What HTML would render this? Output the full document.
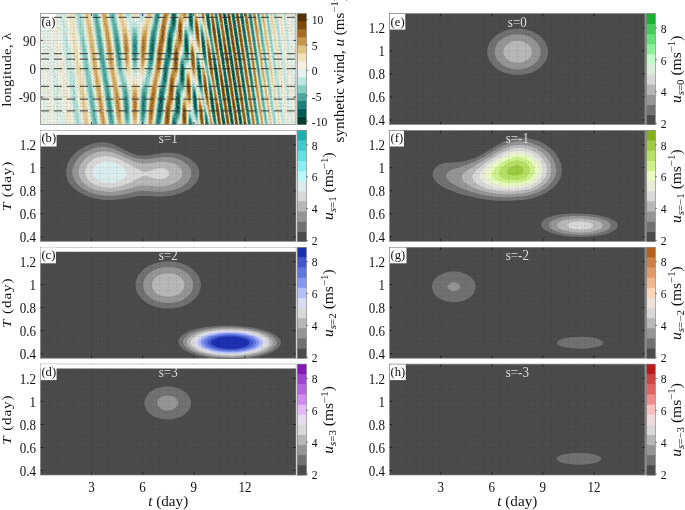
<!DOCTYPE html>
<html><head><meta charset="utf-8"><title>figure</title>
<style>html,body{margin:0;padding:0;background:#fff}svg{display:block}</style></head>
<body><svg width="685" height="510" viewBox="0 0 685 510" font-family="Liberation Serif, serif">
<defs>
<filter id="nz1" x="0" y="0" width="100%" height="100%" color-interpolation-filters="sRGB">
<feTurbulence type="fractalNoise" baseFrequency="0.9 0.95" numOctaves="1" seed="4" result="n"/>
<feColorMatrix in="n" type="matrix" values="0 0 0 0 0.68  0 0 0 0 0.89  0 0 0 0 0.85  4 0 0 0 -2.35" result="a"/>
<feColorMatrix in="n" type="matrix" values="0 0 0 0 0.95  0 0 0 0 0.84  0 0 0 0 0.64  0 4 0 0 -2.35" result="b"/>
<feMerge><feMergeNode in="a"/><feMergeNode in="b"/></feMerge>
</filter>
<filter id="nz2" x="0" y="0" width="100%" height="100%" color-interpolation-filters="sRGB">
<feTurbulence type="fractalNoise" baseFrequency="0.93 0.9" numOctaves="1" seed="11" result="n"/>
<feColorMatrix in="n" type="matrix" values="0 0 0 0 0.96  0 0 0 0 0.95  0 0 0 0 0.91  0 0 3 0 -1.45"/>
</filter>
<clipPath id="ca"><rect x="40.4" y="13.6" width="255.6" height="110.9"/></clipPath></defs>
<rect width="685" height="510" fill="#fff"/>
<rect x="40.4" y="13.6" width="255.6" height="110.9" fill="#f1f0e4"/>
<g clip-path="url(#ca)">
<path fill="#e7f1ec" fill-rule="evenodd" d="M40.4 125.4l9.5 0-3.5-27.6-2.5-22-1.2-14-0.1-3.8 0.3-2 0.5 0.7 1 3.4 3 14.5 4 22.5 4.6 28.3 9.9 0-9.2-63.6-6.8-49.8-9.5 0zM73.7 125.4l9 0-16.8-113.4-9.9 0zM90.7 124.8l0.1 0.6 8.8 0-14.3-95.8-2.6-17.6-9 0zM107.7 125.4l8.6 0-1.2-8.2-3.2-25.8-4.3-25.2-4.2-30.3-3.8-23.9-8.8 0 8.2 54.8 4.3 26.9zM124 125.4l7.8 0-0.6-8.2-0.9-23.3-0.7-7.6-1.1-4.4-2.9-7.5-1.3-5.7-1-7.8-1.7-19.3-0.9-7.5-1.1-6.3-3.3-15.8-8.6 0 4.2 24.6 4 31.5 3.7 17.6 0.9 5.7 1 8.2 1.6 18.9zM138.3 125.4l7.7 0 0.8-6.3 1.3-18.3 0.9-8.2 1.1-6.3 4.3-20.7 2.7-24.6 3.7-22.7 1.2-6.3-8.4 0-1.2 6.3-2.5 9.5-1.1 7.5-2.2 25.2-1.2 9.5-1.2 4.8-1 2.3-2.4 4.2-0.9 3.8-0.4 6.9-0.7 24zM153.6 125.4l8.4 0 1.3-6.9 1.9-17.7 2.5-13.2 1.6-13.9 2.7-12.6 1.7-18.2 0.5-2.5 1.5-4.8 0.6-2.8 1.2-15.8 1-5-8.1 0-0.9 6.9-2.5 10.7-1.8 16.4-2 12.2-1.9 14.9-3 14.5zM170.4 125.4l8.1 0 1.4-3.2 0.6-1.8 0.5-4.4 0.5-12.6 0.4-4.5 0.8-2.7 2-2.6 0.5-2.4 0.4-17.5 0.4-4.4 0.7-1.8 0.5-0.3 2 0.2 0.5-1.2 0.2-4.4-0.1-19.6 0.2-3.1 0.7-1.3 0.5 0.2 1 1.1 2.2 3.8 0.3 0.8 0.1-0.2-1.2-31.5-6.1 0-0.1 6.9-0.3 3.2-0.7 1.2-1.7 1-0.8 2.2-0.4 4.4-0.4 12-0.3 5-0.6 2.5-1.9 3.8-0.6 2.5-1.3 18.3-0.6 3.2-1.6 4.1-0.6 2.8-1.6 17.6-2.4 11.4zM187.5 125.4l6.1 0 0.2-3.2 0.4-1.4 0.5 0.3 0.5 0.7 1.5 3.6 3 0-0.9-8.2-2-29-0.4-1.9-1.4-3.7-1.8-3.4-0.5-0.6-0.5-0.1-0.5 1.5-0.1 3.2 0.4 20.2-0.1 5-0.2 1.1-0.5 0.4-2-1.3-0.5 0-0.6 1-0.5 4.5zM204.8 125.4l4.8 0-1.4-9.4-3.2-15.2-1-5.6-1-8.9-1.6-18.9-0.9-6.9-1.8-6.9-3.5-9-0.1 3.9 1 18.3 1.2 18.3 0.7 3.1 2.9 8.9 1.4 6.3 1.1 7.5zM213.5 125.4l4 0-4.6-34-4.5-25.2-3.5-30.9-1.2-6.3-3.2-12.6-0.8-4.4-3 0 1.2 3.8 1 5.7 2.1 25.2 0.9 8.1 4.6 21.5 3.9 31.5zM221.9 125.4l4.4 0-4.9-31.5-4.2-30.2-4.3-25.2-3.3-26.5-4.8 0 1.6 13.9 4.4 23.3 4 30.8 4.4 25.9zM230.5 125.4l4.2 0-9.2-61.1-3.7-26.5-4.3-25.8-4 0 1.9 12 4 29 3.9 23.9zM239 125.4l4.3 0-17-113.4-4.4 0zM247.5 125.4l4.3 0-17.1-113.4-4.2 0zM256 125.4l4.4 0-17.1-113.4-4.3 0zM264.5 125.4l4.4 0-17.1-113.4-4.3 0zM273 125.4l4.5 0-17.1-113.4-4.4 0zM281.4 125.4l4.7 0-17.2-113.4-4.4 0zM289.8 125.4l5 0-17.3-113.4-4.5 0zM296 110.9l-0.1-35.3-9.8-63.6-4.7 0zM134.1 77.5l1.2 0.3 1.4-0.6 1-1.6 0.5-1.9 0.6-6.3 0.6-26.4 0.7-9.5 0.8-4.4 3.5-8.8 1.6-6.3-7.7 0-0.5 3.8-0.6 2.2-1 1.6-0.9 0.4-1-0.4-0.5-0.5-0.8-1.4-0.7-2.4-0.5-3.3-7.8 0 1.3 5.9 3.1 8.6 1 4.4 0.8 8.8 0.8 22.7 0.5 7.6 0.9 5 0.9 1.7zM296 54.2l-0.1-35.3-1.1-6.9-5 0z"/>
<path fill="#daeeeb" fill-rule="evenodd" d="M58.3 124.8l0.1 0.6 6.1 0-5.1-31.3-4.5-25.6-3-14.8-1-3.6-0.5-1-0.3 1.3 0.1 3.8 1.2 14.3 3 25.8zM74.5 125.4l7.6 0-17.6-113.4-6.1 0 6.8 49.1zM91.3 125.4l7.9 0-17.1-113.4-7.6 0zM108.1 125.4l7.8 0-4.1-32.2-4.4-25.8-4.1-29.6-4.1-25.8-7.9 0 7.9 53.6 4.2 26.4zM124.5 125.4l6.7 0-1.1-27.1-0.8-9.4-0.8-4.5-3.1-8.8-1.3-5.6-1-7.6-1.7-18.9-0.9-8.2-1-5.7-3.6-17.6-7.8 0 4 23.3 4 31.5 3.8 18.3 0.9 5 0.8 7.6 1.7 19.5zM138.8 125.4l6.7 0 1.1-7.6 1.3-18.9 0.8-6.9 1.2-6.9 4.3-20.5 0.8-6 1.9-18.2 4.8-28.4-7.8 0-1.2 6.8-2.6 10.2-1.2 8.2-2.1 24.6-1.1 8.8-0.6 3.1-0.9 3-3 6.5-1 5-0.6 9.5zM153.9 125.4l7.8 0 0.5-2.5 1.2-6.9 1.7-16.4 2.4-12.6 1.7-14.5 2.6-12 1.7-18.3 0.7-3.1 1.5-4.9 0.5-2.7 1.1-14.5 0.8-5-7.5 0-0.9 7.5-2 8.1-0.6 3.3-1.7 15.8-2.1 12.5-1.8 14.5-3.1 15.2zM170.6 125.4l7.5 0 2.2-5.7 0.5-4.4 0.9-17 0.9-3.1 1.8-2.6 0.6-2.5 0.5-17.6 0.3-3.8 0.4-1.7 0.5-0.8 0.5-0.1 1.5 0.1 0.5-0.6 0.3-1.9 0.2-4.5-0.2-18.2 0.2-2.5 0.5-1.8 0.5-0.2 0.5 0.4 2.5 3 0.5-0.6 0-5.9-0.8-21.4-5.7 0 0 7.6-0.4 3.7-0.6 1.2-1.5 0.5-0.5 0.5-0.6 1.6-0.5 4.4-0.4 13.3-0.3 4.4-0.7 2.5-1.5 2.7-0.8 3-1.3 18.2-0.6 3.2-1.7 4.4-0.6 2.9-1.5 17.3-0.5 3.1-2 8.3zM187.7 125.4l5.7 0 0-4.4 0.3-2.3 0.5 0.3 1 1.7 1.9 4.7 2.3 0-2.1-29-0.7-6.9-0.7-3.2-0.9-2.5-1.3-2.8-1-1-0.5 0.4-0.2 0.9-0.2 3.8 0.4 25.8-0.2 0.6-0.3 0.3-1.6-1.5-0.9-0.6-0.5 0.2-0.5 1-0.4 4.4zM204.9 125.4l4.6 0-1.6-10.1-3-13.8-1-5.7-2.6-27.1-1-7.6-1.6-6.7-1.5-4-1-1.7-0.5 0.9 0 5.2 0.8 17.1 0.8 10.7 1 5 3 10.1 1.1 5 1 6.9zM213.6 125.4l3.8 0-4.5-33.4-4.6-25.2-3.5-30.9-1.4-7.5-3.1-11.4-0.9-5-2.3 0 1.3 4.4 0.6 3.8 2 24.6 0.9 8.8 1.1 5.6 2.8 12 1 5.7 3.6 30.2zM222 125.4l4.2 0-4.8-30.9-4.2-30.2-4.4-25.2-3.3-27.1-4.6 0 1.7 13.9 4.4 23.3 3.9 30.2 4.4 26.5zM230.6 125.4l4 0-9.2-61.1-3.7-26.5-4.3-25.8-3.8 0 2.1 13.2 3.7 27.1 4 24.6zM239.1 125.4l4.1 0-17-113.4-4.2 0zM247.5 124.8l0.1 0.6 4.1 0-17.1-113.4-4 0zM256 124.8l0.1 0.6 4.1 0-17-113.4-4.1 0zM264.7 125.4l4 0-17-113.4-4.1 0zM273.3 125.4l3.8 0-16.9-113.4-4.1 0zM281.9 125.4l3.5 0-16.7-113.4-4 0zM290.8 125.4l2.8 0-16.5-113.4-3.8 0zM295.9 100.8l0.1 0.4 0-15.1-10.6-74.1-3.5 0zM134.5 75.6l0.8 0.2 0.5-0.1 0.9-1 0.9-2.2 0.5-3.2 0.6-8.8 0.6-25.8 0.5-6.9 0.9-3.2 2.5-5.2 1-2.5 1.3-4.9-6.7 0-0.4 5-0.4 2.6-0.8 1.6-0.5 0.4-0.9 0.4-1-0.2-1-0.5-1.2-1.7-0.8-3-0.6-4.6-6.7 0 1.3 5.4 2.9 7.2 1 3.8 0.7 7.5 0.8 23.3 0.6 8.2 1 5.6 0.9 2zM295.9 44.1l0.1 0.4 0-15.1-2.4-17.4-2.8 0z"/>
<path fill="#c4e8e2" fill-rule="evenodd" d="M75.3 125.4l6.2 0-6.7-41.7-6.9-41.5-4-20.4-1-3.5-0.5 0.1 0.5 9.6 2.5 22.7 4 31.2zM91.7 125.4l7.1 0-4.5-30.6-12.8-82.8-6.2 0zM108.5 125.4l7 0-4-31.5-4.3-25.8-4.4-30.9-4-25.2-7.1 0 7.6 51.7 4.3 27.1zM124.9 125.4l5.8 0-0.8-23.9-0.9-11.4-0.9-4.4-3-8.8-1.2-5-0.9-7-1.7-19.5-1-8.8-1-5.9-2.7-12.4-1.1-6.3-7 0 3.9 22.7 3.9 30.9 4.6 22.6 1 8.2 1.7 20.2zM139.3 125.4l5.7 0 0.3-1.3 1.1-7.5 1.4-19.5 0.7-7 1.1-5.7 4.6-21.7 2.6-23.6 4.6-27.1-7.2 0-1.2 7.6-2.8 10.7-1.1 8.2-2.2 25.2-1 8.8-1.2 5-3.3 7.6-0.9 5-0.7 12zM154.2 125.4l7.2 0 0.8-4 1.1-6.7 1.6-15.8 2.3-11.9 1.8-15.1 2.7-12.2 1.7-18.1 2.6-10.7 1.2-15.1 0.5-3.8-6.9 0-0.9 8.2-2.1 8.2-0.6 3.6-1.6 15.3-2.1 12.6-1.8 14.5-3.1 15.1zM170.8 125.4l6.9 0 2.5-6.9 0.5-4.3 0.5-12.7 0.5-5.1 0.5-1.9 2-2.7 0.6-2.9 0.5-17.7 0.4-4.2 0.5-1.5 0.5-0.5 1.5 0 0.5-0.2 0.5-1.8 0.3-5.6-0.2-17.7 0.3-3.8 0.6-0.8 0.5 0.2 2.5 2.7 0.5-0.3 0.2-1.1 0-7-0.7-17.6-5.3 0 0 8.8-0.3 3.8-0.4 1.1-2 0.4-0.5 0.7-0.5 1.8-0.5 4.8-0.6 16.4-0.4 2.3-1.9 3.4-0.7 2.5-0.4 3.8-1 15.6-0.6 2.6-1.7 4.4-0.6 2.6-1.5 17.6-2.4 10.7zM187.9 125.4l5.3 0-0.4-6.9-0.4-3.2-1.6-3.1-1.1-1.2-0.5-0.1-0.6 0.6-0.5 2.6zM197.6 125.4l1.4 0-2.1-31.5-0.7-4.4-0.9-3.8-1.6-3.7-0.5-0.6-0.5 0-0.6 1.8-0.1 6.3 0.4 14.5 0.5 9.4 0.6 2.6zM205 125.4l4.4 0-1.7-10.1-2.8-12.6-1-5.6-2.6-27.1-1-7.6-1.6-7.1-1-2.7-1-1.7-0.5 0.1-0.2 0.7 0 5.7 0.6 13.2 0.8 10.1 1.1 6.3 2.9 10.1 1.4 6.3 0.7 5.6zM213.6 124.8l0.1 0.6 3.6 0-4-29.6-1.5-9.5-3.5-18.2-3-27.1-1.3-8.8-1.9-7.8-2.6-8.6-0.5-3.8-1.4 0 0.9 2.5 0.5 2.5 1.9 25.2 1 10.1 1 5.7 2.9 12.6 1.1 5.7 3.6 30.2zM222.1 125.4l4 0-4.8-30.2-4.2-30.4-4.6-27-3.1-25.8-4.4 0 1.8 14.5 3.1 15.7 1.4 8.2 3.6 28.4 4.4 26.4zM230.6 124.8l0.1 0.6 3.8 0-9.1-60.5-4.1-29-4-23.9-3.6 0 2.1 12.6 3.6 27.1 4 24.6zM239.1 124.8l0.1 0.6 3.9 0-17-113.4-4 0zM247.7 125.4l3.8 0-13.4-90.1-3.6-23.3-3.8 0zM256.3 125.4l3.7 0-16.9-113.4-3.9 0zM264.9 125.4l3.5 0-16.8-113.2-0.1-0.2-3.8 0zM273.5 124.8l0.1 0.6 3.1 0-16.6-113.1-0.1-0.3-3.7 0zM282.5 124.8l0.1 0.6 2.1 0-16.3-113.4-3.5 0zM288.5 102.7l0.2-0.6-0.2-3.9-2-16.1-9.8-70.1-3.1 0 9.9 62.5zM134.9 73.7l0.9-0.1 1.1-1.7 0.7-3.2 0.5-4.4 0.6-20.8 0.1-13.2-0.2-4.4-0.6-1.3-3.7-0.9-1-0.5-1.2-1.1-0.6-1.3-0.4-1.9-0.4-6.9-5.8 0 1.4 4.8 1 2.3 2.3 4.2 0.6 1.9 0.4 5.1 0.7 23.9 0.7 10.7 0.5 3.8 0.6 2.5 0.7 1.6 0.5 0.6zM288.5 46l0.2-0.6-0.2-3.9-3.8-29.5-2.1 0 3.4 20.7zM139.6 20.8l0.1 0.3 0.5 0.3 0.5-0.2 1.5-1.8 1.5-3.1 1.3-4.3-5.7 0 0 6.3z"/>
<path fill="#afe1d9" fill-rule="evenodd" d="M76.2 125.4l4.5 0-6.9-40.2-2.4-12.1-1-3.1-0.2 1.9 0.1 3.7 1.1 10.6zM92.2 125.4l6.2 0-4.6-30.9-13.1-82.5-4.5 0 6.6 48.5zM108.8 124.8l0.1 0.6 6.2 0-3.8-30.8-4.2-24.6-4.3-30.6-4.4-27.4-6.2 0 7.1 49.1 4.7 29.7zM125.5 125.4l4.6 0-0.3-20.7-1-12.7-1-5-3.1-8.8-1.1-5.1-0.9-6.9-1.5-18.3-1.1-9.4-0.9-5.7-2.8-13.2-1.3-7.6-6.2 0 3.6 20.8 3.8 30.9 1.5 7.6 2.3 9.4 1.1 5.6 0.8 7.6 1.8 20.8 0.8 6.3zM139.9 125.4l4.6 0 0.7-3.1 1-7.4 1.4-19.7 0.8-7 5.6-25.8 0.7-5.7 1.9-18.2 4.4-26.5-6.5 0-1.3 8.2-2.9 12-1.1 8.2-2.1 25.8-0.9 7.5-1.2 5.1-3.2 7.5-1.1 5.7-0.8 14.5zM154.5 125.4l6.5 0 1.2-5.5 1-6.3 1.5-15.3 2.5-12.9 1.7-14.2 0.7-3.8 1.6-6.3 0.5-3.1 1.5-17.2 0.5-2.6 1.5-4.9 0.6-3 1.6-18.3-6.4 0-0.9 8.8-1.9 7.6-0.9 4.4-1.6 15.4-2.1 12.3-1.8 15.1-3.1 14.7zM171 125.4l6.4 0 0.6-2.5 1.6-3.8 0.5-1.9 0.5-5 0.5-12 0.3-4.4 0.8-2.6 1.5-1.8 0.5-1 0.5-2.6 0.7-21.6 0.3-1.4 0.5-0.8 2-0.2 0.5-0.6 0.4-2.1 0.2-5.6-0.1-21.4 0.5-0.9 0.5 0.3 2.5 2.9 0.5 0 0.4-1.7 0.1-7.6-0.7-15.1-5 0 0.2 11.3-0.2 3.2-0.3 0.8-2-0.3-0.5 0.3-0.5 0.9-0.4 1.4-0.4 5.1-0.3 12.6-0.3 4.4-0.6 2.1-1.5 2-0.4 0.9-0.6 2.6-1.3 18.9-0.5 2.5-1.7 3.9-0.7 3-1.6 18.3-2.4 10.1zM188 125.4l5 0-0.5-5.7-0.5-3.1-1.2-3.2-1.1-1.3-0.5 0-0.5 0.7-0.4 1.9zM198.1 124.8l0.4-1.9-0.3-6.9-1.5-21.5-0.6-4.4-0.8-3.1-1.1-3.1-1-1.3-0.5 0.4-0.2 0.8-0.4 5.1 0.4 11.9 0.6 9.5 0.4 3.1 0.9 3.2 2.3 5.5zM205.1 124.8l0.1 0.6 4 0-1.6-9.8-3.8-17.3-2.5-27.1-1.1-8.2-1.5-6.7-1-2.6-0.5-0.9-0.5-0.3-0.5 2.3 0 5.1 0.5 10.1 0.7 9.4 1.2 6.9 3.3 11.4 0.9 4.4 0.7 5zM213.9 125.4l3.3 0-4.5-32.8-4.7-25.8-2.6-23.9-1-7.6-1.8-8.2-1.5-4.9-0.9-2-0.3 2.5 0.3 7 0.8 12.5 1 8.9 1 6.3 2.8 11.9 1.1 5.7 3.6 30.9zM222.2 125.4l3.8 0-5.1-32.1-3.8-27.8-4.6-27-3.3-26.5-4 0 1.7 13.9 4.4 23.3 3.6 29 4.4 26.4zM230.8 125.4l3.6 0-4.3-29.4-4.7-29.8-4.3-30.4-3.9-23.8-3.3 0 1.9 12 3.7 27.7 4.3 26.5zM239.3 125.4l3.7 0-16.9-112.9-0.1-0.5-3.8 0zM247.9 125.4l3.5 0-13.3-89.3-3.7-24.1-3.6 0zM256.5 125.4l3.3 0-16.7-112.6-0.1-0.8-3.7 0zM265.2 125.4l2.9 0-16.5-112.3-0.2-1.1-3.5 0zM274 125.4l2.2 0-16.4-113.4-3.3 0zM281.5 112.2l0-3.1-2.5-20-10.9-77.1-2.9 0 11.3 72.2 3.5 20.6zM134.2 71.2l0.6 0.5 0.5 0 0.9-1 0.9-2.6 0.5-3.2 0.7-11.3 0-17-0.3-5.7-0.7-3.1-0.6-0.9-0.9-0.7-2.5-0.5-0.7 0.2-0.6 0.6-0.5 2.5-0.2 5.7 0.1 10.7 0.3 10.7 0.6 7.3 0.8 5.3zM281.5 55.5l0-3.1-0.5-4.4-4.8-36-2.2 0 5 30.4zM128.4 18.3l0.4 0.2 0.5-0.1 0.5-1.1 0.3-5.3-4.6 0 1.3 3.9 1 1.7zM140.9 17.7l0.3 0.1 0.5-0.1 1-1.2 1-2.1 0.8-2.4-4.6 0 0.3 4.1z"/>
<path fill="#91d4ca" fill-rule="evenodd" d="M77.3 124.8l0.1 0.6 2.2 0-2.3-11.3-0.5-1.9-0.5-0.5 0 2.2zM92.6 125.4l5.4 0-4.2-27.8-8-49.8-5.5-31.9-0.7-3.9-2.2 0 5.4 43.5zM109.3 125.4l5.4 0-3.4-28.2-4.3-25.3-4.2-29.9-4.8-30-5.4 0 7.2 49.8 4.2 26.4 3.3 24.6zM126.1 125.4l3.3 0 0.1-1.3 0.2-6.9-0.2-10.1-0.4-7.5-0.6-6.3-1.2-5.7-3.2-8.8-1-4.4-0.7-6.3-1.6-20.8-0.9-7.6-1.1-7-2.9-13.1-1.2-7.6-5.4 0 3.3 18.9 3 25.2 1.2 7.8 1 5.1 2.7 10.4 1 5 0.6 5.7 2 24.6 0.9 6.3zM140.5 125.4l3.4 0 1.3-5.4 1-8.5 1.2-18.2 0.6-6.3 1-5.1 3.2-12.9 1.5-7.1 1-7.4 1.7-17.3 4.3-25.2-5.9 0-1.3 8.8-3.1 12.6-1.2 9.5-1.9 24.5-0.8 8.2-1.1 4.4-3.2 7.1-0.7 3-0.5 3.8-0.6 7.6-0.2 9.4 0 8.8zM154.8 125.4l5.9 0 1.5-7.1 1-6.7 1.6-15.8 2.4-12 1.8-15.1 2.4-10.7 1.7-18.3 2.6-10.4 1.4-17.3-5.9 0-1 9.8-2 7.8-0.7 3.8-1.7 15.8-2.1 12.6-1.7 14.5-2.4 10.7-0.9 5zM171.2 125.4l5.9 0 0.6-3.2 2-4.7 0.7-5.3 0.5-13.3 0.4-4.4 0.8-2.5 1.1-1.2 0.7-1.3 0.6-3.2 0.7-21.8 0.5-1.6 0.5-0.3 1.5 0.2 0.5-0.3 0.6-2 0.3-8.8-0.6-18.9-0.5-2.5-0.8-1.3-1-0.8-0.5-0.1-0.5 0.4-0.8 2.4-0.4 5-0.5 17.1-0.4 1.8-1.9 2.2-0.8 2.9-0.5 4.4-0.8 15.1-0.6 2.5-1.5 3.2-0.8 2.9-0.5 4-1.1 14.5-0.6 3.1-1.8 7zM188.2 125.4l4.6 0-0.5-5-0.6-3.2-1-2.9-1-1.1-0.5 0.1-0.4 0.8-0.3 1.9zM205.3 125.4l3.8 0-2-11.4-3.2-12.5-0.4-2.6-2.1-25.2-1.2-9.9-1.5-6.6-1-2.5-0.5-0.6-0.6 0.7-0.2 5.1 0.4 8.8 0.7 9.5 0.6 4.4 0.9 4.4 3.9 13.2 0.5 3.2zM214 125.4l3 0-4.4-32.6-4.6-24.7-2.7-24.6-1-7.6-1.7-7.9-1-3.3-1-1.9-0.4 1.8 0.2 6.3 0.7 10.7 0.9 8.8 1.2 7 3.7 16.3 3.7 32.2zM222.3 125.4l3.6 0-5-31.5-4.3-30.8-4.2-24-3.3-27.1-3.8 0 1.7 13.9 4.3 22.6 3.8 29.7 4.3 25.8zM230.9 125.4l3.4 0-4.2-28.7-4.7-29.9-4.3-30.3-4.1-24.5-3 0 1.9 11.3 3.7 27.8 4.2 26.4 3.8 26.7zM239.4 125.4l3.4 0-16.7-112.1-0.2-1.3-3.6 0zM248 125.4l3.3 0-13.2-88.6-3.8-24.8-3.4 0zM256.5 124.8l0.2 0.6 2.9 0-16.5-111.8-0.3-1.6-3.4 0zM265.4 125.4l2.4 0-16.5-113.4-3.3 0zM274.7 125.4l0.9 0-1.6-12.1-5.5-39.7-8.9-61.6-2.9 0 11.8 76.5zM197.5 122.2l0.3 0 0.3-1.2 0-3.8-0.6-12-0.8-9.4-0.8-5-0.7-3.3-1-2.6-0.5-0.8-0.5-0.2-0.5 1-0.2 0.8-0.2 5.7 0.4 10.1 0.6 8.1 0.6 3.8 0.9 3.2 1.9 4.4zM276 75l0 0.6 0-2.8-1.5-12.4-6.7-48.4-2.4 0 7.1 44.4 2.5 14.4zM134.6 69.3l0.7 0.3 0.5-0.4 0.4-0.9 1-4.4 0.7-8.4 0.2-12-0.3-7.6-0.6-4.6-1-2.3-0.9-0.8-1-0.2-1 0.4-0.5 0.6-0.6 1.9-0.4 4.4-0.1 7.6 0.3 10.7 0.5 8.2 0.8 4.6 0.5 1.7zM192 34.7l0.7 0.4 0.5-0.6 0.3-3-0.1-8.2-0.6-11.3-4.6 0 0.3 12 0.4 5 0.9 2.5zM276 18.9l0-2.9-0.4-4-0.9 0zM127.9 15.2l0.4 0.1 0.5-0.3 0.6-3-3.3 0 0.7 1.6zM141.1 14.5l0.6 0.6 0.5-0.2 1-1.4 0.7-1.5-3.4 0z"/>
<path fill="#78c6bb" fill-rule="evenodd" d="M93.2 125.4l4.3 0-4.2-27.5-7-41.6-2.5-13.8-1.5-5.9-0.2 1.9 0.2 3.7 1.5 13.8zM109.7 125.4l4.5 0-3.4-28.9-4.2-24-4.3-31-4.8-29.5-4.3 0 6.6 46.9 4.6 29.3 3.4 25.5zM127.2 125.4l1.1 0 0.5-1.2 0.5-5.5-0.2-12.8-0.8-10.7-1.5-6.8-3.8-8.4-0.5-1.8-1.7-26.5-1-10.1-1.5-8.9-2.8-12.5-1.3-8.2-4.5 0 3.3 17.6 2.8 24.8 1.5 9.8 1.5 6.4 2.8 8.2 0.5 1.9 2.2 31.9 1.5 9.2 0.5 1.7zM141.6 125.4l1.3 0 0.3-0.5 1-2.6 1-4.8 1-9.7 1.4-24 0.5-2.5 3.6-12.2 1.9-8.6 0.9-6.3 1.8-18.9 4-23.3-5.2 0-1.4 10.1-2.5 9.3-0.7 3.9-1.3 11-2.3 32.5-1 3.1-2.2 3.7-1 2.2-1 3.8-0.5 4.2-0.6 8.8-0.1 10.7 0.3 6.3 0.3 2.5zM155.1 125.4l5.2 0 1.9-8.7 0.9-6.4 1.5-15.1 2.3-11.4 1.9-15.7 2.5-10.7 1.7-18.9 0.5-2.6 1.7-5.5 0.4-2.6 1.2-15.8-5.4 0-1 10.7-2.2 8.4-0.5 3-1.8 16.3-2.2 13.3-1.6 13.8-3.1 14.5zM171.4 125.4l5.4 0 0.6-3.8 1.8-3.9 0.5-1.7 0.6-5.1 0.7-17.6 0.7-2.2 1.5-1.5 0.5-0.8 0.7-3.7 0.5-22.7 0.3-1.1 0.5-0.2 2 0.5 0.5-0.4 0.5-1.8 0.2-9-0.5-13.8-0.8-5.1-0.6-1.2-0.8-1-0.5 0-0.5 0.5-0.5 1.5-0.4 2.8-0.5 21.4-0.6 1.2-1 0.4-0.8 0.9-0.8 2.5-0.6 5.1-0.7 15.1-0.6 2.5-1.9 3.8-0.6 2.7-1.5 18.1-0.4 2.5-2 7.5zM188.4 125.4l4.2 0-0.5-4.4-0.6-3.2-0.8-2.4-0.5-0.7-0.5-0.4-0.5 0.4-0.5 1.9zM205.4 125.4l3.6 0-2.4-12.7-1.5-5.5-0.5-1.3-0.5-0.4 0.1 3.5zM214.1 124.8l0.1 0.6 2.7 0-4.3-31.8-4.7-24.3-2.6-24.5-1.1-8.2-1.6-7.7-1.5-4-0.5 0.3 0 0.7 0 5.6 0.5 8.8 1 9.5 1.3 7.6 3 12.6 0.9 5 3.3 29.9zM222.4 125.4l3.4 0-4.9-30.9-4.3-30.6-4.2-23.5-3.4-28.4-3.6 0 1.7 13.5 4.2 21.8 3.8 30.2 4.3 25.9zM231 125.4l3.2 0-4.1-28-4.7-30-4.3-30.1-4.2-25.3-2.7 0 1.6 10.1 3.8 28.6 4.2 26.2 3.8 26.5zM239.5 125.4l3.2 0-16.6-111.4-0.3-2-3.4 0zM248 124.8l0.1 0.6 3 0-13.5-91.1-3.4-22.3-3.2 0zM256.8 125.4l2.6 0-16.7-113.4-3.2 0zM265.8 125.4l1.7 0-16.4-113.4-3 0zM197.1 120.4l0.6-0.4 0.1-4-1.1-17.7-1.2-8.2-0.8-3.1-1-1.7-0.5 0-0.4 1-0.3 3.8 0.2 7.9 0.5 9.1 0.6 4.4 0.8 3.2 1.1 3.1zM271.5 101.5l0 0.1 0-1.3zM271 99.6l0 0.1 0.2-0.1 0.1-0.7-0.3-3.4-1.5-11.8-10.1-71.7-2.6 0 9.2 58.6zM202 95.2l0.1 0.4 0.5-0.2 0-2.2-1-14.9-0.9-9.6-1.5-8.7-1-3.2-0.5-0.9-0.5-0.3-0.5 2.1-0.1 5.3 0.5 8.9 0.7 6.9 1.4 7.7 1.4 5.1zM134.4 66.8l0.4 0.4 0.5 0.1 0.5-0.5 0.9-3.2 0.7-6.2 0.3-8.9-0.1-8.1-0.5-5.7-0.9-3.1-0.4-0.8-1-0.6-1 0.4-0.5 0.7-0.5 1.5-0.5 3.9-0.2 5.5 0.1 9.5 0.5 7.5 0.6 4.5 0.5 1.8zM271.5 44.8l0 0.3 0-1.7zM271 42.9l0 0.2 0.3-0.2 0-0.7-0.3-3.4-3.5-26.5 0-0.3-1.7 0zM191.9 33.4l0.3 0.2 0.6-0.2 0.3-1.2 0.2-1.9-0.1-8.2-0.6-10.1-4.2 0 0.3 10.1 0.6 5.7 1 3.1zM127.2 12l0.6 0.4 0.5-0.4zM141.6 12l0.6 0.5 0.7-0.5z"/>
<path fill="#59b1a6" fill-rule="evenodd" d="M93.7 124.8l0.1 0.6 3 0-4.5-28.9-3-15.1-0.5-2.1-0.5-0.9 0.5 7.6 1 9.2zM110.2 125.4l3.5 0-2.9-26-4.2-23.8-4.3-30.8-5.5-32.8-3 0 6.5 46.9 4.3 26.8 3.7 28.5zM155.5 125.4l4.5 0 2.2-10.4 2.3-21.1 2.2-10.8 1.9-15.7 2.1-8.5 0.5-2.9 1.6-18.8 0.5-2.5 1.4-3.9 0.7-3.7 1.1-15.1-4.9 0-1.1 12-1.9 6.9-0.9 4.7-1.5 15.5-2.2 12.6-1.7 14.5-3.1 14.5zM171.6 125.4l4.9 0 0.7-4.8 2-4.3 0.5-2.1 0.5-5.2 0.6-17.6 0.4-1.4 0.5-0.6 1.5-1.1 0.5-1 0.6-4.7 0.2-8.9-0.3-11.3-0.3-2.5-0.7-1.2-0.5-0.2-0.5 0-0.5 0.3-0.5 0.9-0.5 1.9-0.5 4.7-0.7 16.3-0.5 1.8-1.8 2.8-0.8 2.9-0.6 5.1-0.9 13.8-0.4 2.5-1.8 5.8zM188.6 125.4l3.8 0-0.6-4.4-0.6-3.1-1-2.1-0.5-0.2-0.5 0.6-0.4 2.3zM205.6 125.4l3.2 0-2.2-11.8-1.5-4.8-0.5-0.2 0 4.9zM214.4 125.4l2.3 0-3.1-24-2-12.8-3.7-16.7-2.3-23.2-1.5-11.8-1.5-7-1-2.8-0.5-0.4-0.3 2.3 0.1 5.1 1.2 14.7 1.5 8.8 3.7 14.9 3.3 31.4 1.5 9.6zM222.5 125.4l3.2 0-4.8-29.6-4.3-31.1-4.2-23.1-3.6-29.6-3.2 0 1.5 12.6 4.3 22.1 3.7 30.2 4.3 25.8zM231 124.8l0.1 0.6 3 0-4.5-30.5-4.7-30-3.8-26.9-4.4-26-2.3 0 1.5 9.5 3.7 28.4 4.2 25.7 3.8 27zM239.6 124.8l0 0.6 3 0-16.9-113.4-3.2 0zM248.3 125.4l2.6 0-13.3-90.4-3.5-23-3 0zM257 125.4l2.2 0-16.6-113.4-3 0zM266.4 125.4l0.5 0-0.4-3.4-2-15.3-13.4-93.9-0.2-0.8-2.6 0 12.8 82.1zM141.9 122.9l0.3 0.4 0.5-0.1 1-1.6 1-3.8 0.8-5.6 0.7-9.5 0.3-9.4-0.2-5.7-0.6-1.5-0.5 0-0.5 0.4-1.5 2.2-1 3.2-0.7 5.2-0.6 8.1 0 8.9 0.3 6.2zM126.9 122.2l0.4 0.5 0.5 0 0.2-0.5 0.7-3.7 0.2-7.6-0.4-8.8-0.7-6.8-0.9-3.9-1.1-2.9-1-1.6-0.5-0.2-0.6 0.9-0.2 3.8 0.6 14.5 1.2 10.8 1 4.2zM196.6 118.5l0.6 0.2 0.1-0.2 0.3-3.2-0.3-7.5-0.6-8.2-1.3-8.8-0.7-2.7-0.5-1.1-0.5-0.5-0.5 0.5-0.2 0.6-0.3 3.8 0.1 6.9 0.5 6.9 0.5 4.4 0.8 3.8 1.1 3.4zM201.6 92.6l0 0.2 0.5-0.2 0.1-4.4-1.4-17.6-0.6-4.5-1-5.1-1-3.1-0.5-0.8-0.5 0.2-0.2 0.7-0.2 3.8 0.3 7.5 0.6 7 1.5 9.1 1.4 5.1zM148.6 74.4l0.1 0.3 0.5-0.4 1-2.3 1.5-4.9 1.5-6.3 1-6.8 1.8-19.3 4-22.7-4.5 0-1.6 11.3-2.2 8-1 4.6-1 8.1-1 14-0.5 12 0.1 2.5zM267 72.5l0 0.3 0-3.5-1-8-6.8-49.3-2.2 0 6.6 40.8zM119.9 70.6l0.4 0.6 0.5-0.3 0.1-0.9 0.1-7.6-0.7-12.6-1.5-11.8-3.8-16.5-1.3-9.5-3.5 0 2.3 10.7 1 6.3 2.3 22.1 1 7.5 1.5 7.5zM134.4 64.3l0.4 0.5 0.5 0 0.5-0.6 0.5-1.8 0.8-5.7 0.2-7.5-0.1-7.2-0.5-5.4-0.9-3.2-0.5-0.6-0.5-0.2-0.5 0.2-0.5 0.6-0.7 1.9-0.4 3.2-0.2 5.6 0.1 7 0.4 6.3 0.6 4.4zM186.2 59.9l1 0.5 0.5 0 0.6-1.2 0.4-3.1 0-7.6-0.3-8.8-0.6-5-0.9-3.2-0.7-1-0.5 0-0.5 0.6-0.3 1.1-0.4 3.1-0.2 14.5 0.4 7.6 0.5 1.2zM191.8 32.2l0.4 0.2 0.5-0.5 0.4-3.5-0.1-7.6-0.6-8.8-3.8 0 0.2 8.2 0.6 5.7 0.9 3.7 0.9 1.8zM267 15.8l0 0.2 0-3.3-0.1-0.7-0.5 0z"/>
<path fill="#429f96" fill-rule="evenodd" d="M95.2 125.4l0.2 0-0.1-1.6zM111 125.4l1.9 0-1.1-14-1-8.5-1.5-9.3-3.7-19.2-2.8-22-1.5-10-5.2-26.6-0.3-2.4-0.2-0.1-0.2-1.3-0.2 0 5.1 42.8 4.3 25.9 4.2 33.4zM155.8 125.4l3.8 0 2.6-12 2.1-20.8 2.4-11.5 1.7-14.9 2.1-8.2 0.7-3.8 1.4-18.3 0.6-2.5 1.5-4.1 0.6-2.8 0.4-4.4 0.5-10.1-4.3 0-1 12-0.6 3.1-1.6 4.9-0.8 3.9-1.6 16.4-2.1 12-1.8 15.7-2.2 9.2-1 5.5zM171.9 125.4l4.3 0 0.6-5.7 0.5-1.2 1.7-3.2 0.7-3.1 0.4-7.6 0.2-15.7 0.4-1.2 1.5 0 1-0.7 0.6-1.9 0.4-3.8 0.1-8.8-0.4-8.2-0.7-3.6-0.5-0.7-0.5-0.2-0.5 0.3-0.5 1-0.7 4.5-0.6 20.1-0.2 0.7-1.5 0.7-0.5 0.5-1 2.7-0.6 4.9-1 15.7-0.6 2.5-1.3 3.5-0.5 2zM188.7 125.4l3.5 0-1-6.2-1-2.2-0.5-0.1-0.5 1-0.2 1.2zM205.6 124.8l0.1 0.6 3 0-2.1-10.8-1-3.2-0.5-0.6-0.1 4.5zM214.5 125.4l2 0-2.9-23-1.5-10.1-2-9.9-1.5-5-0.1 1.4 0.1 4.1 1.5 16 1.5 10.8zM222.6 124.8l0.1 0.6 2.9 0-4.7-29-4.3-30.9-4.6-25.1-3.3-28.4-3 0 0.9 8.2 1 6.3 3.8 18.3 3.7 31.2 4.8 28.6zM231.3 125.4l2.6 0-3.8-26.4-4.8-30.3-4.2-29.9-4.5-26.4-0.1-0.4-2 0 1.4 8.2 3.7 28.9 4.2 25.9 4.3 30.2zM239.8 125.4l2.7 0-13.1-86.9-3.8-26.3 0-0.2-2.9 0zM248.5 125.4l2.3 0-13.2-89.5-3.7-23.9-2.6 0zM257.3 125.4l1.6 0-16.3-112.6-0.1-0.8-2.7 0zM94.8 122.9l0 0.3 0-2.5zM142.4 120.4l0.3 0.2 0.5-0.4 1-2.6 0.8-4.2 0.5-5 0.4-7.6 0-6.9-0.3-3.1-0.4-1.2-0.5-0.3-1 0.8-1 2.5-0.6 3.2-0.5 4.4-0.3 6.9 0 6.3 0.4 5.3zM94.3 119.1l0 0.3 0-1.6zM126.7 119.1l0.6 0.4 0.5-0.6 0.5-2.8 0.1-5.2-0.1-6.2-1-8.7-1-3.5-1-1.6-0.5 0.1-0.5 1.9 0 9.5 1 10.9 0.5 2.8zM196.1 116.6l0.6 0.6 0.4-0.6 0.2-1.9-0.1-6.3-0.5-7.6-0.6-5-0.9-5-1-2.6-0.5-0.3-0.5 1.1-0.3 3.6 0.5 11.4 1 7.5 0.8 2.8zM263.5 104.6l0.1 0.4 0-1.1zM263 102.7l0.1 0.3 0.1-0.9-0.1-2.8-1.5-11.6-10.8-75.7-2.3 0 9.1 58.3zM201 90.1l0.6 0.6 0.2-3.1-0.2-5.1-0.9-10.6-0.5-4.6-1-5.3-1-2.9-0.5-0.6-0.5 1.4-0.1 3.8 0.7 11.9 1.4 8.7 1 3.7zM149.4 69.3l0.3 0.3 0.5-0.6 1-2.5 2-7.8 1-7.5 1.6-19 1.9-9.2 1.9-11-3.8 0-1.4 12-0.5 2.5-2.2 6.8-0.7 3.3-1 7.5-0.8 11.6-0.2 9.9zM206.6 66.8l0.1-3.8-0.6-7.3-1.5-14.4-1.5-8.5-1-3.4-0.5-0.9-0.5 0.7 0 4.2 1 14 1 6.7 1 4.7 1.5 5.5zM119.2 65.6l0.6 0.5 0.5-1.7 0.1-2.6-0.3-7.6-0.7-8.8-1.6-9.4-1.5-5.4-1.5-3.9-0.3 1.7 0.3 6.3 1.5 16.8 1.5 9.6zM134.6 61.8l0.2 0.3 0.5 0 0.5-0.8 0.4-2 0.5-4.4 0.2-5.7-0.1-6.3-0.4-3.8-0.6-2.8-0.5-0.8-0.5-0.2-0.5 0.3-0.5 1-0.4 1.9-0.5 7.5 0.4 9.5 0.5 3.8zM186.3 58.6l0.9 0.6 0.5-0.2 0.5-1.2 0.3-3.6 0-6.3-0.3-7.5-0.5-4.6-1-3.4-0.5-0.6-0.5 0-0.6 1-0.5 3.1-0.1 12 0.6 7.6 0.5 1.9zM263 46l0.1 0.2 0-3.4-4-30-0.2-0.8-1.6 0zM191.9 30.9l0.3 0.1 0.5-1.3 0.2-3.2-0.2-7.6-0.5-6.9-3.5 0 0.3 7.6 0.6 5.6 1.1 4 0.5 1zM112.7 17.7l0.1 0.2 0.3-1.5-0.2-4.4-1.9 0z"/>
<path fill="#288980" fill-rule="evenodd" d="M156.3 125.4l2.8 0 2.7-12 0.9-6.6 1.3-15.4 2.3-10.1 2-17 1.9-6.5 0.7-3.6 1.4-19.5 0.6-2.5 1.8-4.6 0.5-2.8 0.7-12.8-3.8 0-1.1 14.5-0.4 1.9-1.4 3.5-1 4.2-1.7 17.5-2.3 13-1.5 14.7-0.6 3.1-1.9 6.6-0.8 4.8zM172.1 125.4l3.8 0 0.2-5 0.4-2.6 2.2-3.1 0.6-1.9 0.6-6.3 0-10.7-0.3-5-0.4-1.6-0.5-0.6-0.5 0-0.5 0.4-0.5 1-0.5 2.1-0.6 5-0.7 15.7-0.4 1.9-1.8 3.8-0.5 2.2zM189 125.4l3 0-0.8-4.8-1-2.3-0.5 0-0.5 1.9zM205.9 125.4l2.6 0-1.4-7.7-1-3.7-0.5-0.9-0.3 1 0 1.9zM214.6 124.8l0.2 0.6 1.5 0-2.7-22-1.5-10.2-1.5-7.6-1-3.7-0.5-1-0.1 1.7 0.1 4.1 1.5 15.1 1.5 9.9zM222.8 125.4l2.6 0-4.5-27.7-4.8-34.4-1.5-7.9-2.8-12.5-1.7-17.7-1.6-13.2-2.6 0 0.7 7.1 1 6.4 4.3 19.3 1.7 18 1.5 12.3 4.7 28.3zM231.4 125.4l2.4 0-3.7-25.6-4.7-29.8-3.8-27-2-12.5-3.3-18.5-1.5 0 1.5 10.1 3.3 26.1 4.3 26.2 4.2 30zM239.9 125.4l2.4 0-13-86.3-3.7-26.1-0.2-1-2.6 0zM248.5 124.8l0.2 0.6 1.9 0-13.5-92-3.3-21.4-2.4 0zM257.6 124.8l0.1 0.6 0.9 0-6.5-46.6-9.5-65.1-0.3-1.7-2.4 0 10.2 66.1zM111 119.7l0.3 0.4 0.1-4.8-1.1-11.4-1.5-8.5-1-3.8-0.5-1 0 5.5 1 9.9 1.5 9.6 0.5 2.3zM142.6 117.2l0.1 0.3 0.5-0.1 1-2.7 1-8 0.3-5.9-0.1-5-0.4-2.5-0.3-0.7-0.5-0.2-0.5 0.4-0.5 1-0.5 1.7-0.8 7.2-0.2 9.6 0.4 3.7zM126.7 115.3l0.1 0.2 0.5-0.2 0.5-2.5 0-7.5-0.5-5.1-0.5-2.5-0.5-1.7-0.5-0.7-0.5 0.3-0.3 1.5-0.1 6.3 0.9 8.8 0.5 2.2zM196.1 115.3l0.6 0.2 0.3-2.7-0.5-12-1.3-8.8-1-2.6-0.5 0-0.5 2-0.1 3.1 0.5 10.1 1.1 6.7 0.5 1.8zM200.8 88.2l0.3 0.5 0.4-1.1 0-1.9-0.9-13.2-1.4-9.4-1-2.8-0.5-0.1-0.4 2.2 0 3.2 0.7 10.7 1.2 6.9 1 3.6zM181.5 85.7l0.7 0.5 0.5-0.1 0.5-0.6 0.6-2.3 0.3-4.4-0.1-6.9-0.3-6.3-0.5-2.8-0.5-1.2-0.5-0.4-0.5 0.3-0.7 2.2-0.6 6.9 0.1 11.3 0.4 2.5zM259 76.3l0.1 0.2 0.2-0.9-0.2-2.9-1-7.8-7.5-52.9-1.9 0 6.4 40.9zM150 64.9l0.2 0.3 0.5-0.3 1-2.3 1.5-6.3 1-8.7 1.2-19.2 1.8-6.1 1.9-10.3-2.8 0-1.3 15.1-2.3 5.1-1.5 5.6-0.9 7.6-0.6 8.2-0.1 8.2 0.1 2.1zM206 63l0.1 0.3 0-5-1.5-15.8-1.5-8.6-1-3.2-0.5-0.5-0.3 2.6 0.1 4.4 1.1 12 1.6 8.6 1 3.6 0.5 1.4zM118.8 60.5l0.5 0 0.3-2.5-0.3-8.2-0.5-4.5-1-5.5-1-3.3-0.5-0.5-0.4 3.1 0.4 7 1 8.5 1 4.7zM134.7 58.6l0.6 0.2 0.5-1.4 0.5-3.2 0.2-5.7-0.2-4.4-0.4-3.1-0.6-2.2-0.5-0.2-0.5 0.6-0.5 2.1-0.4 6 0.4 7.4 0.5 2.9zM186.4 57.4l0.8 0.5 0.5-0.4 0.2-0.8 0.4-2.5 0.1-5-0.2-5.9-0.5-5.5-0.5-2.6-0.5-1.5-0.5-0.6-0.5 0.1-0.7 2.1-0.3 3.8-0.1 5 0.5 8.9 0.6 2.8zM101.8 56.7l0.2-0.6-0.2-2.9-0.5-3.3-0.3-0.1-0.2-2 0 2.1zM191.2 29l0.5 0.5 0.5-0.2 0.5-3.4-0.2-6.3-0.5-7.6-3 0 0.1 6.3 0.5 5 0.6 3zM259.5 22.1l0.1 0.4 0-2.6-1-7.9-0.9 0z"/>
<path fill="#177870" fill-rule="evenodd" d="M157 125.4l1.4 0 3.3-13.5 1-7.9 1-14.5 0.3-1.9 1.7-5.6 0.5-2.4 1.8-16.6 2.2-6.9 0.5-2.7 0.6-6.1 0.6-15.8 0.5-1.2 1.3-1.7 1-2.9 0.6-4.9 0.3-8.8-3.2 0-0.9 17-0.4 1.3-0.9 1.2-1 2.1-1 4.6-1.4 16.6-2.4 13.3-1.4 15.7-0.6 2.5-1.7 4.6-1.1 5.5zM172.4 125.4l3.2 0-0.2-6.3-0.2-0.9-0.5-0.4-0.5 0.3-0.5 0.8-0.5 1.4zM189.2 125.4l2.5 0-0.5-3.3-0.5-1.7-0.5-0.7-0.5 0.3-0.2 1zM206 125.4l2.4 0-1.3-6.6-1-3.3-0.5 0.1 0 1.6zM215 125.4l1.1 0-2.5-20.9-2-13.1-1-4.7-1-2.8-0.2 1.8 0.2 3.8 1 11.1 1.5 10.2zM222.9 125.4l2.4 0-4.4-26.5-4.3-31.6-2-10.9-1.5-5.7-0.1 1.6 0.1 3.4 2 18.3 4.7 28.1zM231.5 125.4l2.2 0-3.6-24.7-5.2-32.6-4.8-33.8-3.2-17.3-0.8-4.9-1.1-0.1 1.3 8.2 3.3 27.1 4.2 25.8 4.3 30.4zM240.1 125.4l2.1 0-8.6-58-4.2-27-3.8-26.5-0.3-1.9-2.4 0zM248.9 125.4l1.4 0-13.7-94.3-2.9-19.1-2.2 0 5.6 37.4zM176.6 114.1l0.6 0.4 0.5-0.1 1-1.3 0.5-1.8 0.4-4.2 0.1-6.3-0.2-6.3-0.5-3.1-0.3-0.9-0.5-0.3-0.5 0.3-0.5 1.2-0.5 2.4-0.3 3.6-0.3 11.3 0.1 3.2zM142.7 113.4l0.5 0.5 0.5-0.8 0.5-2.1 0.5-4.3 0.2-7.1-0.2-1.8-0.5-1.7-0.5 0-0.5 1.1-0.7 4.9-0.3 6.9zM195.8 113.4l0.4 0.5 0.5-1.1-0.1-8.2-0.9-8.8-0.5-2.5-0.5-1.6-0.5-0.9-0.5 0.5-0.3 2.6 0.3 8.8 1 7.3 0.5 1.9zM255.5 109l0.1 0.4 0-2.7-3-22.6-10.4-72.1-2.1 0 10.5 67.7zM126.6 108.4l0.2 0.1 0-3.3-0.5-2.9-0.3 1.1 0 1.8 0.3 3zM200.5 86.3l0.1 0.3 0.5-0.4 0.1-1.8-0.6-10.2-0.9-7.5-1-4-0.5-0.9-0.5 0.8-0.2 3 0.6 9.4 1.1 7zM181.9 84.4l0.3 0.3 0.5-0.1 0.5-0.8 0.5-2.6 0.2-4.3-0.1-5.7-0.3-4.4-0.5-2.5-0.3-1-0.5-0.5-0.5 0.3-0.5 1.5-0.6 7.9 0.3 8.2 0.3 2.1zM150.5 60.5l0.2 0.6 0.5-0.2 0.5-1 1-3.5 0.7-4.1 0.5-5.6 0.3-7 0-3.8-0.5-2.1-0.5 0.2-1 2.1-0.8 3.6-0.5 3.8-0.7 10.7 0 4.4zM205.6 60.5l0 0.2 0.2-1.5-0.1-4.4-1.1-11-1-6.5-1-4.1-0.5-1.1-0.5 0.8 0 3.7 1 11.3 1.5 8.8 1 3.3zM186.6 56.1l0.6 0.4 0.5-1 0.4-3.2 0.1-3.8-0.7-9.4-0.6-3.2-0.7-1.4-0.5 0.2-0.5 1.8-0.3 8.3 0.5 7.5 0.6 2.5zM256 54.8l0.1 0.4 0-1.1zM134.7 53.6l0.1 0.4 0.5-0.1 0.5-4.7-0.3-4.4-0.2-1.1-0.5-0.4-0.5 2.1-0.2 2.5 0.2 3.5zM255.6 53l0.1-0.7-0.1-2.7-5-36.2-0.3-1.4-1.4 0zM210.5 35.9l0.1 0.6 0-3.6-0.5-6-1.7-14.9-2.4 0 1.6 12.5 1.5 7.2 1 3.7zM191.3 27.8l0.4 0.3 0.5-0.8 0.2-2.7-0.1-6.3-0.6-6.3-2.5 0 0.5 9.7 0.6 3.5zM156.9 17l0.3 0.3 1.2-5.3-1.4 0-0.2 3.8z"/>
<path fill="#08645b" fill-rule="evenodd" d="M172.7 125.4l2.5 0-0.3-3.8-0.2-0.9-0.5-0.4-0.5 0.6-0.5 1.5zM189.4 125.4l2.1 0-0.8-3.5-0.5-0.6-0.5 0.9zM206.2 125.4l2 0-1.1-5.4-0.5-1.8-0.5-0.8-0.2 3zM223.1 125.4l2.1 0-4.8-28.3-3.8-28.8-1.5-8.4-1-4.1-0.5-1.2 0 4.1 1.5 14.2 1.5 9.9 3.3 18zM231.6 124.8l0.1 0.6 1.8 0-4.4-30.4-4.3-26.3-4.2-30.4-1.5-8.6-2-9.3-0.2 1.1 0.2 3.6 2.5 21.2 4.2 25.6 4.3 30.7zM240.3 125.4l1.7 0-8.4-57-4.7-29.9-3.3-23.7-0.4-2.8-2.1 0 5.3 34 4.2 29.6zM249.1 124.8l0.1 0.6 0.8 0-13.4-93.3-3.1-20.1-1.8 0 5.9 39.6zM215.1 123.5l0-3.5-2-18.1-1.5-9.5-1.5-5.7-0.3 1.5 0.2 3.8 1.1 11.2 1.5 9.3zM158.9 116.6l0.3 0.5 1.5-3.3 1.2-6 0.8-12 0-3.8-0.5-1.7-0.5 0.4-1 2.5-1 5.5-0.8 11.6-0.2 4.4zM177.1 112.2l0.6 0.4 0.5-0.2 0.5-1 0.5-2.6 0.2-2.9 0.1-5.1-0.2-5-0.6-3.2-0.5-0.7-0.5 0.3-0.5 1.3-0.7 6.1 0 8.8 0.2 2.2zM195.6 111.5l0.6 0.5 0.3-1.7-0.3-7.6-1-8-0.5-1.6-0.5-0.6-0.5 1.4-0.1 1.3 0.2 6.3 0.8 6.9zM143.2 107.1l0 0.3 0.5-0.3 0.2-3.1-0.2-1.9-0.5 1.6zM200.5 84.4l0.1 0.2 0.2-0.8 0.1-3.1-0.7-9.3-1-5.7-0.5-1.6-0.5-0.5-0.4 3.2 0.4 7 1 6.9 1 3.4zM251.6 83.2l0.1-0.6-0.1-2.9-1-7.6-8.5-59.5-0.1-0.6-1.7 0zM181.9 82.6l0.3 0.4 0.5-0.1 0.5-1.1 0.4-5.5-0.4-8.9-0.5-2.2-0.5-0.7-0.5 0.4-0.5 2.1-0.3 5.5 0.2 6.9zM164.2 81.3l0.5 0.6 0.5-0.9 1-4.6 0.7-10.8 0.1-3.2-0.3-0.7-1 2.3-1 5-0.6 6.6zM167.4 59.2l0.3 0.4 0.5-0.7 1.5-2.9 1-5.1 0.4-6.8 0.1-6.3-0.3-3.1-0.2-0.6-0.5-0.3-0.5 0.5-0.5 1.2-1 5.2-0.6 8.5zM205.1 58l0.3-1.3 0-1.9-0.8-9.5-1.5-9.1-0.5-1.6-0.5-0.5-0.2 4.4 0.7 8.6 1 6.1 1 3.9zM151.1 56.1l0.1 0.6 0.5-0.2 0.5-1.2 1-5.7 0.4-7.4-0.4-4.1-0.5 0-0.5 1.1-1 5.5-0.4 7zM187.2 54.8l0.5-1.3 0.1-1.8 0-6.9-0.6-6.1-0.5-1.9-0.5-0.8-0.5 0.5-0.5 2.6 0 7.7 0.7 6.2 0.8 1.7zM210 32.2l0.1 0.1 0-2.2-0.5-6.4-1.4-11.7-2 0 0.9 8.2 1 5.8 1 4.4 0.5 1.6zM252.1 28.4l0 0.2 0-1zM172.7 26.5l0.5 0.5 0.5-0.4 0.5-1.1 0.5-2.1 0.5-5.7 0-5.7-2.5 0-0.4 9.5 0.1 3.1zM191 25.9l0.2 0.2 0.5 0.2 0.5-2.9-0.1-4.5-0.4-5.5-0.2-1.4-2.1 0 0.4 8.2 0.4 2.8zM251.5 25.9l0.1 0.3 0-2.8-0.2 0.6zM251.1 23.3l0.3 0-1.3-11.2-0.9-0.1z"/>
<path fill="#01554b" fill-rule="evenodd" d="M173.2 125.4l1.6 0-0.6-2.5-0.5 0.4zM189.8 125.4l1.3 0-0.4-1.7-0.5-0.4zM206.4 125.4l1.5 0-0.8-4-0.5-1.4-0.3 1.6zM223.2 125.4l1.8 0-1.9-11.4-2-10.2-0.2 0.8 0.2 3.2zM231.9 125.4l1.4 0-0.2-1.5-4-27.9-4.2-25.4-3.8-28-1.5-9.1-1.5-7-0.4 0.6 0.4 5.6 1.5 12.4 4.7 28 3.8 28.4zM240.5 125.4l1.3 0-0.2-1.4-8-54.5-4.7-29.8-3.8-27.2-0.1-0.5-1.8 0 1.9 12.9 3.2 19.2 4.3 30.4zM214.1 117.2l0 0.3 0.2-0.9-0.1-3.8-1.1-9.6-1.5-9.5-1-3.9-0.3 0.3 0 1.9 0.8 9.9 1.5 9.3zM247.6 112.8l0 0.2 0-2.9-2-14.8-7.5-52-4.5-29.4-0.3-1.9-1.4 0 5.7 38.4zM159.7 111.5l0.5 0.4 0.5-0.9 1-4.9 0.5-7.8-0.1-2.5-0.4-1.5-0.5 0.3-0.5 1.3-0.6 3.7-0.5 6.9zM177.5 110.3l0.2 0.3 0.5-0.2 0.5-1.2 0.5-4.6-0.2-6.9-0.3-2.6-0.5-1.2-0.5 0.3-0.5 1.6-0.4 5 0 6.3 0.4 2.5zM195.5 109.6l0.2 0.3 0.2-0.3 0.3-1.2-0.3-6.3-0.7-5.7-0.5-1.6-0.5-0.1-0.3 3 0.3 5.4 0.5 3.6zM220.6 102.7l0 0.5 0-1.8zM220.1 98.9l0 0.4 0-1.1zM219.6 96.4l0 0.5 0-3.2-2.5-20.9-1.5-9.2-1-4.4-0.5-1 0 3.6 1.5 13.5 1.5 9.2zM200 81.9l0.2 0.4 0.3-1 0.1-1.3-0.4-6.3-0.5-4-1-3.9-0.6 1 0.2 5.7 0.9 6.6zM182 80.7l0.2 0.3 0.5-0.1 0.2-0.9 0.4-4.4-0.2-5.6-0.4-2.7-0.5-0.9-0.5 0.7-0.2 1-0.3 4.4 0.2 5 0.3 2.2zM165.2 76.3l0.5-1.7 0.1-1.5 0.1-2.5-0.2-1.7-0.5 1.8-0.1 1.8zM247.6 55.5l0 0.2 0-1.6zM168.3 54.8l0.4 0.6 0.5-0.4 0.5-1.2 0.8-4.6 0.3-8.2-0.1-2.5-0.5-1.9-0.5 0-0.5 1-0.9 5.3-0.3 7.5zM204.5 54.8l0.1 0.5 0.3-0.5 0.1-1.2-0.4-6.4-1-7.2-1-3.6-0.3 0.8-0.1 1.3 0.4 6.8 1 6.5zM186.7 53l0.5-0.2 0.2-1.1 0.2-5-0.4-5.8-0.5-2.3-0.5-0.8-0.5 1-0.1 0.9-0.2 5.7 0.4 4.4 0.4 2.1zM151.9 49.8l0.3 0.3 0.5-4.1-0.1-1.2-0.4-0.4-0.4 4.1zM246.6 49.8l0 0.2 0.2-0.2-0.2-3.3-4.5-32.5-0.3-2-1.3 0zM209.1 28.4l0 0.3 0.5 0.1-0.5-8-1-7.8-0.2-1-1.5 0 1.2 10zM173.2 24l0.5 0.2 0.5-1.1 0.5-2.9 0.1-8.2-1.6 0-0.5 6.9 0.1 3.2zM191 24l0.2 0.3 0.5-0.4 0.1-1.2-0.1-6.7-0.6-4-1.3 0-0.1 3.2 0.3 4.4 0.7 3.7z"/>
<path fill="#004438" fill-rule="evenodd" d="M206.8 125.4l0.9 0-0.6-2.1-0.4 0.8zM223.4 125.4l1.4 0-1.7-9.9-1-4.1 0 2.5zM232.1 124.8l0.1 0.6 0.8 0-3.9-28.2-3.5-19.9 0 3.4 2 16zM240.8 125.4l0.6 0-0.3-2.8-3.3-21.1-4.7-34-4.3-25.9-3.7-27.8-0.3-1.8-1.4 0 1.7 11.7 3.7 21.7 3.8 27.8 4.7 28.9zM213.5 112.8l0.1 0.5 0-3.4-0.5-4.9-1-7.1-1-4.7-0.4 0.7 0.4 6.1 1.5 9.7zM177.6 107.8l0.1 0.2 0.5 0 0.6-3.4-0.1-5.7-0.5-2.5-0.5 0.2-0.5 3.6 0 5zM195.6 107.1l0.1-5-0.5-3.6-0.5-1.5-0.4 1.9 0.3 4.5 0.6 3.3zM160.6 105.9l0.1 0.4 0.5-2 0-4.8-0.5 1.1-0.1 0.9zM218.1 87.6l0.3 0 0-0.6-0.2-3.2-1.1-9.6-1.5-9.1-0.5-2.2-0.5-0.9 0 2.5 1 9.4 1 6.4zM199.6 78.8l0.1 0.2 0.3-0.2 0.1-0.6-0.2-3.8-0.7-5.2-0.5-0.7 0 4.8zM182.1 78.2l0.1 0.1 0.5-0.3 0.2-3-0.2-4.6-0.5-1.4-0.5 1.6-0.1 2.5 0.1 2.9zM225.1 75.6l0 0.2 0-0.5zM241 69.3l0.1 0.5 0-2.9-0.2 0.5zM240.6 66.8l0.3 0-0.3-3.7-4-28.3-3.5-22.5-0.1-0.3-0.8 0 4.9 33.7zM223.6 66.2l0 0.5 0-3-2-16.3-1.5-9.8-1.5-6.9 0 4.4 1 8.6 2 12.7zM168.9 51.7l0.3 0.3 0.5-1 0.5-3.7 0.1-5.7-0.1-1-0.5-1.1-0.5 1-0.6 4.3 0 5zM204.1 51.7l0 0.2 0.3-0.2 0.1-1.3-0.4-5.3-1-5.5-0.5 0 0 2.4 0.5 5.1zM186.6 50.4l0.1 0.3 0.5-1 0-4.3-0.5-4.5-0.5-0.7-0.4 2 0 3.2 0.4 4zM243.1 25.9l0 0.2 0-2.3zM208.6 24.6l0 0.4 0.5-0.4 0-0.6-1-9.3-0.4-2.7-0.9 0 0.8 8.4zM242.6 23.3l0.2-0.6-0.2-2.8-1-7.3-0.2-0.6-0.6 0zM191 21.5l0.2 0.3 0.2-3.5-0.2-3.5-0.5-2.2-0.5 0.6-0.1 3.2 0.5 4.4zM173.5 20.2l0.2 0.4 0.5-1.5 0.1-2.1-0.1-3.2-0.5-0.4-0.4 3.6z"/>
<path fill="#003d31" fill-rule="evenodd" d="M223.6 124.8l0.1 0.6 0.9 0-1.5-7.2 0 2.2zM231.6 118.5l0 0.4 0-0.8zM231.1 116.6l0 0.2 0-3.3-1-7.7-1.5-10.1-1.5-8.1 0 2.9 1 8zM212.6 107.1l0 0.3 0.2-0.9-0.2-3-1-5.9 0 3.9zM178.1 102.7l0.1 0.4 0-1.7zM235.1 85.7l0 0.6 0-2.4zM234.5 83.2l0.1 0.5 0.2-0.5-0.2-3.3-3-19.7-0.2 0.3 0.2 3.6zM217.6 81.9l0 0.3 0-0.9zM217.1 80.7l0 0.3 0.3-0.3-0.3-4.4-1.5-9.1-0.2 0.9 0.2 3.6zM222.1 56.7l0-3.1-0.5-4.3-2-12.4-0.2 0.3-0.1 0.6 0.3 3.9 1 7.2zM237.1 42.9l0 0.1 0-2.3zM236.1 35.9l0 0.3 0-1.8zM226.6 30.3l0.2-0.7-0.2-3.1-2-14.4-0.9-0.1 1.4 10.1zM208.1 19.6l0 0.6 0-2.6-0.1 0.1zM207.6 17l0 0.5 0.2-0.5-0.2-2.3z"/>
<path fill="#f4edd8" fill-rule="evenodd" d="M67.2 125.4l5.5 0-4.8-29.7-4-22.8-3-14.9-1-3.7-0.5-0.8-0.2 2 0.2 4.1 1.5 15.5zM83.2 125.4l7.2 0-17.7-113.4-5.5 0 6.6 48.3zM100 125.4l7.4 0-4.1-29.2-12.9-84.2-7.2 0zM116.7 125.4l6.8 0-2.3-25.2-0.9-7.8-4.7-23.7-3.8-30.6-4.4-26.1-7.4 0 3.6 22.7 4.2 30.5 4.3 24.9 3.2 26.2zM132.2 124.8l0.1 0.6 5.5 0 0.8-13.2 0.7-32.2 0.1-0.6 2.3-2 1.5-2.1 1-2.5 0.8-2.8 1.3-9.5 2.7-30.2 1-5.1 2.2-7.7 1.1-5.5-6.9 0-1.4 6.3-3.8 10.7-0.9 5.1-0.6 7.6-0.7 36.5-0.2 0.6-0.8 0.6-2.2 0.5-1.5-0.2-1.5-0.9-0.8-1.3-0.7-2.5-0.5-6.3-1-29.3-0.7-6.6-0.9-4.4-3.3-9.5-1.4-6.9-6.8 0 3.3 15.1 1 5.7 2.4 26.4 1.3 8.9 1.6 6.1 3 6.5 0.7 3.1 0.5 6.3 0.9 25.9zM146.4 125.4l6.9 0 2.9-22.2 1.9-16.2 3.1-15 1.9-14.6 2.1-13 1.7-15.4 0.7-3.8 1.6-6.3 1-6.9-7.9 0-0.6 2.8-4.5 27.4-2.6 24-4.3 20.8-1.3 7.5-0.7 7-1.2 17zM162.3 125.4l7.9 0 1.2-12 1.9-8.2 0.6-3.7 1.5-17.1 0.7-3.1 1.6-4.2 0.6-2.7 1.4-19.2 0.5-2.2 1.9-3.8 0.5-2.5 0.7-17.1 0.4-4 0.8-2.3 1.7-1 0.5-0.8 0.5-3.2 0.2-6.3-8.4 0-0.8 2.4-0.7 4.5-1.1 14.5-0.6 3.2-1.6 5.2-0.5 2.8-1.5 17.2-2.8 12.6-1.7 14.6-2.4 12.5-1.7 16.3zM179 125.4l8.4 0 0-11.3 0.3-5.1 0.5-1.3 0.5-0.3 2 1 0.5-0.1 0.5-2.1 0-6-0.4-19.5 0.1-2.5 0.3-1.5 0.5 0.1 0.5 0.6 3.5 5.9 0.2-0.7-0.2-11.1-1.4-23-0.5-3.1-0.8-2.5-1.3-2.8-1-1-0.5 0.1-0.5 1.2-0.3 3.1 0.2 20.8-0.2 3.8-0.2 0.9-0.5 0-1.5-0.7-0.5 0-0.5 0.5-0.5 1.7-0.4 4.5-0.2 13.9-0.3 4.4-0.6 1.9-1.5 1.4-0.5 0.8-0.5 1.7-0.5 4.5-0.8 16.1-0.7 3.2zM193.9 125.4l2.5 0-0.7-1.6-1-1.3-0.5 0.6zM199.9 125.4l4.7 0-1.4-14.5-1.4-8.8-2.1-8-1.5-3.6-0.5-0.1 0 4.9 0.8 15 0.7 9.4zM209.8 125.4l3.5 0-2.9-16.4-3.9-32.1-1.4-6.8-2.7-10.9-0.8-5-2.3-27.1-0.9-7.5-1-4.4-1-3.2-2.5 0 0.5 16.4 0.9 13.2 1.1 4.4 3.4 10.1 0.9 4.4 0.7 5.1 1.6 19.5 1 8.8 1 6.3 3.4 15.8zM217.6 124.8l0.1 0.6 4.1 0-2.7-19-4.3-25.7-4-30.9-4.4-22.7-1.8-15.1-4.7 0 1 5 2.9 11.4 1.1 5.7 3.5 30.8 4.6 25.9zM226.5 125.4l3.8 0-7-47.9-4.3-26.4-3.4-25.1-2-12.4-0.3-1.6-3.5 0 3.1 25.8 4.3 25.2 4.2 30.3zM234.8 125.4l4 0-11.1-75-5.9-38.4-4.1 0 3.7 22.7 4.1 29zM243.4 125.4l4 0-17.1-113.4-3.8 0zM252 125.4l3.8 0-17-113.4-4 0zM260.5 125.4l3.8 0-16.7-111.5-0.2-1.9-4 0zM269.2 125.4l3.5 0-16.9-113.4-3.8 0zM277.9 125.4l3 0-16.6-113.4-3.8 0zM286.9 125.4l1.9 0-6.3-45.6-9.8-67.8-3.5 0 10.3 67.1zM291.4 93.9l0.1 0.5 0.2-1.1-0.2-3.5-1.5-12.4-9.1-65.4-3 0 9.1 57.3 3 17.5zM291.4 37.2l0.1 0.5 0.2-1.1-0.2-3.5-2.7-21.1-1.9 0 3.1 18.1zM134.5 17.7l0.8 0.3 0.5-0.2 0.6-0.8 0.8-2.1 0.6-2.9-5.5 0 1 3.9z"/>
<path fill="#f2e5c1" fill-rule="evenodd" d="M68.8 125.4l2.5 0-2.4-11.9-0.5-1.7-0.5-0.4 0 3.3zM83.8 125.4l6.1 0-11.6-73.1-6.4-37.6-0.6-2.7-2.5 0 5.5 45.2zM100.2 124.8l0.1 0.6 6.7 0-3.7-26.7-13.4-86.7-6.1 0zM117.1 125.4l6 0-2-23.3-1.1-8.8-4.5-22.7-4-32.1-4.5-26.5-6.7 0 3.6 22.7 3.9 28.2 4.7 27.2 3 25.2zM132.8 124.8l0.1 0.6 4.3 0 0.5-4.4 0.4-5 0.4-15.8 0-11.3-0.3-3-0.4-2.1-0.6-1-0.5-0.4-0.9-0.4-2.5-0.3-1 0.2-0.7 0.7-0.3 1.7-0.2 3.9 0.5 24 0.5 7.5zM146.8 125.4l6.2 0 2.8-20.8 2.2-18.9 3.2-15.1 1.7-13.9 2.2-13.2 1.6-15.1 0.7-3.8 1.8-7.1 0.8-5.5-7.4 0-0.9 4.3-4.5 27.7-2.4 22.8-4.3 21.4-1.3 7.4-0.8 7.8zM162.6 125.4l7.4 0 1.2-12.6 2.6-12 1.4-17 0.7-3.1 1.8-5 0.5-2.7 1.3-18.8 0.7-2.5 1.6-3.2 0.6-2.5 0.4-3.8 0.3-13.2 0.4-4.4 0.7-2.2 2-1.4 0.5-1.2 0.4-3.4 0.1-4.4-7.6 0-0.9 2-0.5 1.9-0.6 4.3-1.1 14.5-0.4 2.5-1.7 5-0.6 3.2-1.5 17.6-2.7 12-1.8 15.1-2.3 12-1.7 16.4zM179.6 125.4l7.6 0 0-13.9 0.4-4.4 0.6-1 2.5 1 0.5-0.7 0.3-2.4 0-6.9-0.6-23.4 0.3-0.2 3.5 6.2 1 1.1 0.4-1.4-0.4-14.5-1.2-15.7-0.5-3.2-0.7-2.5-1.1-2.3-1-0.9-0.5 0.4-0.4 1.5-0.2 4.5 0.5 24.5-0.1 0.7-0.3 0-1.5-1.9-1-0.7-0.5 0.2-0.4 0.5-0.4 1.2-0.5 5.1-0.2 14.5-0.2 3.7-0.6 1.9-1.2 0.9-0.8 1-0.7 2.5-0.5 5.1-0.6 14.5-0.4 2.8zM194.3 125.4l1.6 0-0.7-1.3-0.5 0zM200 124.8l0.2 0.6 4.3 0-1.3-13.2-1.3-8.8-1.2-5.1-1-3.2-1-2.1-0.5 0-0.2 4.7 0.5 10.1 0.7 10zM209.9 125.4l3.3 0-2.9-15.8-2.9-25.2-1.1-7.5-1.2-6-2.7-10.4-0.9-4.4-2.2-27.1-1-8.8-1-4.4-1.1-3.4-0.3-0.4-1.6 0-0.2 4.4 0.2 8.2 0.6 10.1 0.6 5.7 0.9 4.4 3.4 10 1.1 4.4 2.2 25.2 1 8.9 1.2 7.5 3.1 14.5zM217.8 125.4l3.9 0-2.6-18.3-4.6-27.7-3.7-29-1.2-6.4-3.2-15.6-1-6.9-0.9-9.5-4.3 0 0.8 4.4 2.9 11.4 1 5 3.5 31.5 4.9 27.7zM226.6 125.4l3.6 0-7.1-47.9-4.2-25.8-3.3-24.8-2-12.5-0.4-2.4-3.3 0 3.1 25.2 4.3 25.8 4.2 30.3zM235 125.4l3.7 0-11.1-74.7-5.9-38.7-3.9 0 3.6 22.1 4.2 29.5zM243.6 125.4l3.6 0-15.1-101.3-1.9-12.1-3.6 0zM252 124.8l0.1 0.6 3.6 0-17-113.4-3.7 0zM260.8 125.4l3.3 0-16.9-113.4-3.6 0zM269.5 125.4l2.8 0-16.6-113.4-3.6 0zM278.4 125.4l1.9 0-6.3-44.9-9.9-68.5-3.3 0zM283.5 97.1l0 0.3 0-3.5-2-16.3-9.2-65.6-2.8 0 9.5 60.3 3 17.6zM128.7 76.3l0.6 0.2 0.4-0.2 0.3-1.3 0.3-7.6-0.5-22-0.5-7.2-0.8-5.4-1.1-4.4-3-8.8-1.3-7.6-6 0 3 13.2 1.1 5.7 0.7 6.9 1.7 20.2 1.2 8.2 1.5 5.9 1 2.3zM141 75l0.7 0.1 0.5-0.4 1-1.3 1-2.6 0.7-2.7 1.3-10 2.6-29.1 0.8-4.4 2.1-6.9 1.3-5.7-6.2 0-1.3 6.9-3.3 9-1.1 4.3-0.6 4.4-0.4 5.6-0.4 17.7 0.2 11.3 0.3 2.4zM283.5 40.4l0 0.3 0-3.5-3.2-25.2-1.9 0 3.1 18.4zM134.7 15.8l0.6 0.1 0.9-0.9 1-3-4.3 0 0.9 2.7z"/>
<path fill="#eedbac" fill-rule="evenodd" d="M84.4 125.4l4.9 0-4.5-28.6-5.5-32.2-3-16.2-1.5-6.1-0.4 0.6 0.1 1.9 1.3 14.7 4.5 35.7zM100.7 125.4l5.9 0-3.3-24.1-14-89.3-4.9 0zM117.6 125.4l5 0-1.7-21.4-1.1-9.6-4.6-23.2-3.9-31.6-4.7-27.6-5.9 0 3.4 20.8 4.2 30.9 4.2 23.9 3.3 27.2zM133.6 125.4l2.8 0 0.3-1.1 0.9-6.5 0.5-10 0.1-12-0.5-7.3-0.4-2.2-0.6-1.1-0.9-0.9-1-0.3-1.5 0.4-0.9 1.3-0.5 2.5-0.3 4.4 0 10.8 0.4 10.7 0.7 7.5zM147.3 125.4l5.3 0 3.1-22.6 2.1-18.4 3.1-13.8 1.9-15.1 2-12 1.8-16.4 0.7-3.8 1.7-6.3 0.7-5-6.7 0-1.3 5.9-4.4 27.5-2.3 22.7-4.3 20.9-1.3 8.1-0.9 8.8zM163 125.4l6.7 0 1.4-13.9 2.1-8.8 0.5-3.2 1.4-16.9 0.6-2.8 1.8-4.8 0.6-3.1 1.2-18.3 0.6-2.5 1.8-3.5 0.6-2.8 1-21.5 0.4-1.6 0.5-0.7 1.5-0.7 0.5-0.7 0.6-2.6 0.2-5-6.5 0-1.3 2-0.8 2.4-0.7 5.1-1 14.4-0.6 2.6-1.4 4.1-0.7 3.4-1.6 18.3-2.7 11.6-1.7 14.9-2.4 12.6-1.6 15.7zM180.5 125.4l6.5 0 0-15.1 0.2-4.4 0.5-1.2 0.5 0 2 1.2 0.5-0.3 0.5-1.7 0.1-10.6-0.9-16.4-0.4-2.5-0.6-1.9-0.7-1.3-1-0.8-0.5 0.3-0.5 1.1-0.5 3.8-0.4 20.8-0.6 1.5-1.5 0.5-0.5 0.6-0.8 2.5-0.5 5-0.5 14.5-0.3 2.5zM200.4 125.4l4 0-1.3-12.5-1.2-8.3-1.7-7.1-1-2.4-0.5-0.4-0.3 1.1-0.1 2.5 0.3 8.8 0.8 10.7zM210 125.4l3 0-3-17-2.6-22.7-1.2-8.8-2.1-9.1-2-6.1-0.3 1.3 0.3 7.2 1.9 21.2 1.3 8.2 3.2 15.1zM217.9 125.4l3.7 0-3-20.7-4.2-24.7-3.8-29.5-1.5-8.2-3.2-15.2-1.5-15.1-4 0 4.5 19.5 3.6 32.2 4.9 27.7zM226.6 124.8l0.1 0.6 3.4 0-7-47.3-4.2-25.8-3.3-24.6-2-12.5-0.6-3.2-3 0 3 24.6 4.4 25.8 4.2 30.8zM235.1 125.4l3.5 0-11-74-6-39.4-3.7 0 3.9 23.9 3.8 27zM243.6 124.8l0.1 0.6 3.4 0-17-113.4-3.4 0 3.4 23.9zM252.3 125.4l3.2 0-16.9-113.4-3.5 0zM261 125.4l2.8 0-16.7-113.4-3.4 0zM269.8 125.4l2.2 0-16.4-113.1-0.1-0.3-3.2 0zM277.5 114.1l0 0.2 0-3.7-2.5-19.7-11.2-78.9-2.8 0 11 70.7 3.5 21zM194.9 78.8l0.3 0.2 0.5-0.5 0.2-4.1-0.4-10.7-0.8-10.7-0.7-5.1-0.7-3.1-1.1-2.6-0.5-0.6-0.5-0.1-0.5 0.9-0.2 1.1-0.3 5 0.2 10.7 0.5 8.9 0.5 3.1 0.5 1.9 1.7 3.8zM127.6 72.5l0.7 0.5 0.5-0.1 0.5-1.2 0.5-6.8-0.3-18.2-0.5-7-0.7-5-1-4.6-3.3-9.3-0.9-4.4-0.5-4.4-5 0 2.9 12 1 5 2.3 26.8 1 7.9 1.5 6.2zM141.4 72.5l0.3 0.2 0.5-0.1 1-1.2 1-2.6 0.5-2.2 1.5-11.7 2.3-27.8 0.8-3.8 2.4-7.3 0.9-4-5.3 0-0.5 3.8-0.7 3.8-3.5 9.4-1.3 5.1-0.6 4.4-0.4 5.6-0.3 14.5 0.4 10.1 0.3 2.4zM277.5 57.4l0 0.2 0.1-2.8-0.6-5.2-5-37.6-2.2 0 5.2 32.1zM200.1 54.2l0.5 0.6 0.1-3.7-0.5-9-1.4-16.9-0.8-5-0.8-3.9-1-2.9-1-1.4-0.5 0.5-0.2 0.8-0.2 5 0.4 10.1 0.7 9.4 0.6 3.8 0.9 3.8zM134.2 13.3l0.6 0.4 0.5 0.1 0.5-0.4 0.6-1.4-2.8 0z"/>
<path fill="#e5cb8e" fill-rule="evenodd" d="M85.2 125.4l3.4 0-4.8-28.8-2-10.1-1-3.8-0.3 0.5 0 1.2 0.8 10.2zM101.2 125.4l5 0-2.9-21.3-5.3-32.9-4.7-31.2-4.7-28-3.4 0 6.1 45.2zM118.1 125.4l3.9 0-1.2-18.9-1.2-10.7-4.6-22.7-3.7-30.8-5.1-30.3-5 0 2.9 18.3 4.2 30.9 4.3 23.9 3.5 29.6zM134.6 124.8l0.7 0.2 0.5-0.5 0.4-1.2 0.7-2.9 0.7-7.6 0.2-10.1-0.1-7.5-0.5-5-0.5-2-0.5-1-0.4-0.6-1-0.3-1 0.4-0.5 0.6-0.8 2.2-0.4 3.8-0.2 6.3 0.2 10 0.6 8.2 0.9 5.1zM147.7 125.4l4.6 0 0.2-1.3 3.2-23.7 1.9-16.6 0.8-4.4 2.3-9.6 1.9-15 2.1-12.3 1.8-16.6 0.6-3.2 1.6-5.8 0.8-4.9-6.2 0-1.6 7.6-4.2 26.4-2.3 23.3-4 19.1-1.7 9.9-0.9 9.5zM163.3 125.4l6.2 0 1.5-14.5 2-8.8 0.6-3.8 1.4-17 0.7-3 1.5-3.6 0.7-3.5 1.3-19.1 0.6-2.3 1.9-3.6 0.5-2.6 0.3-5.8 0.3-12.6 0.3-3.7 0.6-1.6 2-0.8 0.5-1 0.5-2.9 0.1-3.2-5.6 0-0.5 1.2-1.5 2.1-0.7 2.4-0.6 4.4-1 14.5-0.5 2.5-1.7 4.9-0.5 2.4-1.6 18.5-0.6 3.2-1.7 6.3-0.6 3.1-1.6 14.5-2.4 12.1-1.5 15.6zM181.2 125.4l5.6 0-0.1-22.5 0.5-0.6 2 1.9 1 0.4 0.5-0.6 0.3-1.9 0.1-9.5-0.8-13.8-1-5.1-0.6-1.3-0.5-0.6-0.5-0.2-0.5 0.4-0.5 1.5-0.4 4-0.1 22.1 0 0.3-0.5 0.1-1-0.5-1 0.1-0.5 0.6-0.5 1.5-0.6 4.8-0.4 14.8zM200.6 125.4l3.6 0-1.1-11.3-1-7.3-1.5-6.8-0.9-2.8-0.5-0.7-0.5 0.7-0.1 1.1 0.1 7.3 0.8 11.6zM210.1 124.8l0.1 0.6 2.7 0-2.9-15.8-2.4-21-1.5-10.9-2-9-1.5-3.9-0.3 2 0.2 5.7 1.6 18.3 1.4 8.8 3.3 15.7zM218 125.4l3.5 0-2.9-19.9-4.2-24.8-3.8-29.3-1.5-8.3-3.2-14.1-1.7-17-3.6 0 1 5.1 2.8 10 1 5.1 3.1 30.8 4.8 27.1zM226.8 125.4l3.2 0-6.9-46.6-4.2-25.8-4.8-34.2-1.2-6.8-2.7 0 2.9 24.6 4.2 24.5 4.3 31.4zM235.1 124.8l0.1 0.6 3.3 0-17-113.4-3.5 0 3.8 22.7 3.8 27.4zM243.8 125.4l3.2 0-14.9-99.9-2.1-13.5-3.2 0 3.3 23.2zM252.4 125.4l2.9 0-16.7-112.9-0.1-0.5-3.3 0zM261.2 125.4l2.4 0-16.5-112.7-0.1-0.7-3.2 0zM270.3 125.4l1.2 0-0.5-3.4-7-50.1-8.7-59.9-2.9 0 11.2 71.9zM273 82.6l0 0.2 0-0.4zM272.5 80.7l0 0.6 0.2-0.6-0.2-3.5-1-8-7.9-57.2-2.4 0 7.3 46.4zM194.3 76.9l0.4 0.4 0.5 0 0.4-2.9-0.1-7.6-0.6-10.1-0.6-5.6-0.6-3.6-1-3.3-1-1.5-0.5 0.2-0.5 1.2-0.3 3.8 0.1 8.2 0.4 8.8 0.4 3.8 0.7 3.2 1.2 3zM127.7 70l0.6-0.1 0.5-1.2 0.4-3.1 0.2-4.5-0.2-13.2-1-10.7-1.4-6.2-2.7-6.4-1-3.1-0.6-3.8-0.5-5.7-3.9 0 3.5 12.6 0.6 4.4 1.4 21.4 0.9 8.8 1.3 6.8 1 2.8zM141.6 70l0.6 0.4 0.5-0.3 0.5-0.7 1-2.6 0.5-2.6 1.5-12.8 1.9-26.2 0.8-3.7 2.3-5.6 1.1-3.9-4.6 0-0.3 5-0.5 3.2-0.8 2.5-2.9 6.9-1.6 5.7-0.9 8.2-0.4 12.6 0.4 10.1 0.4 2.5zM199.4 51.1l0.3 0.4 0.5 0 0-4.2-0.5-10.4-1-10.4-0.7-5-0.8-4.2-1-2.9-0.5-0.8-0.5-0.2-0.5 1.6-0.2 5.2 0.4 8.8 0.6 7.6 0.5 3.8 0.9 3.7 1.3 4.1zM272.5 24l0 0.6 0.2-0.6-0.2-3.4-1-8.1 0-0.5-1.2 0z"/>
<path fill="#dcba75" fill-rule="evenodd" d="M86.4 125.4l1 0-1.1-5.2-0.1 1.4zM101.7 125.4l4 0-3.4-25-4.7-27.9-4.8-31.4-5.4-29.1-1 0 4.9 40.7 4.7 32.4 3.8 28.3zM118.7 125.4l2.6 0-0.5-13.9-1.5-14.7-1-5.6-2.8-11.8-0.9-5-3.8-32.7-5.1-29.7-4 0 2.8 17.6 4.3 32 4.3 22.8 3.7 31.9zM148.3 125.4l3.5 0 0.6-2.5 2.8-21 2.2-20 3.3-14 1.8-14.3 2.2-13.2 1.7-15.8 2.3-9.3 0.6-3.3-5.6 0-2 9.3-4 25.4-2.3 23.9-3.7 17.4-2 11.4-1 11.4zM163.7 125.4l5.6 0 1.5-15.8 1.9-7.6 0.6-3.7 1.5-18.3 0.6-2.5 1.8-4.2 0.5-2.7 1.3-19.5 0.6-2.6 1.8-3.1 0.7-3.2 0.3-5 0.3-17.6 0.5-1.2 2-0.2 0.5-0.4 0.6-2 0.3-3.8-4.8 0-0.3 1.9-0.3 0.6-1.5 1.2-1 2.5-0.6 4.5-1 15.1-0.5 2.6-1.9 5-0.5 2.8-1.4 18-0.5 2.5-1.6 5.3-0.7 3.5-1.7 15.1-2.1 10-0.5 3.4-1.3 14.4zM181.8 125.4l4.8 0 0-9.4-0.4-10.1-0.7-3.8-0.8-1.2-0.5-0.2-0.5 0.1-0.5 0.7-0.5 1.8-0.3 2.6zM200.8 125.4l3.3 0-1-10-1.3-9.5-1.6-6.4-0.5-1.1-0.5-0.2-0.4 3.3 0.2 8.1 0.7 8.2zM210.4 125.4l2.3 0-2.8-14.5-2.3-21.2-1.5-11-1.5-7.2-1.5-4.3-0.5 0.7 0 4 0.5 8.1 1 10.2 1.5 9.4 3.3 15.1zM218 124.8l0.1 0.6 3.2 0-2.7-19.2-4.2-24.3-2.8-22.5-1.5-10.2-2-9.6-2-6.7 0 3.7 0.5 7.1 1.9 18.1 1.1 7.5 3.8 20.2zM226.9 125.4l3 0-6.8-45.9-4.3-25.9-4.7-34-1.4-7.6-2.3 0 2.7 23.8 4.3 24.7 4.2 31.2zM235.3 125.4l3.1 0-10.8-72.5-4.2-26.4-2.1-14.5-3.2 0 3.7 22.1 3.8 27.3zM243.9 125.4l2.9 0-14.7-99.1-2.2-14.3-3 0 3.2 22.4zM252.5 124.8l0.1 0.6 2.6 0-16.6-112.1-0.2-1.3-3.1 0zM261.5 125.4l1.8 0-16.2-111.7-0.3-1.7-2.9 0zM134.5 122.2l0.3 0.4 0.5 0 0.5-0.7 0.8-3.4 0.6-6.8 0.3-7.7-0.2-7.6-0.5-4.4-0.9-2.5-0.6-0.7-0.5-0.1-1 0.7-0.9 2.6-0.4 3.8-0.2 5 0.1 7 0.4 6.9 0.8 5zM268.5 110.3l0 0.3 0-2.5-2.5-19.6-10.8-76.5-2.6 0 11 69.9 3.4 21zM189.6 103.4l0.6-0.1 0.4-1.2 0.3-2.5 0-6.3-0.3-8.2-0.4-5.2-0.6-3.6-0.9-2.7-0.5-0.7-0.5-0.1-0.5 0.5-0.3 1.1-0.5 4.4 0 7.5 0.2 8.9 0.3 3.1 0.5 1.9 0.9 1.9zM194.2 75.6l0.5 0.4 0.5-0.8 0.2-2.7-0.2-6.9-0.5-8.2-1.1-8.9-0.9-3.2-0.5-0.9-0.5-0.5-0.6 0.9-0.5 3.7 0.1 7.6 0.4 7.6 1 6.9 1 3.1zM141.8 67.4l0.4 0.6 0.5-0.1 1-1.8 1-4.5 0.6-4.2 0.9-10.3 0.7-11.8 0-6.9-0.2-1.2-0.5-0.7-0.5 0.3-1 1.5-1.5 3.3-1.2 4.3-0.8 5.3-0.5 7.7 0 9.1 0.4 6.3zM127.1 66.8l0.7 0.3 0.5-0.8 0.6-4.5 0.1-8.8-0.5-9.5-0.7-5.9-1-4.1-1.5-3.5-1-1.3-0.5-0.1-0.5 1.8-0.1 4.9 1 17.7 1.2 8.8 0.9 3.4zM268.5 53.6l0 0.2 0-2.3-1-8.4-4.2-31.1-1.8 0 4.5 28.4zM199.1 49.2l0.6 0.3 0.2-3.5-0.2-6.8-0.9-10.8-1.4-8.8-0.7-2.9-1-1.9-0.5 0.2-0.2 0.8-0.3 3.8 0.2 7.5 0.6 7.6 0.5 4.4 0.8 3.8 1.4 4.2zM204.6 25.9l0 0.1 0.3-0.8 0-1.9-0.8-11.3-3.3 0 1.3 6.1zM148.7 17l0.5 0.4 1-1.2 1.6-4.2-3.5 0 0.1 3.2zM120.2 15.8l0.6 0.5 0.3-0.5 0.2-3.8-2.6 0z"/>
<path fill="#cea054" fill-rule="evenodd" d="M102.3 125.4l2.8 0-1.3-10.2-2.5-17.5-4.2-23.3-3.8-24.1-1.5-6.9-0.2 1.4 0.2 3.5 1 8.6 3.2 22.5 3.8 30.1zM149 125.4l2.2 0 1-4 3-22.3 1.9-18.4 0.8-3.8 1.8-5.9 0.8-3.6 1.9-15.1 2-11.9 1.7-16.4 0.8-3.8 1.3-4.3 0.8-3.9-4.9 0-2.4 11.2-1.7 12.1-2.3 13.4-2.1 23.8-3.9 17.8-1.9 11.8-0.9 13.2-0.1 6.3zM164.1 125.4l4.9 0 1.6-16.4 0.6-3.1 1.5-5.5 0.5-3 1.4-18.6 0.6-2.4 1.8-3.9 0.7-3.8 1-18.9 0.5-2.1 1.9-2.9 0.6-2 0.5-7.5-0.1-13.2-0.4-4.4-0.5-0.9-0.5-0.3-0.5 0.1-0.5 0.4-0.5 1-0.6 2.2-0.5 4.4-0.8 15.1-0.4 1.9-1.7 3.6-0.8 3.3-0.5 5.1-0.9 13.8-0.5 2.6-1.3 3.8-1 4.4-1.8 15.7-1.7 7.8-0.9 5.4zM182.4 125.4l4 0 0.1-8.8-0.5-8.8-0.8-4.4-0.5-1.1-0.5-0.3-0.5 0.1-0.5 0.9-0.7 4.1-0.3 8.2zM201 125.4l2.9 0-0.8-8.6-1-7.8-1.5-7-0.9-2.2-0.5 0.6-0.2 1.1 0.2 7.5 0.7 9.5zM210.5 125.4l2 0-2.6-12.6-2.3-21.9-1.5-11.2-1.5-7.2-1-2.9-0.5-0.4-0.2 2.7 0.2 5.9 1.4 13.6 1.1 7.2 3.8 16.7zM218.3 125.4l2.9 0-2.6-18.4-4.2-23.8-2.8-22.7-1.5-10.4-2-9.5-1-3.2-0.5-0.2 0 3.3 0.5 7.2 1.5 14.2 1.5 9.3 3.3 17 3.2 25.9zM227 125.4l2.8 0-6.7-45.1-4.2-25.5-4.8-34.4-1.6-8.4-2 0 2.6 22.8 4.3 25.1 4.2 31zM235.4 125.4l2.9 0-10.7-71.8-4.3-26.5-2.1-15.1-2.9 0 3.5 21.4 3.8 27.2zM244.1 125.4l2.6 0-15.1-101.7-1.8-11.7-2.8 0 3.1 21.6zM252.8 125.4l2.2 0-16.7-113.4-2.9 0zM261.8 125.4l1.1 0-0.3-2.9-5.5-39.3-10.4-71.2-2.6 0 11.5 74.6zM119.6 124.1l0.2 0.3 0.5-0.5 0.3-4.2-0.3-8.2-0.6-7.5-1.4-9.9-3.4-12.8-0.9-4.4-2.2-23.8-1.5-11.5-3.8-20.1-1.4-9.5-2.8 0 2.7 16.4 3.8 30.1 1.5 8.3 3.3 14.5 2.2 23.9 1 8 1.5 7.7 0.5 1.6zM134.6 119.7l0.2 0.2 0.5-0.2 0.5-0.7 0.4-2 0.6-4.8 0.3-7.6-0.2-6.3-0.4-3.8-0.7-2.4-0.5-0.6-0.5-0.2-0.5 0.4-0.5 0.9-0.5 2-0.6 8.1 0.6 11.5 0.5 3.3zM189.6 102.1l0.7-0.6 0.4-3.2 0-6.3-0.3-6.9-0.5-5.1-0.5-3.1-0.7-2.1-0.5-0.7-0.5-0.1-0.7 1.6-0.4 3.8 0 6.9 0.2 7 0.3 3.1 0.6 2.7 1 2.2zM264 81.3l0 0.3 0.3-0.3-0.2-3.8-1-8-8-56.9-0.1-0.6-2.2 0 7.3 46.2zM194.2 74.4l0.5 0 0.2-0.7 0.3-2.5-0.5-12.7-0.5-5.1-0.8-4.2-0.7-2.8-0.5-0.9-0.5-0.3-0.5 0.9-0.4 4.3 0.4 12.6 1.1 7 0.9 2.7zM142.1 64.9l0.1 0.4 0.5 0.2 0.5-0.6 0.5-1.2 1-5 0.6-5.1 0.7-9.5 0.3-8.2-0.2-3.7-0.4-1.3-0.5-0.2-1 1.1-1.5 3.9-0.7 3.4-0.5 4.4-0.4 6.9 0 7 0.3 4.4zM126.9 63.7l0.4 0.3 0.5-0.5 0.6-3.6 0.2-6.3-0.3-7.7-0.5-4.8-1-4.8-1-2.5-0.5-0.6-0.5-0.2-0.6 1.1-0.3 3.1 0.4 11.2 1 9.5 1 4.5zM198.8 47.3l0.4 0.4 0.4-1 0.1-2.6-1-15.4-0.7-4.7-0.8-4.6-1-2.8-0.5-0.5-0.5 1-0.3 4.4 0.7 12.6 0.6 4.2 0.8 3.9 1.2 3.9zM264.5 27.1l0 0.3 0-2.6-1.4-12-0.2-0.8-1.1 0zM203.9 22.1l0.2 0.4 0.2-2.9-0.4-7.6-2.9 0 1.6 6.8zM183.5 16.4l1.2 0.6 0.5-0.1 0.5-0.6 0.5-1.8 0.2-2.5-4 0 0.4 3.2zM149.6 13.9l0.1 0.1 0.5-0.2 1-1.8-2.2 0 0.2 1.3z"/>
<path fill="#c18c3d" fill-rule="evenodd" d="M164.6 125.4l4.1 0 1.7-17.6 0.6-3.2 1.7-6 0.5-3.4 1.1-18.3 0.6-1.9 1.8-3.1 0.8-3.8 0.4-5.1 0.5-15.7 0.3-1.3 2-1.8 0.5-1 0.5-2.5 0.4-7.3-0.3-10.1-0.6-4.2-0.5-0.9-0.5-0.1-0.5 0.3-0.5 1-0.7 3.9-0.9 18.9-0.4 1.3-1.5 2-1 3.2-0.6 4.9-1 16.4-2.5 7.5-0.7 5.1-1.3 12.6-2.4 11.1zM182.9 125.4l3.2 0 0.1-0.6 0.1-7.6-0.4-8.2-0.7-4-0.5-1.2-0.5-0.5-0.5 0.2-0.5 1-0.6 4.5-0.1 9.5zM201.1 124.8l0.1 0.6 2.5 0-0.6-7.1-1-8.2-1.5-7-0.4-1.3-0.5-0.4-0.5 3.2 0.2 6.3 0.8 7.9zM210.8 125.4l1.5 0-1.7-6.4-0.1 2zM218.4 125.4l2.7 0-3-20.6-3.8-20.4-2.7-22.9-1.5-10.5-1.5-7.4-1-3.3-0.5-0.5 0 5.5 1.5 15.5 1.5 9.5 3.3 16.7 3.2 26.2zM227.1 124.8l0.1 0.6 2.4 0-2.7-17.6-3.8-26.7-4.7-28.1-2.8-21.8-1.5-9.9-1.8-9.3-1.5 0 0.8 9.5 1.5 12.4 4.7 27.2 3.8 28.9zM235.5 125.4l2.6 0-10.5-70.9-4.2-26.1-2.3-16.4-2.7 0 3.5 20.8 4.2 30.3 4.3 27zM244.2 125.4l2.3 0-14.9-100.9-2-12.5-2.4 0 3.4 24.1zM253 125.4l1.7 0-16.6-113.4-2.6 0zM103.3 124.1l0 0.2 0.3-0.2 0-1.9-1.3-12.6-1.5-9.4-1-4.4-0.5-0.8 0.5 7.9 1 8 1.5 9zM149.9 124.1l0.3 0.4 0.5-0.4 0.5-1.1 1-4 3-23.4 1.4-17.4 0.4-1.9 2.2-5.4 1-4 2.1-16.5 1.9-10.7 1.7-17.6 2.8-10.1-4.1 0-0.6 3.2-1.3 5.1-1 5-1.6 11.3-2.4 14.7-1.7 24.3-2.8 9.9-2 9.8-1.1 6.8-0.6 6.3-0.3 7.6 0.2 5.6zM119.1 119.1l0.2 0.2 0.4-1.5 0.2-2.5-0.6-10.7-1.5-9.4-1-3.5-0.5-1.1-0.5-0.3-0.3 2.3 0.2 5.1 1.1 11.6 1 6.1 0.5 2 0.5 1.4zM134.6 116.6l0.2 0.2 0.5-0.1 0.6-2 0.5-3.8 0.2-5.7-0.4-7.5-0.4-2-0.5-1-0.5-0.2-0.5 0.5-0.6 2.1-0.5 6.9 0.5 8.8 0.6 3.1zM260.5 114.1l0.1 0.3 0-3-2.5-19.1-11.5-80-0.1-0.3-2.3 0 11.4 73zM208.5 109l0.1 0.6 0.3-1.2-0.2-5-1.6-15.6-1.5-9.9-1-4.4-1-2.4-0.4 2 0.1 3.8 0.3 5.5 1 9 1.5 8.7zM188.8 100.2l0.4 0.4 0.5 0.2 0.5-0.8 0.3-2.9 0-5.1-0.3-6.9-0.5-5-0.6-2.6-0.9-2.1-0.5 0-0.7 2.1-0.2 3.8 0 5.7 0.6 8.8 0.6 2.5zM193.6 72.5l0.6 0.5 0.5-0.6 0.1-1.2 0.1-4.4-0.3-6.9-0.5-5.1-0.8-5-0.6-2.2-0.5-0.9-0.5-0.1-0.5 1.8-0.2 2.7 0.3 10 0.9 7 0.5 2zM111.3 66.2l0.5 0.4 0.1-3.6-1.1-13.7-2-12.2-1.5-6.3-0.5-1.6-0.5-0.7 0.5 8.9 1.5 13.7 1.5 9.4zM142.5 62.4l0.2 0.2 0.5-0.4 0.9-3 1.1-9.1 0.4-11.6-0.3-3.2-0.6-0.8-0.5 0.3-0.5 0.8-1 3-1 6.7-0.2 5.8 0 5.6 0.3 3.2 0.4 2.2zM126.7 59.9l0.1 0.2 0.5 0 0.5-2.1 0.2-5-0.2-5.7-0.5-5.1-0.5-2.5-1-2.3-0.5-0.1-0.5 1.5-0.1 1.6 0.1 7.9 1 8.7zM260.5 57.4l0.1 0.5 0-3.1-0.5-4.3-5.4-38.5-1.7 0 5.6 34.6zM198.5 45.4l0.2 0.3 0.5-0.1 0.2-2.7-0.7-12.5-0.6-4.5-0.9-5.3-1-2.7-0.5-0.2-0.5 1.9-0.1 3.1 0.6 10 1 7.1 1 3.8zM203.5 19.6l0.1 0.3 0.4-1.6-0.3-6.3-2.5 0 1.4 5.7zM183.9 15.2l0.8 0.5 0.5-0.1 0.5-0.8 0.4-2.8-3.2 0 0.4 1.9z"/>
<path fill="#ae7426" fill-rule="evenodd" d="M165.1 125.4l3.2 0 0.4-2.2 1.6-17.3 0.5-2.5 1.4-4.5 0.9-6.3 0.5-13.8-0.1-3.2-0.3-1.2-0.5 0.1-1 1.3-0.5 1.2-0.8 3.7-1.5 15.7-2.2 9-0.5 3.2zM183.4 125.4l2.4 0 0.3-3.2-0.1-6.2-0.3-6-0.5-3.2-0.5-1.5-0.5-0.6-0.5 0.2-0.5 1.5-0.5 5.1 0.1 8.2zM201.4 125.4l2.1 0-1.4-14.1-1-5.3-0.9-2.8-0.5 0.4-0.2 1 0.2 6.9 0.8 8.2zM211.1 125.4l0.8 0-0.3-1.3-0.5-0.9zM218.6 125.4l2.3 0-2.8-19.7-4.2-21.9-2.3-21.1-1.5-10.7-1.5-7.3-1-2.5-0.2 1.9 0.2 4.4 1 11.1 1.5 9.7 3.7 17.7 2.8 25.1zM227.3 125.4l2.2 0-2.6-16.4-3.8-27-4.7-27.8-3.8-28.9-2.5-12.8-0.2-0.5-0.8 0 0.5 7.9 1.5 13 4.7 27 3.8 29.2zM235.6 124.8l0.1 0.6 2.3 0-10.9-73.4-4.3-26.1-1.9-13.9-2.3 0 3.3 19.5 4.2 30.8 4.2 26.6zM244.4 125.4l1.9 0-14.7-100-2.1-13.4-2.2 0 3.3 23.3zM253.3 125.4l1.1 0-0.3-2.9-16-109.9-0.1-0.6-2.3 0zM150.2 121l0.5 0.2 0.5-0.8 0.5-1.7 1.5-9.9 1.5-13 0.5-6.3 0-4.4-0.5-1-1 2.6-1 4.2-1.5 7.3-1 6.7-0.5 10.4 0.1 3.2zM134.6 112.2l0.2 0.4 0.5-0.3 0.1-0.8 0.4-1.7 0.1-3.9-0.1-4.5-0.5-2.3-0.5-0.3-0.6 1.4-0.3 4.4 0.2 5zM118.2 111.5l0.1 0.5 0.5-0.6 0-3.5-0.5-4.9-1-4.1-0.4 1.3 0.1 3.2 0.3 3.6zM208.1 105.9l0.2-1.9-0.2-4.5-1.5-14.4-1.5-8.5-1-3.2-0.5 0 0 6.7 1 10.2 1.5 8.7 1 4.1zM188.9 98.9l0.3 0.4 0.5-0.1 0.5-1.6 0.1-7.5-0.7-8.8-0.7-3.1-0.7-1.4-0.5 0.1-0.5 2.1-0.2 8.6 0.6 7.6 0.6 2.2zM257 90.8l0.1 0.1 0-2.5-0.2 0.5zM256.5 88.2l0.4 0-0.8-7.7-9.5-67-0.3-1.5-1.9 0 5.7 36.7zM174.1 72.5l0.6 0.2 0.5-0.2 1-1 0.7-2.2 0.5-3.1 0.4-7-0.1-8.8-0.3-3.1-0.2-0.7-0.5-0.4-0.5 0.2-0.5 0.6-0.5 1.3-0.8 4.7-0.5 11.3 0 6.3zM193.7 71.2l0.5 0.2 0.4-2.1-0.1-8.2-0.8-8-0.5-2.6-0.5-1.6-0.5-0.8-0.5 0.2-0.4 2.8 0.1 8.8 0.8 6.7 0.5 2.2zM157.6 70.6l0.1 0.3 0.5-0.1 0.5-0.8 1-2.9 0.5-2.5 1.8-14.8 2.2-12.8 1.3-16.8 0.5-1.9 1.7-4.1 0.6-2.2-3.2 0-0.6 4.4-1.3 4.2-1 4.1-1.7 12.5-1.8 9.5-0.8 6.3-0.7 11.9 0.1 3.8zM142.6 58.6l0.1 0.4 0.5-0.1 0.5-1.4 1-7.5 0.2-8.4-0.2-2-0.5-0.9-0.5 0.4-0.5 1.2-1 5.7-0.2 7.6 0.2 3.8zM126.7 54.8l0.1 0.2 0.5-2.7-0.1-3.8-0.4-3.7-0.5-1.7-0.5-0.1-0.3 3 0.1 3.8 0.7 4.4zM109.8 53l0-3.1-0.5-3 0 3.5zM198.1 43.5l0.6 0.6 0.4-1.9-0.4-10-1-8-1-4.1-0.5-0.9-0.5 0.4-0.3 2.5 0.3 8.4 1 8zM179 42.9l0.7 0.5 0.5-0.1 0.5-0.6 0.6-1.7 0.4-3.8 0.1-6.3-0.2-6.3-0.4-3.2-0.5-1.4-0.5-0.4-0.5 0.3-0.5 1.2-0.5 2.9-0.3 3.8-0.1 10.7 0.2 3.1zM257 33.4l0.1 0.3 0-1.5zM256.5 30.9l0.1 0.5 0-3.5-2-15.2-0.2-0.7-1.1 0zM203 17l0.1 0.4 0.5-1-0.1-4.4-2.1 0 0.7 2.9zM184.1 13.9l0.6 0.4 0.5-0.2 0.6-2.1-2.4 0z"/>
<path fill="#9e6419" fill-rule="evenodd" d="M165.7 125.4l2.1 0 0.4-1.6 0.7-5.3 1.1-15.1 0.5-1.9 1.2-2.7 1-4.6 0.4-6 0.1-6.3-0.4-3.7-0.1-0.6-0.5-0.4-0.5 0.5-0.5 1.2-0.6 3-1.5 17.7-1.9 5.6-0.7 3.8-0.7 8.2zM184 125.4l1.3 0 0.4-1.6 0.2-4.1-0.2-5.6-0.3-3.8-0.7-3.2-0.5-0.8-0.5 0.3-0.5 2.1-0.3 5.4 0.3 7.3zM201.6 124.8l0.1 0.6 1.6 0-1.2-12.7-1-5.5-0.5-1.6-0.4-0.7-0.4 2.9 0.2 5.6 0.6 6.3zM218.6 124.8l0.1 0.6 2.1 0-2.7-18.8-1.5-7.9-1.5-5.8 0 3.5 1 10.2zM227.5 125.4l1.8 0-2.5-15.8-4.2-29.9-4.2-23.6-3.8-29.8-2-10.5-0.5-1.8-0.5-0.8 0 4.2 1.5 14.4 1.5 9.5 3.3 17.3 3.7 29.6zM235.9 125.4l1.9 0-6.5-42.8-3.7-26.4-4.7-28.4-2.1-15.8-2.1 0 3.2 18.3 4.2 31 4.3 26.9zM244.5 124.8l0.1 0.6 1.5 0-14.5-99.1-2.3-14.3-1.8 0 3.1 22.4zM253 121l0.1 0.3 0-3.1-2-14.9-13-89.6-0.3-1.7-1.9 0 8.7 56.9zM150.7 117.2l0.5-0.3 0.5-1.6 1-6.7 1.1-11.5 0.2-3.2-0.3-1.7-0.5 1-1 3.8-1.5 8.2-0.5 7.6 0.2 2.5zM207.6 102.7l0.3-1.9-0.2-3.7-1.1-10.7-1.5-8.7-0.5-1.7-0.5-0.9-0.3 1.8 0.1 2.5 0.7 9.5 1.5 9 1 3.8zM189.1 97.7l0.6-0.3 0.3-1.6 0-6.9-0.3-4.8-0.5-3.3-0.5-1.8-0.5-0.7-0.5 0.5-0.4 2.5 0 6.9 0.6 6.3 0.7 2.6zM212.6 78.8l0.2-1.3-0.2-3.4-1.5-14.2-1.5-9.6-1-4.3-0.5-1.3-0.3 1.3 0.1 3.8 1.2 12.3 1.5 8.7zM174.9 70l0.3 0.4 0.5-0.1 0.5-0.5 0.5-1.3 0.7-5.5 0.1-5.6-0.2-5.7-0.4-2.5-0.2-0.7-0.5-0.3-0.5 0.5-0.5 1.4-0.5 2.9-0.3 3.7-0.1 8.9 0.2 3.1zM193.4 69.3l0.3 0.4 0.5-0.3 0.1-1.3-0.1-8.2-1-7.9-0.5-1.7-0.5-0.7-0.5 0.9-0.2 1.8 0.1 7.6 0.6 5 0.5 2.5zM158.1 66.8l0.1 0.5 0.5 0 1-2.7 0.6-3.5 1.6-13.8 1.8-9.6 0.8-9.9 0-3.8-0.3-2-0.5 0.2-0.5 1-1 4.2-1.7 13-1.8 9-0.5 4.2-0.4 6.3 0 4.4zM253 63.7l0.1 0.3 0-1.9zM252.5 61.1l0.1 0.4 0-2.9-0.5-4.4-6-42.2-1.5 0 4.5 28.7zM143.1 53l0.1 0.4 0.6-2.3 0.2-3.8-0.3-2.3-0.5 0.9-0.3 2.6-0.1 2.6zM180.1 41.6l0.6-0.5 0.5-1.8 0.4-6.5-0.4-8.7-0.5-2.2-0.5-0.6-0.5 0.3-0.7 2.4-0.5 8.2 0.3 6.9 0.5 1.9 0.4 0.5zM198 41.6l0.2 0.5 0.5-0.3 0-0.8-0.2-8.2-0.8-7.2-1-4.1-0.5-0.7-0.5 1.3-0.1 1.9 0.4 7.5 0.7 5.5 0.5 2.4zM202.5 14.5l0.1 0.4 0.5 0.2 0.2-3.1-1.6 0zM166 13.9l0.2 0.4 0.5-0.1 1.1-2.2-2.1 0zM184.5 12.6l0.2 0.2 0.3-0.2 0.3-0.6-1.3 0z"/>
<path fill="#88510e" fill-rule="evenodd" d="M202.1 125.4l0.7 0-0.2-6.5-1-7.9-1-3.8-0.4 0.3-0.1 0.3 0.1 5 0.9 8.5zM218.9 125.4l1.7 0-2.5-17.7-2-9.5-0.2 0.1-0.1 0.6 0.3 5.9 1.5 12.5zM227.5 124.8l0.1 0.6 1.6 0-2.4-14.5-4.2-30.2-2-11.2-1.5-6.8 0 2.9 0.5 5.1 2 16.4 4.3 26.3zM236 125.4l1.7 0-6.4-41.6-4.2-29.9-4.3-24.9-2.2-17-1.7 0 3.4 19.5 3.8 28.8 4.3 26.7zM244.9 125.4l0.9 0-0.2-2.1-14.5-99.3-1.9-12-1.6 0 3.5 24.6zM166.5 124.1l0.2 0.5 0.5-0.1 0.5-1.1 0.5-2 0.5-4.2 0.3-9.4-0.3-2.6-0.5-0.1-1 2.4-0.8 5.3-0.3 7.6zM184.4 124.1l0.3 0.4 0.5-1 0.4-5.7-0.4-6.7-0.5-2.3-0.5-0.8-0.5 0.6-0.3 1.7-0.2 5 0.4 6.3zM207.1 99.6l0 0.2 0.3-0.9 0-1.8-0.8-9.2-1-6.6-1-3.7-0.4 0.6-0.1 1.2 0.5 7.8 1 6.9 1 4.4zM170.6 97.7l0.6-0.2 0.5-1 0.5-1.9 0.5-3.8 0.1-7.6-0.6-3.3-0.5 0.1-0.5 1.2-0.7 4.5-0.4 8.8 0.1 1.9zM189 95.8l0.2 0.2 0.5-1.5 0-6.3-0.5-5.5-0.5-2-0.5-0.7-0.6 1.9-0.1 6.3 0.7 5.7 0.5 1.6zM249.1 93.3l0 0.2 0-0.6zM248.5 90.8l0.1 0.4 0-2.6zM248.1 88.2l0.2 0 0-0.6-0.2-2.9-1.5-11.1-8.9-61.6-1.7 0 8.1 52.3zM212.1 74.4l0 0.2 0-3.1-1-10.1-1.5-9.9-1-3.9-0.5 0.1 0 2.7 1 10.4 1.5 8.8 1 4.1zM175.4 68.1l0.3 0.2 0.5-0.4 0.5-1.6 0.5-5.1-0.1-7.6-0.4-2.5-0.5-0.8-0.5 0.4-0.5 1.6-0.5 5.1 0 7.5 0.2 1.9zM193.3 67.4l0.4 0.5 0.4-1.7-0.1-5.7-0.8-6.9-0.5-1.7-0.5-0.4-0.5 2.7 0.1 5 0.6 5.1zM158.6 63l0.1 0.5 0.5-0.4 0.5-1.7 0.6-4.7 1-13.8 0.4-0.3 0.5-1.4 1.1-4.6 0.5-7-0.1-2.3-0.5-0.4-0.5 1.5-0.5 3-1.1 12.7-0.4 0.6-1 3.2-1 5.3-0.4 6zM217.1 51.7l0 0.2 0-3.7-2-17.4-1.5-9.2-1-4.4-0.5-1 0 4.7 1.5 13.2 1.5 8.8zM180.1 39.7l0.6-0.6 0.4-1.9 0.2-5-0.2-5.7-0.4-2.4-0.5-0.9-0.5 0.3-0.5 2-0.3 6 0.3 6.2 0.5 1.7zM197.9 39.7l0.3 0.4 0.3-2.3-0.3-6.5-1-6.7-0.5-1.5-0.5-0.1-0.3 2.9 0.3 5.4 1 6.6zM249.1 37.8l0-2.8-3-21.7-0.3-1.3-0.9 0zM202.5 12.6l0.1 0.3 0.2-0.9-0.7 0z"/>
<path fill="#754408" fill-rule="evenodd" d="M219.1 125.4l1.3 0-1.8-13.5-1-5.7-1-4.2-0.2 1.4 0.2 4.2 1 8.4zM227.9 125.4l1 0-2-12-4.3-31.5-1.5-8.4-1-4.1 0 3.4 1.5 13 1.5 10 3.2 18.3zM236.2 125.4l1.2 0-0.3-2.7-5.7-37-4.3-30.6-3.5-19.6-0.1 1.1 0.1 2.7 2 16.3 5.2 32.6zM202 122.9l0.1 0.6 0.4-1.9-0.4-5.2-1-6-0.5-0.9-0.1 2 0.1 4.2 0.5 3.8zM184.6 122.2l0.6-1.5 0-4.7-0.5-5-0.5-0.8-0.5 1.3-0.2 5.1 0.4 3.8 0.3 1.3zM167.1 121l0.1 0.2 0.5-0.8 0.7-5.1-0.1-5-0.1-1-0.5-0.2-0.5 1.6-0.5 4.6 0 4.1zM243.6 114.1l0 0.3 0-2.1zM243.1 111.5l0-3.1-2-14.9-5.7-38-4.3-30.3-2.2-13.2-1 0 3.2 23.4 3.8 23.2 4.7 32zM206.6 96.4l0.3-1.2-0.3-5.2-1-7.1-0.5-2.1-0.5-0.7 0 4.3 0.5 5 0.5 3.2zM171.1 93.9l0.1 0.3 0.5-0.7 0.6-4-0.1-5.1-0.5-1.4-0.5 1.3-0.5 4.6 0 3.1zM188.6 93.3l0.6 0.3 0.2-2.2 0-2.5-0.3-3.8-0.4-2.3-0.5-0.4-0.3 2-0.1 3.2 0.4 3.8zM211.1 70l0.4 0 0.1-0.7-1-10.2-1-6.1-0.5-2.1-0.5-0.8 0 4 0.5 5 1 6.6zM245.1 66.8l0 0.4 0-1.2zM175.5 65.6l0.2 0.3 0.5-0.4 0.6-3.7 0-6.3-0.6-2.7-0.5 0.3-0.5 2.3-0.2 2 0 5.6zM193.1 64.9l0.1 0.4 0.5-0.2 0-4-0.5-5.4-0.5-1.8-0.5 0.4-0.1 3.7 0.5 5zM244.5 64.3l0.1 0.5 0-3-0.5-3.8-6.5-45.1-0.2-0.9-1.2 0zM216.1 45.4l0 0.1 0.2-1.4-0.2-3.1-1-8.7-1.5-9.4-1-3.4 0 4.5 1 8.7 1.5 8.8zM180 37.2l0.2 0.2 0.5-1 0.3-3.6-0.2-5-0.6-2.3-0.5 0.5-0.1 0.5-0.4 4.4 0.2 4.4 0.3 1.4zM197.6 37.2l0.1 0.3 0.4-1.6-0.1-3.1-0.3-3.5-0.5-2.8-0.5-1.3-0.4 1.9 0.2 3.8 0.7 5.1zM221.6 24l0 0.2 0-1.4zM221.1 22.1l0 0.2 0.2-0.2-0.1-2.5-0.8-7.6-1.3 0z"/>
<path fill="#5e3606" fill-rule="evenodd" d="M219.5 125.4l0.6 0-0.5-4.7-1.5-10.2-1-4.3 0 3.4 0.5 4.6zM236.6 125.4l0.5 0-0.5-4.3-4-25.5 0 2.7 0.5 4.2zM201.6 119.1l0-3.4-0.5-2.2 0 2.9zM184.6 118.5l0.1-3.5-0.5-1.2 0 4.2zM225.1 104.6l0-2.2-1.5-12.4-1.5-9.7-1-4.8-0.1 1.4 0.1 3 1 8 1.5 9.3 1 5.3 0.3 0.2zM206.1 92l0 0.3 0-3.7-0.5-3.4-0.5-1.2 0 2.1 0.5 4.1zM188.6 89.5l0.1 0.2 0-3.2zM239.6 87.6l0 0.2 0-2.1zM239.1 84.4l0 0.4 0-2.6zM238.6 81.3l0 0.3 0-2.8zM230.1 80.7l0 0.5 0-2zM229.6 78.2l0 0.4 0.2-0.4-0.2-3.2-2-15.2-2-12.3-0.5-2.5-0.4-0.2-0.1-1.5 0.5 6.6 1 7.7zM237.6 74.4l0 0.2 0-2.1zM237.1 70.6l0 0.2 0-1.1zM210.6 65.6l0 0.2 0.2-1.5-0.2-2.9-1-6.4-0.5-1 0.5 6.7zM175.7 61.8l0.5-0.4 0-4.3-0.5 0zM192.7 59.2l0 0.3 0-1.5zM234.6 53.6l0 0.6 0-1.4zM234.1 51.1l0 0.5 0-3-2-15.1-2-13-1.5-8.2 0 3.2 1.5 11.7zM215.1 39.1l0 0.3 0.3-0.3 0-0.6-0.3-4.2-1-7-0.5-2.5-0.5-1.3 0 2.6 0.5 4.7zM180.1 32.8l0.1 0.6 0-3.9-0.2 1.4zM197.1 32.2l0.1 0.5 0-2.9zM237.6 17.7l0 0.1 0-2.3zM237.1 15.2l0.2-0.7-0.2-2.5-0.5 0zM220 14.5l0.1 0.6 0-3.1-0.6 0z"/>
<path fill="#553005" fill-rule="evenodd" d="M218.6 117.8l0 0.5 0-2zM218.1 114.1l0 0.6 0-0.9zM223.1 91.4l0 0.5 0-3-0.2 0.6zM222.6 88.9l0.3 0-0.3-3.3-0.1 0.7zM227.6 64.3l0 0.5 0-2.4zM227.1 61.8l0 0.2 0.2-0.9-0.2-2.3-0.2 0.4zM226.6 58.6l0.2 0-0.2-2.9zM226.1 54.2l0 0.6 0-1.6z"/>
</g>
<rect x="40.4" y="13.6" width="255.6" height="110.9" fill="none" filter="url(#nz1)" style="mix-blend-mode:multiply"/>
<rect x="40.4" y="13.6" width="255.6" height="110.9" fill="none" filter="url(#nz2)" opacity="0.42"/>
<path d="M40.4 97.1H296M40.4 68.7H296M40.4 40.4H296" stroke="#000" stroke-opacity="0.13" stroke-width="0.6" fill="none"/>
<path d="M48.9 13.6V124.5M57.4 13.6V124.5M66 13.6V124.5M74.5 13.6V124.5M83 13.6V124.5M91.5 13.6V124.5M100 13.6V124.5M108.6 13.6V124.5M117.1 13.6V124.5M125.6 13.6V124.5M134.1 13.6V124.5M142.6 13.6V124.5M151.2 13.6V124.5M159.7 13.6V124.5M168.2 13.6V124.5M176.7 13.6V124.5M185.2 13.6V124.5M193.8 13.6V124.5M202.3 13.6V124.5M210.8 13.6V124.5M219.3 13.6V124.5M227.8 13.6V124.5M236.4 13.6V124.5M244.9 13.6V124.5M253.4 13.6V124.5M261.9 13.6V124.5M270.4 13.6V124.5M279 13.6V124.5M287.5 13.6V124.5" stroke="#555" stroke-opacity="0.48" stroke-width="0.7" stroke-dasharray="0.7 2.6" fill="none"/>
<path d="M40.4 122.2H296M40.4 119.1H296M40.4 116H296M40.4 112.8H296M40.4 109.7H296M40.4 106.5H296M40.4 103.3H296M40.4 100.2H296M40.4 97.1H296M40.4 93.9H296M40.4 90.8H296M40.4 87.6H296M40.4 84.5H296M40.4 81.3H296M40.4 78.2H296M40.4 75H296M40.4 71.9H296M40.4 68.7H296M40.4 65.5H296M40.4 62.4H296M40.4 59.2H296M40.4 56.1H296M40.4 53H296M40.4 49.8H296M40.4 46.7H296M40.4 43.5H296M40.4 40.4H296M40.4 37.2H296M40.4 34.1H296M40.4 30.9H296M40.4 27.8H296M40.4 24.6H296M40.4 21.5H296M40.4 18.3H296M40.4 15.2H296" stroke="#555" stroke-opacity="0.48" stroke-width="0.7" stroke-dasharray="0.7 2.6" fill="none"/>
<rect x="40.7" y="13.9" width="14.9" height="15.8" fill="#fff"/>
<path d="M28 17.3H296M28 53.6H296M28 59.2H296M28 68.7H296M28 86.3H296M28 99.2H296M28 110.9H296" stroke="#2a2a2a" stroke-opacity="0.72" stroke-width="1.2" stroke-dasharray="8.2 4.74" fill="none" clip-path="url(#ca)"/>
<path d="M91.5 124.5v-2.5M91.5 13.6v2.5M142.6 124.5v-2.5M142.6 13.6v2.5M193.8 124.5v-2.5M193.8 13.6v2.5M244.9 124.5v-2.5M244.9 13.6v2.5M40.4 97.1h2.5M296 97.1h-2.5M40.4 68.7h2.5M296 68.7h-2.5M40.4 40.4h2.5M296 40.4h-2.5" stroke="#111" stroke-width="0.8" fill="none"/>
<rect x="40.4" y="13.6" width="255.6" height="110.9" fill="none" stroke="#858585" stroke-width="0.7"/>
<text transform="translate(36.1 102.3) scale(0.91 1)" font-size="14.3" text-anchor="end" fill="#111" >-90</text>
<text transform="translate(36.1 73.9) scale(0.91 1)" font-size="14.3" text-anchor="end" fill="#111" >0</text>
<text transform="translate(36.1 45.6) scale(0.91 1)" font-size="14.3" text-anchor="end" fill="#111" >90</text>
<text transform="translate(10.9 69.8) rotate(-90) scale(1.1 1)" font-size="13.4" text-anchor="middle" fill="#111" textLength="67.3" lengthAdjust="spacing">longitude, λ</text>
<rect x="297.3" y="116.6" width="9.1" height="8.2" fill="#003c30"/>
<rect x="297.3" y="108.7" width="9.1" height="8.2" fill="#015c53"/>
<rect x="297.3" y="100.7" width="9.1" height="8.2" fill="#1d8078"/>
<rect x="297.3" y="92.8" width="9.1" height="8.2" fill="#4ca89e"/>
<rect x="297.3" y="84.9" width="9.1" height="8.2" fill="#85cfc4"/>
<rect x="297.3" y="77" width="9.1" height="8.2" fill="#bce6df"/>
<rect x="297.3" y="69" width="9.1" height="8.2" fill="#e3f1ef"/>
<rect x="297.3" y="61.1" width="9.1" height="8.2" fill="#f5f0e2"/>
<rect x="297.3" y="53.2" width="9.1" height="8.2" fill="#f2e2b8"/>
<rect x="297.3" y="45.3" width="9.1" height="8.2" fill="#e1c582"/>
<rect x="297.3" y="37.4" width="9.1" height="8.2" fill="#c99546"/>
<rect x="297.3" y="29.4" width="9.1" height="8.2" fill="#a76b1d"/>
<rect x="297.3" y="21.5" width="9.1" height="8.2" fill="#7f4909"/>
<rect x="297.3" y="13.6" width="9.1" height="8.2" fill="#543005"/>
<rect x="297.3" y="13.6" width="9.1" height="110.9" fill="none" stroke="#777" stroke-width="0.6"/>
<text transform="translate(311.8 24.3)" font-size="11.6" text-anchor="start" fill="#111" >10</text>
<text transform="translate(311.8 49.7)" font-size="11.6" text-anchor="start" fill="#111" >5</text>
<text transform="translate(311.8 75.1)" font-size="11.6" text-anchor="start" fill="#111" >0</text>
<text transform="translate(311.8 100.5)" font-size="11.6" text-anchor="start" fill="#111" >-5</text>
<text transform="translate(311.8 125.9)" font-size="11.6" text-anchor="start" fill="#111" >-10</text>
<path d="M306.4 19.6h1.6M306.4 45h1.6M306.4 70.4h1.6M306.4 95.8h1.6M306.4 121.2h1.6" stroke="#262626" stroke-width="0.6" fill="none"/>
<text transform="translate(343.6 69.3) rotate(-90) scale(1.11 1)" font-size="13.6" text-anchor="middle" fill="#111" >synthetic wind, <tspan font-style="italic">u</tspan> (ms<tspan font-size="9.6" dy="-5.2">−1</tspan><tspan dy="5.2">)</tspan></text>
<rect x="40.4" y="130.4" width="255.6" height="110.9" fill="#fff"/>
<rect x="40.4" y="134.6" width="255.6" height="106.7" fill="#4b4b4b"/>
<path fill="#717171" fill-rule="evenodd" d="M103.2 199.7l7.5 0.2 6.4-0.3 6.4-0.9 12.7-2.1 4.3-0.5 6.4 0 12.8 0.6 4.2-0.1 8.6-1.2 6.3-1.6 5.7-2.2 4.2-2.3 3.2-2.3 3.4-3.4 2.3-3.4 1.3-3.5 0.4-2.3 0-2.3-0.7-3.4-1.1-2.3-1.5-2.3-2.1-2.3-2.9-2.3-3.6-2.2-2.2-1-4.2-1.7-3.2-0.8-5.3-0.9-6.4-0.2-4.3 0.4-12.8 2.2-4.2 0.3-4.3-0.1-4.3-0.8-6.3-2.1-4.3-2-10.6-5.5-4.3-1.6-2.1-0.6-4.3-0.6-4.3 0.1-4.2 0.5-4.3 1.1-6.4 2.5-4.8 2.7-4.6 3.4-2.3 2.3-2 2.3-1.6 2.3-1.3 2.3-1 2.3-0.7 2.3-0.8 4.6 0 2.3 0.3 2.3 0.6 2.3 0.8 2.3 1.3 2.3 1.2 1.8 1.3 1.6 2.3 2.3 4.5 3.4 4.7 2.7 6.4 2.6 6.4 1.7z"/>
<path fill="#959595" fill-rule="evenodd" d="M99.9 195.1l6.5 0.7 6.4 0 4.3-0.4 4.2-0.6 12.8-2.7 6.4-1 6.4-0.1 10.7 0.8 4.2 0 4.3-0.4 6.4-1.2 4.2-1.4 4.3-1.9 3.5-2.1 2.6-2.3 2.4-3.1 1.2-2.7 0.6-3.4-0.2-2.3-0.8-2.3-1.4-2.3-1.5-1.8-2-1.6-2.3-1.6-2.1-1.1-2.2-0.9-4.2-1.3-4.3-0.8-6.4-0.2-4.2 0.3-8.5 1.4-4.3 0.4-4.3 0-2.1-0.2-4.3-0.8-4.2-1.3-4.3-1.7-10.6-5-4.3-1.7-2.1-0.6-2.1-0.5-4.3-0.5-4.3 0.2-4.2 0.7-4.3 1.3-5 2.4-3.6 2.3-2 1.6-2.2 2-2.5 3.3-1.4 2.3-1.1 2.2-1 3.5-0.3 2.3 0 2.3 0.6 3.4 1.5 3.5 2.4 3.4 3.6 3.4 4.6 3.1 4.3 2.1 4.2 1.4z"/>
<path fill="#b7b7b7" fill-rule="evenodd" d="M104.6 191.6l4 0.3 4.2-0.1 6.4-0.8 6.4-1.4 10.6-3.1 4.3-0.8 2.1-0.2 4.3 0 8.5 0.9 4.3 0.2 4.2-0.3 4.3-0.9 2.4-0.6 4-1.7 2.1-1.2 2.2-1.7 2-2.3 1.1-2.3 0.4-2.3-0.3-2.3-1.2-2.3-2.2-2.3-1.6-1.2-2.2-1.1-4.6-1.5-4.2-0.8-4.3-0.1-4.2 0.4-10.7 1.5-4.3-0.1-2.1-0.2-4.3-1.1-4.2-1.5-12.8-5.7-6.4-2.4-4.2-0.9-4.3-0.4-2.6 0.2-3.8 0.6-4.3 1.4-4.2 2.1-3.8 2.8-2.3 2.3-2.4 3.4-1.5 3.4-0.7 3.5 0.1 3.4 1.1 3.5 1.3 2.3 1.8 2.2 1.2 1.2 3 2.3 4.3 2.4 4.3 1.6 4.2 1.1z"/>
<path fill="#d8d8d8" fill-rule="evenodd" d="M102.3 187l4.1 0.6 4.3 0.1 6.2-0.7 4.4-1 6.8-2.4 4.8-2.3 7.6-4.1 2.1-0.9 2.2-0.5 2.1 0.2 5.3 1.9 4.8 1.1 2.7 0.2 2.5-0.2 1.7-0.4 1.7-0.7 1.7-1.2 0.9-0.8 0.9-1.5 0.2-1.1-0.2-1.2-0.9-1.3-2.1-1.4-2.2-0.8-2.1-0.3-2.1 0-2.8 0.4-4.2 1.1-5.8 2.1-2.1 0.2-2.2-0.4-4.2-2.1-13.7-7.8-5.5-2.6-4.2-1.7-4.3-1.1-4.3-0.5-3.1 0.2-3.3 0.5-4.2 1.5-2.2 1.1-2.1 1.5-2.5 2.3-1.7 2.2-1.2 2.3-0.9 3.5 0 2.3 0.5 2.3 1.1 2.3 0.7 1.1 2.2 2.3 1.8 1.5 3.6 2 2.8 1.1z"/>
<path fill="#dbecec" fill-rule="evenodd" d="M105 182.5l3.6 0.3 4.2-0.2 4.3-0.8 4.2-1.7 1.8-1.1 1.5-1.1 1.1-1.2 0.7-1.1 0.5-1.2 0.1-1.1-0.2-1.2-0.5-1.1-1.7-2.3-1.1-1.2-2.2-1.6-4.2-2.3-4.3-1.6-4.2-0.7-2.2 0-2.1 0.2-2.1 0.5-2.6 1-1.7 0.9-1.7 1.3-1.1 1.2-1.5 2.3-0.4 1.1-0.4 2.3 0.3 2.3 0.5 1.3 1.7 2.2 2.6 2 2.9 1.4z"/>
<path d="M48.9 130.4V241.3M57.4 130.4V241.3M66 130.4V241.3M74.5 130.4V241.3M83 130.4V241.3M91.5 130.4V241.3M100 130.4V241.3M108.6 130.4V241.3M117.1 130.4V241.3M125.6 130.4V241.3M134.1 130.4V241.3M142.6 130.4V241.3M151.2 130.4V241.3M159.7 130.4V241.3M168.2 130.4V241.3M176.7 130.4V241.3M185.2 130.4V241.3M193.8 130.4V241.3M202.3 130.4V241.3M210.8 130.4V241.3M219.3 130.4V241.3M227.8 130.4V241.3M236.4 130.4V241.3M244.9 130.4V241.3M253.4 130.4V241.3M261.9 130.4V241.3M270.4 130.4V241.3M279 130.4V241.3M287.5 130.4V241.3" stroke="#000" stroke-opacity="0.28" stroke-width="0.7" stroke-dasharray="0.7 2.6" fill="none"/>
<path d="M40.4 236.8H296M40.4 231H296M40.4 225.3H296M40.4 219.5H296M40.4 213.8H296M40.4 208H296M40.4 202.3H296M40.4 196.5H296M40.4 190.8H296M40.4 185H296M40.4 179.2H296M40.4 173.5H296M40.4 167.7H296M40.4 162H296M40.4 156.2H296M40.4 150.5H296M40.4 144.7H296M40.4 138.9H296M40.4 133.2H296" stroke="#000" stroke-opacity="0.28" stroke-width="0.7" stroke-dasharray="0.7 2.6" fill="none"/>
<path d="M91.5 241.3v-2.5M91.5 130.4v2.5M142.6 241.3v-2.5M142.6 130.4v2.5M193.8 241.3v-2.5M193.8 130.4v2.5M244.9 241.3v-2.5M244.9 130.4v2.5M40.4 236.8h2.5M296 236.8h-2.5M40.4 213.8h2.5M296 213.8h-2.5M40.4 190.8h2.5M296 190.8h-2.5M40.4 167.7h2.5M296 167.7h-2.5M40.4 144.7h2.5M296 144.7h-2.5" stroke="#111" stroke-width="0.8" fill="none"/>
<rect x="40.4" y="130.4" width="255.6" height="110.9" fill="none" stroke="#858585" stroke-width="0.7"/>
<text transform="translate(36.1 242) scale(0.91 1)" font-size="14.3" text-anchor="end" fill="#111" >0.4</text>
<text transform="translate(36.1 219) scale(0.91 1)" font-size="14.3" text-anchor="end" fill="#111" >0.6</text>
<text transform="translate(36.1 196) scale(0.91 1)" font-size="14.3" text-anchor="end" fill="#111" >0.8</text>
<text transform="translate(36.1 172.9) scale(0.91 1)" font-size="14.3" text-anchor="end" fill="#111" >1</text>
<text transform="translate(36.1 149.9) scale(0.91 1)" font-size="14.3" text-anchor="end" fill="#111" >1.2</text>
<text transform="translate(168.2 143.4) scale(0.91 1)" font-size="14.3" text-anchor="middle" fill="#dcdcdc" >s=1</text>
<rect x="40.7" y="130.8" width="255" height="3.9" fill="#fff"/>
<text transform="translate(10.7 186.4) rotate(-90) scale(1.133 1)" font-size="13.4" text-anchor="middle" fill="#111" textLength="43.6" lengthAdjust="spacing"><tspan font-style="italic">T</tspan> (day)</text>
<rect x="297.3" y="231.3" width="9.1" height="10.4" fill="#4b4b4b"/>
<rect x="297.3" y="221.2" width="9.1" height="10.4" fill="#717171"/>
<rect x="297.3" y="211.1" width="9.1" height="10.4" fill="#959595"/>
<rect x="297.3" y="201" width="9.1" height="10.4" fill="#b7b7b7"/>
<rect x="297.3" y="190.9" width="9.1" height="10.4" fill="#d8d8d8"/>
<rect x="297.3" y="180.9" width="9.1" height="10.4" fill="#dbecec"/>
<rect x="297.3" y="170.8" width="9.1" height="10.4" fill="#b8f8f8"/>
<rect x="297.3" y="160.7" width="9.1" height="10.4" fill="#8aefef"/>
<rect x="297.3" y="150.6" width="9.1" height="10.4" fill="#66dfdf"/>
<rect x="297.3" y="140.5" width="9.1" height="10.4" fill="#42caca"/>
<rect x="297.3" y="130.4" width="9.1" height="10.4" fill="#1fb0b0"/>
<rect x="297.3" y="130.4" width="9.1" height="110.9" fill="none" stroke="#777" stroke-width="0.6"/>
<text transform="translate(311.8 149.5)" font-size="11.6" text-anchor="start" fill="#111" >8</text>
<text transform="translate(311.8 181.4)" font-size="11.6" text-anchor="start" fill="#111" >6</text>
<text transform="translate(311.8 213.2)" font-size="11.6" text-anchor="start" fill="#111" >4</text>
<text transform="translate(311.8 245.1)" font-size="11.6" text-anchor="start" fill="#111" >2</text>
<path d="M306.4 144.8h1.6M306.4 176.7h1.6M306.4 208.5h1.6M306.4 240.4h1.6" stroke="#262626" stroke-width="0.6" fill="none"/>
<text transform="translate(332.9 186.2) rotate(-90) scale(1.14 1)" font-size="13.6" text-anchor="middle" fill="#111" ><tspan font-style="italic">u</tspan><tspan font-size="9.6" dy="3.2"><tspan font-style="italic">s</tspan>=1</tspan><tspan dy="-3.2"> (ms</tspan><tspan font-size="9.6" dy="-5.2">−1</tspan><tspan dy="5.2">)</tspan></text>
<rect x="40.4" y="247.3" width="255.6" height="110.9" fill="#fff"/>
<rect x="40.4" y="251.5" width="255.6" height="106.7" fill="#4b4b4b"/>
<path fill="#717171" fill-rule="evenodd" d="M209.3 357.8l5.8 0.8 4.9 0.4 20.7 0 8.4-0.9 6.4-1 4.3-0.9 4.2-1.1 5.5-1.9 3.1-1.4 3.5-2 1.5-1.2 2.1-2.3 1.1-2.2 0.1-2.3-0.9-2.3-0.8-1.2-2.5-2.3-4.1-2.5-6.4-2.6-6.4-1.8-8.5-1.7-8.5-1-8.6-0.6-8.5-0.1-10.6 0.3-10.7 1.2-6.4 1.2-6.4 1.8-4.2 1.7-4.3 2.6-1.8 1.5-1.1 1.2-0.7 1.1-0.9 2.3-0.1 1.2 0.4 2.3 1.3 2.2 1.1 1.2 2.8 2.3 4.2 2.3 5.8 2.3 6.1 1.7zM164.3 308.5l6 0.1 4.3-0.4 4.2-0.8 4.3-1.3 4.3-1.9 4.2-2.7 3.7-3.3 2.7-3.5 1.7-3.4 1-3.5 0.2-2.3-0.1-2.3-0.7-3.4-1.4-3.4-2.4-3.5-3.4-3.4-3.4-2.5-2.1-1.2-4.3-1.9-2.1-0.7-4.3-1.1-6.4-0.8-4.2 0-4.3 0.5-6.4 1.4-4.2 1.6-2.6 1.2-3.7 2.3-2.3 1.9-2.5 2.7-1.7 2.3-1.2 2.3-1.2 3.5-0.4 2.2 0 3.5 0.6 3.3 1 2.4 1.2 2.3 1.7 2.3 2.1 2.3 2.6 2.2 2.1 1.4 4 2.1 2.8 1.2 3.9 1.2 4.2 0.8z"/>
<path fill="#959595" fill-rule="evenodd" d="M225.2 357.8l9 0.1 10.7-0.7 6.4-0.9 4.2-0.8 4.3-1.1 4-1.2 5.5-2.3 2-1.1 3-2.3 1-1.2 0.7-1.1 0.5-1.1 0.2-1.2-0.1-1.1-0.3-1.2-0.7-1.1-2-2.3-3.2-2.2-5.3-2.4-5.3-1.7-6.4-1.5-6.4-1-8.5-0.9-8.5-0.3-8.6 0.1-8.5 0.6-6.4 0.9-7.2 1.5-5.5 1.8-4.3 1.9-3 2-2.2 2.3-0.7 1.2-0.6 2.3 0.1 1.1 0.9 2.3 0.8 1.1 2.5 2.3 1.7 1.2 4.7 2.3 6.5 2.2 8.5 1.9 8.5 1.1zM163.4 302.7l2.7 0.3 4.2 0 4.3-0.5 4.2-1.1 4.3-1.9 2.1-1.2 3-2.4 2-2.3 1.5-2.3 1.2-3.5 0.3-3.4-0.3-2.3-1.2-3.4-1.5-2.3-2-2.3-2.8-2.3-4.4-2.4-2.9-1.1-3.5-0.9-4.3-0.5-4.2 0-2.2 0.2-2.1 0.3-3.5 0.9-2.9 1.1-2.1 1-2.1 1.3-2.2 1.6-2.8 3.1-2 3.4-0.7 2.3-0.3 2.3 0.1 2.3 0.5 2.3 1.6 3.4 1.5 2.1 1.3 1.4 2.8 2.3 1.9 1.1 4.7 2.1 2.1 0.6z"/>
<path fill="#b7b7b7" fill-rule="evenodd" d="M213.5 355.5l10.1 1 6.4 0.2 6.4-0.2 6.4-0.4 4.2-0.6 8.5-1.6 4.3-1.1 4.2-1.6 2.9-1.4 1.9-1.2 1.6-1.3 1.8-2.1 0.4-1.1 0.2-1.2 0-1.1-0.4-1.2-0.7-1.1-2.3-2.3-3.8-2.3-5.8-2.3-6.4-1.7-6.4-1.2-8.5-0.9-6.4-0.3-8.5 0.1-6.4 0.4-8.5 1-6.4 1.4-4.3 1.3-5 2.2-3.3 2.3-1.1 1.1-0.8 1.2-0.5 1.1-0.3 1.2 0.1 1.1 0.3 1.2 0.6 1.1 0.8 1.1 2.8 2.4 4.2 2.2 4.4 1.7 6.3 1.7zM162 295.9l4.1 0.7 2.1 0.2 4.3-0.5 2.1-0.5 2.1-0.8 2.1-1.1 2-1.5 2-2.3 0.7-1.1 0.5-1.2 0.4-2.3-0.1-2.3-0.3-1.1-0.9-1.8-1.2-1.6-1.1-1.2-1.5-1.1-2.6-1.5-2.1-0.8-2.1-0.5-4.3-0.4-4.3 0.4-2.1 0.5-2.7 1.1-1.5 0.9-2 1.4-2 2.3-1.2 2.3-0.4 2.3 0.1 2.3 0.3 1.1 1.2 2.3 2 2.3 2 1.5 1.5 0.8z"/>
<path fill="#d8d8d8" fill-rule="evenodd" d="M214.4 354.4l9.2 0.9 10.6 0.1 8.6-0.6 4.2-0.5 5.5-1.1 4.3-1.1 3-1 3-1.3 2-1.2 1.7-1.1 1.2-1.2 0.9-1.1 0.5-1.1 0.2-1.2-0.1-1.1-0.4-1.2-0.7-1.1-1.1-1.2-1.4-1.1-3.7-2-4.2-1.7-4.3-1.2-6.4-1.3-6.4-0.8-8.5-0.5-6.4 0-6.4 0.4-6.4 0.7-6.4 1.2-4.2 1.1-4.6 1.8-2.2 1.1-1.7 1.2-1.3 1.1-0.9 1.2-0.6 1.1-0.3 1.2 0 1.1 0.3 1.2 0.7 1.1 0.9 1.1 3 2.3 4.6 2.3 3.5 1.2 5 1.3z"/>
<path fill="#d9dcef" fill-rule="evenodd" d="M228.6 354.4l7.8-0.2 6.4-0.5 6.3-1.1 6.5-1.7 3.1-1.1 2.3-1.2 1.8-1.1 1.4-1.2 0.9-1.1 0.6-1.1 0.3-1.2-0.1-1.1-0.5-1.2-0.8-1.1-1.2-1.2-1.6-1.1-2.1-1.2-4.2-1.6-4.2-1.2-6.4-1.3-6.4-0.7-6.4-0.4-6.4 0.1-6.4 0.4-6.4 0.8-6.4 1.4-4.2 1.4-4.3 2.1-1.7 1.3-1.1 1.2-0.7 1.1-0.3 1.2 0 1.1 0.3 1.2 0.6 1.1 1.1 1.1 1.4 1.2 1.8 1.1 2.9 1.4 6.4 2 6.1 1.2 6.6 0.8z"/>
<path fill="#b6c0f8" fill-rule="evenodd" d="M225.9 353.2l8.3 0.1 6.4-0.5 6.4-1 6.4-1.6 3.8-1.6 2-1.1 1.6-1.2 1-1.1 0.7-1.1 0.2-1.2-0.1-1.1-0.5-1.2-0.9-1.1-1.3-1.2-1.8-1.1-2.4-1.2-3.2-1.1-4.4-1.2-5.3-0.9-4.3-0.5-6.4-0.4-6.4 0.1-4.3 0.2-6.3 0.8-4.3 0.8-4.3 1.2-4.2 1.8-2.4 1.5-1.2 1.2-0.8 1.1-0.4 1.2 0 1.1 0.3 1.2 0.7 1.1 1.1 1.1 1.6 1.2 2.1 1.1 5.4 2 4.2 1.1 6.4 1z"/>
<path fill="#8797f0" fill-rule="evenodd" d="M224.5 352.1l7.6 0.2 6.4-0.4 6.4-0.9 5-1.2 3.5-1.2 2.2-1.1 1.7-1.2 1.2-1.1 0.7-1.1 0.3-1.2-0.1-1.1-0.5-1.2-1-1.1-1.5-1.2-2.1-1.1-3-1.2-4.3-1.2-4.2-0.9-4.3-0.5-6.4-0.4-6.4 0.1-4.3 0.2-4.2 0.6-5.1 1-3.8 1.1-2.8 1.2-1.9 1.1-1.4 1.2-0.9 1.1-0.5 1.2-0.1 1.1 0.4 1.2 0.8 1.1 1.2 1.1 1.8 1.2 3.8 1.6 4.2 1.3 6.4 1.2z"/>
<path fill="#6177e0" fill-rule="evenodd" d="M223.7 350.9l6.3 0.3 6.4-0.2 6.4-0.8 4.2-1 4.3-1.5 2.5-1.4 1.3-1.1 0.9-1.1 0.3-1.2-0.1-1.1-0.7-1.2-1.1-1.1-1.7-1.2-3.6-1.5-4.2-1.2-3.7-0.7-4.8-0.6-4.3-0.2-8.5 0.2-4.3 0.5-4.2 0.7-4.3 1.3-2.1 0.8-1.4 0.7-1.6 1.2-1.1 1.1-0.5 1.2-0.1 1.1 0.4 1.2 0.9 1.1 1.2 1 2.2 1.3 3 1.1 3.4 1 4.2 0.8z"/>
<path fill="#4257cc" fill-rule="evenodd" d="M223.7 349.8l6.3 0.3 4.2-0.1 6.4-0.7 4.3-0.9 4.2-1.6 2.5-1.6 1-1.1 0.3-1.2-0.1-1.1-0.7-1.2-1.4-1.1-2-1.2-3.1-1.1-2.8-0.8-4.3-0.7-4.3-0.4-4.2-0.1-4.3 0.1-4.3 0.4-4.2 0.7-2.8 0.8-3 1.1-2 1.2-1.2 1.1-0.7 1.2-0.1 1.1 0.5 1.2 1 1.1 1.9 1.3 2.2 1 3.8 1.1z"/>
<path fill="#1d30b0" fill-rule="evenodd" d="M224.7 348.6l5.3 0.3 4.2-0.1 4.3-0.5 3.9-0.8 3.3-1.2 2-1.1 1.2-1.1 0.4-1.2-0.1-1.1-0.9-1.2-1.6-1.1-3.9-1.6-3.3-0.7-3.1-0.5-6.4-0.3-6.4 0.3-3 0.5-3.4 0.8-3.6 1.5-1.6 1.1-0.8 1.2-0.1 1.1 0.5 1.2 1.2 1.1 2 1.1 4.5 1.5z"/>
<path d="M48.9 247.3V358.2M57.4 247.3V358.2M66 247.3V358.2M74.5 247.3V358.2M83 247.3V358.2M91.5 247.3V358.2M100 247.3V358.2M108.6 247.3V358.2M117.1 247.3V358.2M125.6 247.3V358.2M134.1 247.3V358.2M142.6 247.3V358.2M151.2 247.3V358.2M159.7 247.3V358.2M168.2 247.3V358.2M176.7 247.3V358.2M185.2 247.3V358.2M193.8 247.3V358.2M202.3 247.3V358.2M210.8 247.3V358.2M219.3 247.3V358.2M227.8 247.3V358.2M236.4 247.3V358.2M244.9 247.3V358.2M253.4 247.3V358.2M261.9 247.3V358.2M270.4 247.3V358.2M279 247.3V358.2M287.5 247.3V358.2" stroke="#000" stroke-opacity="0.28" stroke-width="0.7" stroke-dasharray="0.7 2.6" fill="none"/>
<path d="M40.4 353.7H296M40.4 347.9H296M40.4 342.1H296M40.4 336.4H296M40.4 330.6H296M40.4 324.9H296M40.4 319.1H296M40.4 313.4H296M40.4 307.6H296M40.4 301.8H296M40.4 296.1H296M40.4 290.3H296M40.4 284.6H296M40.4 278.8H296M40.4 273.1H296M40.4 267.3H296M40.4 261.6H296M40.4 255.8H296M40.4 250H296" stroke="#000" stroke-opacity="0.28" stroke-width="0.7" stroke-dasharray="0.7 2.6" fill="none"/>
<path d="M91.5 358.2v-2.5M91.5 247.3v2.5M142.6 358.2v-2.5M142.6 247.3v2.5M193.8 358.2v-2.5M193.8 247.3v2.5M244.9 358.2v-2.5M244.9 247.3v2.5M40.4 353.7h2.5M296 353.7h-2.5M40.4 330.6h2.5M296 330.6h-2.5M40.4 307.6h2.5M296 307.6h-2.5M40.4 284.6h2.5M296 284.6h-2.5M40.4 261.6h2.5M296 261.6h-2.5" stroke="#111" stroke-width="0.8" fill="none"/>
<rect x="40.4" y="247.3" width="255.6" height="110.9" fill="none" stroke="#858585" stroke-width="0.7"/>
<text transform="translate(36.1 358.9) scale(0.91 1)" font-size="14.3" text-anchor="end" fill="#111" >0.4</text>
<text transform="translate(36.1 335.8) scale(0.91 1)" font-size="14.3" text-anchor="end" fill="#111" >0.6</text>
<text transform="translate(36.1 312.8) scale(0.91 1)" font-size="14.3" text-anchor="end" fill="#111" >0.8</text>
<text transform="translate(36.1 289.8) scale(0.91 1)" font-size="14.3" text-anchor="end" fill="#111" >1</text>
<text transform="translate(36.1 266.8) scale(0.91 1)" font-size="14.3" text-anchor="end" fill="#111" >1.2</text>
<text transform="translate(168.2 260.3) scale(0.91 1)" font-size="14.3" text-anchor="middle" fill="#dcdcdc" >s=2</text>
<rect x="40.7" y="247.6" width="255" height="3.9" fill="#fff"/>
<text transform="translate(10.7 303.2) rotate(-90) scale(1.133 1)" font-size="13.4" text-anchor="middle" fill="#111" textLength="43.6" lengthAdjust="spacing"><tspan font-style="italic">T</tspan> (day)</text>
<rect x="297.3" y="348.1" width="9.1" height="10.4" fill="#4b4b4b"/>
<rect x="297.3" y="338" width="9.1" height="10.4" fill="#717171"/>
<rect x="297.3" y="328" width="9.1" height="10.4" fill="#959595"/>
<rect x="297.3" y="317.9" width="9.1" height="10.4" fill="#b7b7b7"/>
<rect x="297.3" y="307.8" width="9.1" height="10.4" fill="#d8d8d8"/>
<rect x="297.3" y="297.7" width="9.1" height="10.4" fill="#d9dcef"/>
<rect x="297.3" y="287.6" width="9.1" height="10.4" fill="#b6c0f8"/>
<rect x="297.3" y="277.5" width="9.1" height="10.4" fill="#8797f0"/>
<rect x="297.3" y="267.5" width="9.1" height="10.4" fill="#6177e0"/>
<rect x="297.3" y="257.4" width="9.1" height="10.4" fill="#4257cc"/>
<rect x="297.3" y="247.3" width="9.1" height="10.4" fill="#1d30b0"/>
<rect x="297.3" y="247.3" width="9.1" height="110.9" fill="none" stroke="#777" stroke-width="0.6"/>
<text transform="translate(311.8 266.3)" font-size="11.6" text-anchor="start" fill="#111" >8</text>
<text transform="translate(311.8 298.2)" font-size="11.6" text-anchor="start" fill="#111" >6</text>
<text transform="translate(311.8 330.1)" font-size="11.6" text-anchor="start" fill="#111" >4</text>
<text transform="translate(311.8 361.9)" font-size="11.6" text-anchor="start" fill="#111" >2</text>
<path d="M306.4 261.6h1.6M306.4 293.5h1.6M306.4 325.4h1.6M306.4 357.2h1.6" stroke="#262626" stroke-width="0.6" fill="none"/>
<text transform="translate(332.9 303.1) rotate(-90) scale(1.14 1)" font-size="13.6" text-anchor="middle" fill="#111" ><tspan font-style="italic">u</tspan><tspan font-size="9.6" dy="3.2"><tspan font-style="italic">s</tspan>=2</tspan><tspan dy="-3.2"> (ms</tspan><tspan font-size="9.6" dy="-5.2">−1</tspan><tspan dy="5.2">)</tspan></text>
<rect x="40.4" y="364.1" width="255.6" height="110.9" fill="#fff"/>
<rect x="40.4" y="368.3" width="255.6" height="106.7" fill="#4b4b4b"/>
<path fill="#717171" fill-rule="evenodd" d="M159.3 418.5l2.5 0.5 4.3 0.5 4.2 0 2.2-0.3 3.6-0.7 2.7-1 3-1.3 3.5-2.3 2.3-2.3 1.6-2.3 1.1-2.3 0.5-2.3 0-3.5-0.5-2.3-1.1-2.2-1.6-2.3-2.4-2.4-2.1-1.5-2.1-1.2-2.2-0.9-2.7-0.9-3.6-0.8-2.2-0.2-4.2-0.1-2.2 0.2-4.2 0.8-4.3 1.4-2.1 1.1-3.2 2.2-1.3 1.1-1.9 2.3-1.8 3.4-0.7 3.5 0.1 2.3 0.6 2.3 1.8 3.4 1.9 2.3 1.3 1.2 3.4 2.3 2.5 1.1z"/>
<path fill="#959595" fill-rule="evenodd" d="M167.7 410.4l2.6-0.2 2.2-0.6 2.1-1 2.1-1.9 1.1-2 0.3-1.2 0-1.1-0.3-1.2-0.5-1.1-0.8-1.2-1.3-1.1-2.7-1.5-2.2-0.6-2.1-0.2-2.1 0.1-2.2 0.4-2.1 0.8-1.7 1-1.2 1.1-0.9 1.2-0.5 1.1-0.2 1.2 0.2 2.3 0.5 1.1 0.9 1.2 1.2 1.1 1.7 1.1 2.1 0.7 2.2 0.5z"/>
<path d="M48.9 364.1V475M57.4 364.1V475M66 364.1V475M74.5 364.1V475M83 364.1V475M91.5 364.1V475M100 364.1V475M108.6 364.1V475M117.1 364.1V475M125.6 364.1V475M134.1 364.1V475M142.6 364.1V475M151.2 364.1V475M159.7 364.1V475M168.2 364.1V475M176.7 364.1V475M185.2 364.1V475M193.8 364.1V475M202.3 364.1V475M210.8 364.1V475M219.3 364.1V475M227.8 364.1V475M236.4 364.1V475M244.9 364.1V475M253.4 364.1V475M261.9 364.1V475M270.4 364.1V475M279 364.1V475M287.5 364.1V475" stroke="#000" stroke-opacity="0.28" stroke-width="0.7" stroke-dasharray="0.7 2.6" fill="none"/>
<path d="M40.4 470.5H296M40.4 464.7H296M40.4 459H296M40.4 453.2H296M40.4 447.5H296M40.4 441.7H296M40.4 436H296M40.4 430.2H296M40.4 424.5H296M40.4 418.7H296M40.4 412.9H296M40.4 407.2H296M40.4 401.4H296M40.4 395.7H296M40.4 389.9H296M40.4 384.2H296M40.4 378.4H296M40.4 372.6H296M40.4 366.9H296" stroke="#000" stroke-opacity="0.28" stroke-width="0.7" stroke-dasharray="0.7 2.6" fill="none"/>
<path d="M91.5 475v-2.5M91.5 364.1v2.5M142.6 475v-2.5M142.6 364.1v2.5M193.8 475v-2.5M193.8 364.1v2.5M244.9 475v-2.5M244.9 364.1v2.5M40.4 470.5h2.5M296 470.5h-2.5M40.4 447.5h2.5M296 447.5h-2.5M40.4 424.5h2.5M296 424.5h-2.5M40.4 401.4h2.5M296 401.4h-2.5M40.4 378.4h2.5M296 378.4h-2.5" stroke="#111" stroke-width="0.8" fill="none"/>
<rect x="40.4" y="364.1" width="255.6" height="110.9" fill="none" stroke="#858585" stroke-width="0.7"/>
<text transform="translate(36.1 475.7) scale(0.91 1)" font-size="14.3" text-anchor="end" fill="#111" >0.4</text>
<text transform="translate(36.1 452.7) scale(0.91 1)" font-size="14.3" text-anchor="end" fill="#111" >0.6</text>
<text transform="translate(36.1 429.7) scale(0.91 1)" font-size="14.3" text-anchor="end" fill="#111" >0.8</text>
<text transform="translate(36.1 406.6) scale(0.91 1)" font-size="14.3" text-anchor="end" fill="#111" >1</text>
<text transform="translate(36.1 383.6) scale(0.91 1)" font-size="14.3" text-anchor="end" fill="#111" >1.2</text>
<text transform="translate(168.2 377.1) scale(0.91 1)" font-size="14.3" text-anchor="middle" fill="#dcdcdc" >s=3</text>
<rect x="40.7" y="364.4" width="255" height="3.9" fill="#fff"/>
<text transform="translate(10.7 420.1) rotate(-90) scale(1.133 1)" font-size="13.4" text-anchor="middle" fill="#111" textLength="43.6" lengthAdjust="spacing"><tspan font-style="italic">T</tspan> (day)</text>
<rect x="297.3" y="465" width="9.1" height="10.4" fill="#4b4b4b"/>
<rect x="297.3" y="454.9" width="9.1" height="10.4" fill="#717171"/>
<rect x="297.3" y="444.8" width="9.1" height="10.4" fill="#959595"/>
<rect x="297.3" y="434.7" width="9.1" height="10.4" fill="#b7b7b7"/>
<rect x="297.3" y="424.6" width="9.1" height="10.4" fill="#d8d8d8"/>
<rect x="297.3" y="414.6" width="9.1" height="10.4" fill="#e5dcee"/>
<rect x="297.3" y="404.5" width="9.1" height="10.4" fill="#e3b9f8"/>
<rect x="297.3" y="394.4" width="9.1" height="10.4" fill="#cf8df0"/>
<rect x="297.3" y="384.3" width="9.1" height="10.4" fill="#b866e0"/>
<rect x="297.3" y="374.2" width="9.1" height="10.4" fill="#a046cc"/>
<rect x="297.3" y="364.1" width="9.1" height="10.4" fill="#8419b5"/>
<rect x="297.3" y="364.1" width="9.1" height="110.9" fill="none" stroke="#777" stroke-width="0.6"/>
<text transform="translate(311.8 383.2)" font-size="11.6" text-anchor="start" fill="#111" >8</text>
<text transform="translate(311.8 415.1)" font-size="11.6" text-anchor="start" fill="#111" >6</text>
<text transform="translate(311.8 446.9)" font-size="11.6" text-anchor="start" fill="#111" >4</text>
<text transform="translate(311.8 478.8)" font-size="11.6" text-anchor="start" fill="#111" >2</text>
<path d="M306.4 378.5h1.6M306.4 410.4h1.6M306.4 442.2h1.6M306.4 474.1h1.6" stroke="#262626" stroke-width="0.6" fill="none"/>
<text transform="translate(332.9 419.9) rotate(-90) scale(1.14 1)" font-size="13.6" text-anchor="middle" fill="#111" ><tspan font-style="italic">u</tspan><tspan font-size="9.6" dy="3.2"><tspan font-style="italic">s</tspan>=3</tspan><tspan dy="-3.2"> (ms</tspan><tspan font-size="9.6" dy="-5.2">−1</tspan><tspan dy="5.2">)</tspan></text>
<rect x="389.6" y="13.6" width="255.4" height="110.9" fill="#fff"/>
<rect x="389.6" y="13.6" width="255.4" height="110.9" fill="#4b4b4b"/>
<path fill="#717171" fill-rule="evenodd" d="M512.7 74.8l4.6 0.3 6.4-0.5 4.2-0.9 4.3-1.4 4.3-2.2 2.1-1.4 2.1-1.7 3.4-3.7 2-3.4 1.3-3.5 0.6-3.4 0-2.3-0.3-2.3-1-3.4-1.8-3.5-2.8-3.4-3.5-3.1-4.3-2.6-2.7-1.2-3.7-1.2-2.1-0.6-4.2-0.6-6.4-0.1-4.3 0.5-2.1 0.4-4.3 1.3-2.1 0.8-2.1 1.1-3.1 1.8-2.9 2.3-2.2 2.3-1.7 2.3-1.3 2.3-0.9 2.3-0.6 2.3-0.3 2.3 0.1 3.4 0.5 2.3 0.7 2.3 1.1 2.3 1.5 2.3 2 2.3 2.5 2.3 2.4 1.8 2.2 1.2 3.4 1.6 3 1z"/>
<path fill="#959595" fill-rule="evenodd" d="M512.9 69l4.4 0.4 4.3-0.2 4.2-0.9 2.1-0.7 4-2 2.4-1.7 2.2-2 2.1-2.9 1.2-2.6 0.6-2.3 0.2-3.4-0.4-2.3-1.4-3.4-1.6-2.3-2.2-2.3-2.8-2.2-4.3-2.1-4.2-1.2-4.3-0.6-4.2 0.1-2.2 0.2-4.7 1.2-2.8 1.1-2.1 1.2-3.2 2.3-2.1 2.1-0.9 1.3-1.7 3.5-0.6 2.2-0.2 2.3 0.2 2.3 0.6 2.3 1.7 3.5 0.9 1.2 2.1 2.2 3.2 2.3 2.1 1.2 2.8 1.1z"/>
<path fill="#b7b7b7" fill-rule="evenodd" d="M512.9 62.2l2.3 0.4 2.1 0.2 2.1-0.1 2.8-0.5 3.6-1.4 2.1-1.4 1.9-1.8 0.8-1.2 1-2.3 0.2-1.1 0-2.3-0.6-2.3-0.6-1.1-0.8-1.2-1.9-1.8-2.5-1.6-1.7-0.8-2.1-0.6-2.2-0.3-2.1-0.1-2.1 0.2-2.2 0.4-3.1 1.2-1.9 1.1-1.3 1.1-1.2 1.2-1.4 2.3-0.6 2.3 0 2.3 0.6 2.3 1.4 2.3 1.2 1.2 1.3 1.1 2.9 1.6z"/>
<path d="M398.1 13.6V124.5M406.6 13.6V124.5M415.1 13.6V124.5M423.7 13.6V124.5M432.2 13.6V124.5M440.7 13.6V124.5M449.2 13.6V124.5M457.7 13.6V124.5M466.2 13.6V124.5M474.7 13.6V124.5M483.2 13.6V124.5M491.8 13.6V124.5M500.3 13.6V124.5M508.8 13.6V124.5M517.3 13.6V124.5M525.8 13.6V124.5M534.3 13.6V124.5M542.8 13.6V124.5M551.4 13.6V124.5M559.9 13.6V124.5M568.4 13.6V124.5M576.9 13.6V124.5M585.4 13.6V124.5M593.9 13.6V124.5M602.4 13.6V124.5M610.9 13.6V124.5M619.5 13.6V124.5M628 13.6V124.5M636.5 13.6V124.5" stroke="#000" stroke-opacity="0.28" stroke-width="0.7" stroke-dasharray="0.7 2.6" fill="none"/>
<path d="M389.6 120H645M389.6 114.2H645M389.6 108.4H645M389.6 102.7H645M389.6 96.9H645M389.6 91.2H645M389.6 85.4H645M389.6 79.7H645M389.6 73.9H645M389.6 68.1H645M389.6 62.4H645M389.6 56.6H645M389.6 50.9H645M389.6 45.1H645M389.6 39.4H645M389.6 33.6H645M389.6 27.9H645M389.6 22.1H645M389.6 16.3H645" stroke="#000" stroke-opacity="0.28" stroke-width="0.7" stroke-dasharray="0.7 2.6" fill="none"/>
<path d="M440.7 124.5v-2.5M440.7 13.6v2.5M491.8 124.5v-2.5M491.8 13.6v2.5M542.8 124.5v-2.5M542.8 13.6v2.5M593.9 124.5v-2.5M593.9 13.6v2.5M389.6 120h2.5M645 120h-2.5M389.6 96.9h2.5M645 96.9h-2.5M389.6 73.9h2.5M645 73.9h-2.5M389.6 50.9h2.5M645 50.9h-2.5M389.6 27.9h2.5M645 27.9h-2.5" stroke="#111" stroke-width="0.8" fill="none"/>
<rect x="389.6" y="13.6" width="255.4" height="110.9" fill="none" stroke="#858585" stroke-width="0.7"/>
<text transform="translate(385 125.2) scale(0.91 1)" font-size="14.3" text-anchor="end" fill="#111" >0.4</text>
<text transform="translate(385 102.1) scale(0.91 1)" font-size="14.3" text-anchor="end" fill="#111" >0.6</text>
<text transform="translate(385 79.1) scale(0.91 1)" font-size="14.3" text-anchor="end" fill="#111" >0.8</text>
<text transform="translate(385 56.1) scale(0.91 1)" font-size="14.3" text-anchor="end" fill="#111" >1</text>
<text transform="translate(385 33.1) scale(0.91 1)" font-size="14.3" text-anchor="end" fill="#111" >1.2</text>
<text transform="translate(517.3 26.6) scale(0.91 1)" font-size="14.3" text-anchor="middle" fill="#dcdcdc" >s=0</text>
<rect x="644.8" y="13.6" width="2" height="110.9" fill="#8c8c8c"/>
<rect x="646.7" y="114.4" width="8.6" height="10.4" fill="#4b4b4b"/>
<rect x="646.7" y="104.3" width="8.6" height="10.4" fill="#717171"/>
<rect x="646.7" y="94.3" width="8.6" height="10.4" fill="#959595"/>
<rect x="646.7" y="84.2" width="8.6" height="10.4" fill="#b7b7b7"/>
<rect x="646.7" y="74.1" width="8.6" height="10.4" fill="#d8d8d8"/>
<rect x="646.7" y="64" width="8.6" height="10.4" fill="#dcecdc"/>
<rect x="646.7" y="53.9" width="8.6" height="10.4" fill="#c0fac6"/>
<rect x="646.7" y="43.8" width="8.6" height="10.4" fill="#8cf098"/>
<rect x="646.7" y="33.8" width="8.6" height="10.4" fill="#66e078"/>
<rect x="646.7" y="23.7" width="8.6" height="10.4" fill="#45cc58"/>
<rect x="646.7" y="13.6" width="8.6" height="10.4" fill="#1ab030"/>
<rect x="646.7" y="13.6" width="8.6" height="110.9" fill="none" stroke="#777" stroke-width="0.6"/>
<text transform="translate(660.7 32.6)" font-size="11.6" text-anchor="start" fill="#111" >8</text>
<text transform="translate(660.7 64.5)" font-size="11.6" text-anchor="start" fill="#111" >6</text>
<text transform="translate(660.7 96.4)" font-size="11.6" text-anchor="start" fill="#111" >4</text>
<text transform="translate(660.7 128.2)" font-size="11.6" text-anchor="start" fill="#111" >2</text>
<path d="M655.3 27.9h1.6M655.3 59.8h1.6M655.3 91.7h1.6M655.3 123.5h1.6" stroke="#262626" stroke-width="0.6" fill="none"/>
<text transform="translate(680.5 69.3) rotate(-90) scale(1.14 1)" font-size="13.6" text-anchor="middle" fill="#111" ><tspan font-style="italic">u</tspan><tspan font-size="9.6" dy="3.2"><tspan font-style="italic">s</tspan>=0</tspan><tspan dy="-3.2"> (ms</tspan><tspan font-size="9.6" dy="-5.2">−1</tspan><tspan dy="5.2">)</tspan></text>
<rect x="389.6" y="130.4" width="255.4" height="110.9" fill="#fff"/>
<rect x="389.6" y="130.4" width="255.4" height="110.9" fill="#4b4b4b"/>
<path fill="#717171" fill-rule="evenodd" d="M567.8 236.4l9.1 0.6 8.5 0 8.5-0.7 8.5-1.4 6.9-2 2.7-1.1 2.1-1.2 1.6-1.1 1.1-1.1 0.7-1.2 0.3-1.1 0-1.2-0.4-1.1-0.8-1.2-1.2-1.1-1.7-1.2-2.2-1.1-2.7-1.1-3.6-1.2-4.9-1.2-6.4-1.1-6.4-0.7-8.5-0.5-8.5 0.1-6.4 0.4-6.4 0.9-4.2 0.9-4.3 1.3-2.4 1-1.8 1-1.8 1.3-1.1 1.2-0.7 1.1-0.3 1.2-0.1 1.1 0.3 1.2 0.7 1.1 1 1.2 1.3 1.1 1.8 1.1 2.3 1.2 2.9 1.1 3.8 1.2 6.9 1.5zM500.8 200.8l8 0 12.8-0.8 6.3-0.7 4.3-1 6.4-2 5.4-2.4 5.2-3.1 4.7-3.8 3.1-3.4 1.6-2.3 1.2-2.3 1-2.3 0.6-2.3 0.4-2.3 0-2.3-0.3-3.4-0.5-2.3-1.6-4.6-2.7-4.6-2.8-3.4-3.7-3.5-4.8-3.4-4.7-2.5-4.2-1.8-6.4-1.8-4.3-0.8-6.4-0.4-4.2 0.3-6.4 1.8-6.4 2.7-4.3 2.4-14.9 9.3-4.2 2.2-4.3 1.9-4.2 1.5-6.4 1.6-6.4 0.9-10.6 0.9-2.2 0.3-3.7 1-2.6 1.2-2.2 1.4-1.8 2-1.3 2.3-0.6 2.3 0 1.1 0.3 2.3 1 2.3 1.6 2.3 2.4 2.3 2.7 2 2.4 1.4 4.7 2.3 9.9 3.9 8.5 2.4 8.5 2 6.4 1.2 6.4 1 6.4 0.7z"/>
<path fill="#959595" fill-rule="evenodd" d="M568.7 234.1l8.2 0.7 6.4 0 8.5-0.6 6.4-1.1 4.7-1.3 2.8-1.2 2.1-1.1 1.4-1.1 0.9-1.2 0.5-1.1-0.1-1.2-0.5-1.1-1-1.2-1.6-1.1-2.8-1.5-4.3-1.4-4.3-1.1-6.3-1-4.3-0.4-6.4-0.2-6.4 0.1-4.2 0.3-4.3 0.6-5.4 1.1-3.5 1.2-2.5 1.1-1.7 1.2-1.2 1.1-0.6 1.2-0.2 1.1 0.2 1.2 0.7 1.1 1.1 1.2 2.5 1.6 2.1 1 4.3 1.4 4.2 1zM489.6 196.2l6.4 0.8 8.5 0.3 6.4-0.1 12.8-1 4.2-0.7 6.4-1.7 4.3-1.7 4.2-2.2 4.2-2.9 3.7-3.4 2.6-3.4 1.2-2.3 0.9-2.3 0.7-3.5 0.1-2.3-0.2-2.3-1.1-4.5-1-2.3-1.2-2.3-1.5-2.3-1.9-2.3-3.7-3.5-4.9-3.3-4.2-2.1-4.3-1.6-6.4-1.5-6.4-0.6-4.2 0.3-6.4 1.8-4.3 1.7-6.4 3.3-12.7 7.8-8.5 4.6-8.6 3.6-13.7 4.4-3 1.1-2.4 1.4-1.2 0.9-1 1.2-0.5 1.1-0.2 1.2 0.1 1.1 0.4 1.2 0.6 1.1 0.9 1.2 2.5 2.3 5.4 3.4 7.8 3.4 8.6 3 8.5 2.3z"/>
<path fill="#b7b7b7" fill-rule="evenodd" d="M570.7 231.8l6.2 0.6 6.4 0 6.4-0.5 4.2-0.8 4.3-1.3 2.9-1.4 1.3-1.4 0.5-0.9-0.1-1.2-0.7-1.1-1.4-1.2-2.2-1.1-3.3-1.2-5.5-1.1-4.3-0.5-4.2-0.3-4.3 0-4.3 0.3-6.3 0.9-2.8 0.7-3 1.2-1.9 1.1-1.1 1.2-0.4 1.1 0.2 1.2 0.7 1.1 1.5 1.2 2.2 1.1 2.4 0.8zM498.2 193.9l4.2 0.3 6.4 0 12.8-0.8 4.2-0.6 4.3-1 4.2-1.5 4.3-2 3.7-2.4 3.9-3.4 2.6-3.5 1.6-3.4 0.8-3.5 0-3.4-0.3-2.3-0.6-2.3-1.5-3.4-2.3-3.5-3.2-3.4-2.8-2.3-4-2.5-4.3-1.9-4.3-1.3-4.2-0.8-4.3-0.3-4.2 0.2-4.3 1.1-4.2 1.5-4.3 1.9-4.3 2.3-14.9 9.1-15.1 9-3.2 2.3-1.2 1.2-0.9 1.1-0.6 1.2-0.3 1.1 0 1.2 0.3 1.1 0.6 1.2 0.9 1.1 1.2 1.2 3.1 2.3 4.2 2.2 5.4 2.3 7.3 2.3 6.9 1.5z"/>
<path fill="#d8d8d8" fill-rule="evenodd" d="M571.3 228.4l3.5 0.7 4.2 0.4 4.3-0.1 2.1-0.2 4.1-0.8 2.6-1.2 1-1.1-0.1-1.2-1.2-1.1-2.1-1-4.3-0.9-5.8-0.4-4.8 0.3-4.3 0.9-2.3 1.1-1 1.1 0.1 1.2 1.1 1zM495.3 190.5l5 0.6 6.4 0.4 4.2-0.1 10.7-0.8 4.2-0.7 4.3-1.2 4-1.7 2.4-1.2 3.2-2.2 3.1-3 2-2.7 1.6-3.5 0.6-3.4-0.3-3.5-0.9-3.4-1.7-3.4-1.7-2.3-2.1-2.3-2.8-2.3-3.2-2-3.1-1.5-3.3-1.1-2.1-0.6-4.2-0.7-4.3-0.1-2.1 0.3-4.3 1-6.4 2.4-4.2 2.1-4.3 2.5-10.5 6.9-7.6 5.7-2.4 2.3-1.9 2.3-1.1 2.3-0.2 1.1 0.1 1.2 0.3 1.1 0.6 1.2 0.8 1.1 2.6 2.3 1.7 1.2 4.6 2.2 3.1 1.2 3.8 1.1z"/>
<path fill="#e8ecd9" fill-rule="evenodd" d="M500 188.2l4.5 0.4 4.3 0.2 4.2-0.2 8.6-0.7 4.2-0.8 2.1-0.7 4.1-1.6 2.3-1.3 3-2.2 2.2-2.3 1.6-2.3 1.4-3.4 0.3-2.3-0.2-3.5-1.1-3.4-1.2-2.3-1.7-2.3-2.1-2.1-2.2-1.7-2.1-1.3-2.1-1.1-4.3-1.5-2.1-0.5-4.3-0.5-2.1 0-2.1 0.2-6.4 1.8-6.4 2.8-6.8 3.9-6.4 4.6-5.2 4.6-2 2.3-1.4 2.3-0.7 2.3 0 1.1 0.2 1.2 0.5 1.1 0.8 1.2 1.8 1.8 2.3 1.6 2.2 1.2 4.1 1.5 4.2 1.2z"/>
<path fill="#e8fac0" fill-rule="evenodd" d="M505.5 185.9l3.3 0.2 4.2-0.1 6.4-0.5 4.3-0.7 3.7-1.2 2.6-1.1 3.5-2.3 1.3-1.2 2-2.3 1.2-2.3 0.7-2.3 0.1-2.3-0.6-3.4-1-2.3-1.5-2.3-1.4-1.6-2.1-1.8-2.1-1.4-2.2-1.1-4.2-1.4-2.1-0.5-4.3-0.2-2.1 0.2-2.2 0.5-6.3 2.1-3.7 1.8-2.7 1.5-6 4.2-2.7 2.3-2.2 2.3-2.3 3.4-0.7 2.3-0.1 1.2 0.2 1.1 0.4 1.2 0.7 1.1 2 1.9 2.2 1.4 2.1 1 4.4 1.5 4.1 0.8z"/>
<path fill="#cdf08b" fill-rule="evenodd" d="M503 182.5l3.7 0.5 4.2 0.2 8.5-0.5 4.3-0.9 2.1-0.8 2.1-1 2.2-1.4 2-1.9 0.9-1.1 1.1-2.3 0.4-1.2 0.1-2.3-0.4-2.3-0.9-2.3-1.1-1.7-1.5-1.7-2.8-2.1-2.7-1.3-3.9-1.2-4-0.3-2.1 0.2-4.9 1.3-2.9 1.1-2.9 1.4-4.9 3.2-3.8 3.4-1.9 2.3-0.6 1.2-0.8 2.3-0.2 1.1 0.2 1.2 0.4 1.1 0.8 1.2 1.2 1.1 1.7 1.2 1.5 0.7 2.2 0.8z"/>
<path fill="#b6e063" fill-rule="evenodd" d="M504.7 179l4.1 0.8 4.2 0.2 6.4-0.5 2.2-0.5 2.9-1.1 1.8-1.2 1.6-1.4 1.4-2 0.4-1.2 0.3-2.3-0.6-2.3-0.5-1.1-1-1.4-2.2-2-2-1.2-2.1-0.8-2.2-0.5-2.1-0.1-2.1 0.1-4.3 1.2-2.8 1.3-3.6 2.1-2.9 2.4-1.8 2.3-1 2.3-0.1 1.2 0.2 1.1 0.5 1.2 0.9 1 1.7 1.3z"/>
<path fill="#9eca43" fill-rule="evenodd" d="M512.3 175.6l2.9 0.1 2.1-0.2 2.1-0.5 2.2-1 0.8-0.7 0.8-1.2 0.4-1.1 0-1.2-0.4-1.1-0.7-1.2-0.9-0.9-2.2-1.1-2.1-0.4-2.1 0.2-2.2 0.6-2.1 1-2.1 1.6-1.1 1.3-0.6 1.2-0.2 1.1 0.5 1.2 1.4 1.3 2.1 0.7z"/>
<path d="M398.1 130.4V241.3M406.6 130.4V241.3M415.1 130.4V241.3M423.7 130.4V241.3M432.2 130.4V241.3M440.7 130.4V241.3M449.2 130.4V241.3M457.7 130.4V241.3M466.2 130.4V241.3M474.7 130.4V241.3M483.2 130.4V241.3M491.8 130.4V241.3M500.3 130.4V241.3M508.8 130.4V241.3M517.3 130.4V241.3M525.8 130.4V241.3M534.3 130.4V241.3M542.8 130.4V241.3M551.4 130.4V241.3M559.9 130.4V241.3M568.4 130.4V241.3M576.9 130.4V241.3M585.4 130.4V241.3M593.9 130.4V241.3M602.4 130.4V241.3M610.9 130.4V241.3M619.5 130.4V241.3M628 130.4V241.3M636.5 130.4V241.3" stroke="#000" stroke-opacity="0.28" stroke-width="0.7" stroke-dasharray="0.7 2.6" fill="none"/>
<path d="M389.6 236.8H645M389.6 231H645M389.6 225.3H645M389.6 219.5H645M389.6 213.8H645M389.6 208H645M389.6 202.3H645M389.6 196.5H645M389.6 190.8H645M389.6 185H645M389.6 179.2H645M389.6 173.5H645M389.6 167.7H645M389.6 162H645M389.6 156.2H645M389.6 150.5H645M389.6 144.7H645M389.6 138.9H645M389.6 133.2H645" stroke="#000" stroke-opacity="0.28" stroke-width="0.7" stroke-dasharray="0.7 2.6" fill="none"/>
<path d="M440.7 241.3v-2.5M440.7 130.4v2.5M491.8 241.3v-2.5M491.8 130.4v2.5M542.8 241.3v-2.5M542.8 130.4v2.5M593.9 241.3v-2.5M593.9 130.4v2.5M389.6 236.8h2.5M645 236.8h-2.5M389.6 213.8h2.5M645 213.8h-2.5M389.6 190.8h2.5M645 190.8h-2.5M389.6 167.7h2.5M645 167.7h-2.5M389.6 144.7h2.5M645 144.7h-2.5" stroke="#111" stroke-width="0.8" fill="none"/>
<rect x="389.6" y="130.4" width="255.4" height="110.9" fill="none" stroke="#858585" stroke-width="0.7"/>
<text transform="translate(385 242) scale(0.91 1)" font-size="14.3" text-anchor="end" fill="#111" >0.4</text>
<text transform="translate(385 219) scale(0.91 1)" font-size="14.3" text-anchor="end" fill="#111" >0.6</text>
<text transform="translate(385 196) scale(0.91 1)" font-size="14.3" text-anchor="end" fill="#111" >0.8</text>
<text transform="translate(385 172.9) scale(0.91 1)" font-size="14.3" text-anchor="end" fill="#111" >1</text>
<text transform="translate(385 149.9) scale(0.91 1)" font-size="14.3" text-anchor="end" fill="#111" >1.2</text>
<text transform="translate(517.3 143.4) scale(0.91 1)" font-size="14.3" text-anchor="middle" fill="#dcdcdc" >s=-1</text>
<rect x="644.8" y="130.4" width="2" height="110.9" fill="#8c8c8c"/>
<rect x="646.7" y="231.3" width="8.6" height="10.4" fill="#4b4b4b"/>
<rect x="646.7" y="221.2" width="8.6" height="10.4" fill="#717171"/>
<rect x="646.7" y="211.1" width="8.6" height="10.4" fill="#959595"/>
<rect x="646.7" y="201" width="8.6" height="10.4" fill="#b7b7b7"/>
<rect x="646.7" y="190.9" width="8.6" height="10.4" fill="#d8d8d8"/>
<rect x="646.7" y="180.9" width="8.6" height="10.4" fill="#e8ecd9"/>
<rect x="646.7" y="170.8" width="8.6" height="10.4" fill="#e8fac0"/>
<rect x="646.7" y="160.7" width="8.6" height="10.4" fill="#cdf08b"/>
<rect x="646.7" y="150.6" width="8.6" height="10.4" fill="#b6e063"/>
<rect x="646.7" y="140.5" width="8.6" height="10.4" fill="#9eca43"/>
<rect x="646.7" y="130.4" width="8.6" height="10.4" fill="#84b019"/>
<rect x="646.7" y="130.4" width="8.6" height="110.9" fill="none" stroke="#777" stroke-width="0.6"/>
<text transform="translate(660.7 149.5)" font-size="11.6" text-anchor="start" fill="#111" >8</text>
<text transform="translate(660.7 181.4)" font-size="11.6" text-anchor="start" fill="#111" >6</text>
<text transform="translate(660.7 213.2)" font-size="11.6" text-anchor="start" fill="#111" >4</text>
<text transform="translate(660.7 245.1)" font-size="11.6" text-anchor="start" fill="#111" >2</text>
<path d="M655.3 144.8h1.6M655.3 176.7h1.6M655.3 208.5h1.6M655.3 240.4h1.6" stroke="#262626" stroke-width="0.6" fill="none"/>
<text transform="translate(680.5 186.2) rotate(-90) scale(1.14 1)" font-size="13.6" text-anchor="middle" fill="#111" ><tspan font-style="italic">u</tspan><tspan font-size="9.6" dy="3.2"><tspan font-style="italic">s</tspan>=−1</tspan><tspan dy="-3.2"> (ms</tspan><tspan font-size="9.6" dy="-5.2">−1</tspan><tspan dy="5.2">)</tspan></text>
<rect x="389.6" y="247.3" width="255.4" height="110.9" fill="#fff"/>
<rect x="389.6" y="247.3" width="255.4" height="110.9" fill="#4b4b4b"/>
<path fill="#717171" fill-rule="evenodd" d="M574.6 348.6l4.4 0.2 6.4-0.1 4.3-0.4 5-0.8 4.3-1.2 2.6-1.1 1.4-1.1 0.5-1.2-0.3-1.1-1.3-1.2-2.3-1.1-1.4-0.5-2.4-0.7-4-0.7-4.3-0.5-4.2-0.3-8.5 0.1-4.3 0.4-4.2 0.7-2.2 0.4-3.5 1.1-2.3 1.1-1.2 1.2-0.4 1.1 0.6 1.2 1.4 1.1 2.6 1.1 5 1.3zM447.7 301.6l3.6 0.5 2.1 0.1 4.3-0.2 2.2-0.4 4.1-1.1 2.2-1 2.4-1.3 2.9-2.3 1.1-1.2 1.6-2.3 1-2.3 0.5-2.3-0.1-2.3-0.5-2.3-1-2.2-1.7-2.3-2.5-2.3-3.8-2.3-4.1-1.6-3.4-0.7-3-0.4-4.3 0.1-2.1 0.2-4.3 1-4.2 1.8-2.1 1.2-2.3 1.8-2 2.2-0.8 1.3-0.6 1.1-0.8 2.3-0.2 3.4 0.3 1.5 0.6 2 1.3 2.3 0.9 1.1 1.4 1.5 2.2 1.7 2.1 1.3 2.1 0.9 2.1 0.8z"/>
<path fill="#959595" fill-rule="evenodd" d="M449.7 290.1l1.6 0.8 2.1 0.3 2.2-0.2 2.1-0.7 1.5-1.3 0.7-1.2 0.2-1.1-0.2-1.2-0.9-1.1-1.3-1.1-2.1-0.7-2.2-0.2-2.1 0.3-1.2 0.5-1.5 1.2-0.8 1.1-0.3 1.2 0.2 1.1 0.7 1.2z"/>
<path d="M398.1 247.3V358.2M406.6 247.3V358.2M415.1 247.3V358.2M423.7 247.3V358.2M432.2 247.3V358.2M440.7 247.3V358.2M449.2 247.3V358.2M457.7 247.3V358.2M466.2 247.3V358.2M474.7 247.3V358.2M483.2 247.3V358.2M491.8 247.3V358.2M500.3 247.3V358.2M508.8 247.3V358.2M517.3 247.3V358.2M525.8 247.3V358.2M534.3 247.3V358.2M542.8 247.3V358.2M551.4 247.3V358.2M559.9 247.3V358.2M568.4 247.3V358.2M576.9 247.3V358.2M585.4 247.3V358.2M593.9 247.3V358.2M602.4 247.3V358.2M610.9 247.3V358.2M619.5 247.3V358.2M628 247.3V358.2M636.5 247.3V358.2" stroke="#000" stroke-opacity="0.28" stroke-width="0.7" stroke-dasharray="0.7 2.6" fill="none"/>
<path d="M389.6 353.7H645M389.6 347.9H645M389.6 342.1H645M389.6 336.4H645M389.6 330.6H645M389.6 324.9H645M389.6 319.1H645M389.6 313.4H645M389.6 307.6H645M389.6 301.8H645M389.6 296.1H645M389.6 290.3H645M389.6 284.6H645M389.6 278.8H645M389.6 273.1H645M389.6 267.3H645M389.6 261.6H645M389.6 255.8H645M389.6 250H645" stroke="#000" stroke-opacity="0.28" stroke-width="0.7" stroke-dasharray="0.7 2.6" fill="none"/>
<path d="M440.7 358.2v-2.5M440.7 247.3v2.5M491.8 358.2v-2.5M491.8 247.3v2.5M542.8 358.2v-2.5M542.8 247.3v2.5M593.9 358.2v-2.5M593.9 247.3v2.5M389.6 353.7h2.5M645 353.7h-2.5M389.6 330.6h2.5M645 330.6h-2.5M389.6 307.6h2.5M645 307.6h-2.5M389.6 284.6h2.5M645 284.6h-2.5M389.6 261.6h2.5M645 261.6h-2.5" stroke="#111" stroke-width="0.8" fill="none"/>
<rect x="389.6" y="247.3" width="255.4" height="110.9" fill="none" stroke="#858585" stroke-width="0.7"/>
<text transform="translate(385 358.9) scale(0.91 1)" font-size="14.3" text-anchor="end" fill="#111" >0.4</text>
<text transform="translate(385 335.8) scale(0.91 1)" font-size="14.3" text-anchor="end" fill="#111" >0.6</text>
<text transform="translate(385 312.8) scale(0.91 1)" font-size="14.3" text-anchor="end" fill="#111" >0.8</text>
<text transform="translate(385 289.8) scale(0.91 1)" font-size="14.3" text-anchor="end" fill="#111" >1</text>
<text transform="translate(385 266.8) scale(0.91 1)" font-size="14.3" text-anchor="end" fill="#111" >1.2</text>
<text transform="translate(517.3 260.3) scale(0.91 1)" font-size="14.3" text-anchor="middle" fill="#dcdcdc" >s=-2</text>
<rect x="644.8" y="247.3" width="2" height="110.9" fill="#8c8c8c"/>
<rect x="646.7" y="348.1" width="8.6" height="10.4" fill="#4b4b4b"/>
<rect x="646.7" y="338" width="8.6" height="10.4" fill="#717171"/>
<rect x="646.7" y="328" width="8.6" height="10.4" fill="#959595"/>
<rect x="646.7" y="317.9" width="8.6" height="10.4" fill="#b7b7b7"/>
<rect x="646.7" y="307.8" width="8.6" height="10.4" fill="#d8d8d8"/>
<rect x="646.7" y="297.7" width="8.6" height="10.4" fill="#eee2d9"/>
<rect x="646.7" y="287.6" width="8.6" height="10.4" fill="#fad6b9"/>
<rect x="646.7" y="277.5" width="8.6" height="10.4" fill="#f0b58b"/>
<rect x="646.7" y="267.5" width="8.6" height="10.4" fill="#e09a66"/>
<rect x="646.7" y="257.4" width="8.6" height="10.4" fill="#cc8046"/>
<rect x="646.7" y="247.3" width="8.6" height="10.4" fill="#b5601b"/>
<rect x="646.7" y="247.3" width="8.6" height="110.9" fill="none" stroke="#777" stroke-width="0.6"/>
<text transform="translate(660.7 266.3)" font-size="11.6" text-anchor="start" fill="#111" >8</text>
<text transform="translate(660.7 298.2)" font-size="11.6" text-anchor="start" fill="#111" >6</text>
<text transform="translate(660.7 330.1)" font-size="11.6" text-anchor="start" fill="#111" >4</text>
<text transform="translate(660.7 361.9)" font-size="11.6" text-anchor="start" fill="#111" >2</text>
<path d="M655.3 261.6h1.6M655.3 293.5h1.6M655.3 325.4h1.6M655.3 357.2h1.6" stroke="#262626" stroke-width="0.6" fill="none"/>
<text transform="translate(680.5 303.1) rotate(-90) scale(1.14 1)" font-size="13.6" text-anchor="middle" fill="#111" ><tspan font-style="italic">u</tspan><tspan font-size="9.6" dy="3.2"><tspan font-style="italic">s</tspan>=−2</tspan><tspan dy="-3.2"> (ms</tspan><tspan font-size="9.6" dy="-5.2">−1</tspan><tspan dy="5.2">)</tspan></text>
<rect x="389.6" y="364.1" width="255.4" height="110.9" fill="#fff"/>
<rect x="389.6" y="364.1" width="255.4" height="110.9" fill="#4b4b4b"/>
<path fill="#717171" fill-rule="evenodd" d="M570.9 464.3l6 0.4 4.3 0 5.7-0.4 4.9-0.7 2.1-0.4 4.3-1.4 1.6-0.9 1.1-1.1 0.4-1.2-0.5-1.1-1.4-1.2-3.4-1.4-3.1-0.9-3.2-0.5-4.3-0.5-4.2-0.3-8.6 0.2-7.6 1.1-4.1 1.2-2.4 1.1-1.4 1.2-0.5 1.1 0.3 1.2 1.2 1.1 1.8 0.9 4.2 1.4z"/>
<path d="M398.1 364.1V475M406.6 364.1V475M415.1 364.1V475M423.7 364.1V475M432.2 364.1V475M440.7 364.1V475M449.2 364.1V475M457.7 364.1V475M466.2 364.1V475M474.7 364.1V475M483.2 364.1V475M491.8 364.1V475M500.3 364.1V475M508.8 364.1V475M517.3 364.1V475M525.8 364.1V475M534.3 364.1V475M542.8 364.1V475M551.4 364.1V475M559.9 364.1V475M568.4 364.1V475M576.9 364.1V475M585.4 364.1V475M593.9 364.1V475M602.4 364.1V475M610.9 364.1V475M619.5 364.1V475M628 364.1V475M636.5 364.1V475" stroke="#000" stroke-opacity="0.28" stroke-width="0.7" stroke-dasharray="0.7 2.6" fill="none"/>
<path d="M389.6 470.5H645M389.6 464.7H645M389.6 459H645M389.6 453.2H645M389.6 447.5H645M389.6 441.7H645M389.6 436H645M389.6 430.2H645M389.6 424.5H645M389.6 418.7H645M389.6 412.9H645M389.6 407.2H645M389.6 401.4H645M389.6 395.7H645M389.6 389.9H645M389.6 384.2H645M389.6 378.4H645M389.6 372.6H645M389.6 366.9H645" stroke="#000" stroke-opacity="0.28" stroke-width="0.7" stroke-dasharray="0.7 2.6" fill="none"/>
<path d="M440.7 475v-2.5M440.7 364.1v2.5M491.8 475v-2.5M491.8 364.1v2.5M542.8 475v-2.5M542.8 364.1v2.5M593.9 475v-2.5M593.9 364.1v2.5M389.6 470.5h2.5M645 470.5h-2.5M389.6 447.5h2.5M645 447.5h-2.5M389.6 424.5h2.5M645 424.5h-2.5M389.6 401.4h2.5M645 401.4h-2.5M389.6 378.4h2.5M645 378.4h-2.5" stroke="#111" stroke-width="0.8" fill="none"/>
<rect x="389.6" y="364.1" width="255.4" height="110.9" fill="none" stroke="#858585" stroke-width="0.7"/>
<text transform="translate(385 475.7) scale(0.91 1)" font-size="14.3" text-anchor="end" fill="#111" >0.4</text>
<text transform="translate(385 452.7) scale(0.91 1)" font-size="14.3" text-anchor="end" fill="#111" >0.6</text>
<text transform="translate(385 429.7) scale(0.91 1)" font-size="14.3" text-anchor="end" fill="#111" >0.8</text>
<text transform="translate(385 406.6) scale(0.91 1)" font-size="14.3" text-anchor="end" fill="#111" >1</text>
<text transform="translate(385 383.6) scale(0.91 1)" font-size="14.3" text-anchor="end" fill="#111" >1.2</text>
<text transform="translate(517.3 377.1) scale(0.91 1)" font-size="14.3" text-anchor="middle" fill="#dcdcdc" >s=-3</text>
<rect x="644.8" y="364.1" width="2" height="110.9" fill="#8c8c8c"/>
<rect x="646.7" y="465" width="8.6" height="10.4" fill="#4b4b4b"/>
<rect x="646.7" y="454.9" width="8.6" height="10.4" fill="#717171"/>
<rect x="646.7" y="444.8" width="8.6" height="10.4" fill="#959595"/>
<rect x="646.7" y="434.7" width="8.6" height="10.4" fill="#b7b7b7"/>
<rect x="646.7" y="424.6" width="8.6" height="10.4" fill="#d8d8d8"/>
<rect x="646.7" y="414.6" width="8.6" height="10.4" fill="#eedcdc"/>
<rect x="646.7" y="404.5" width="8.6" height="10.4" fill="#fac0c0"/>
<rect x="646.7" y="394.4" width="8.6" height="10.4" fill="#f08c8c"/>
<rect x="646.7" y="384.3" width="8.6" height="10.4" fill="#e06666"/>
<rect x="646.7" y="374.2" width="8.6" height="10.4" fill="#cc4545"/>
<rect x="646.7" y="364.1" width="8.6" height="10.4" fill="#b81a1a"/>
<rect x="646.7" y="364.1" width="8.6" height="110.9" fill="none" stroke="#777" stroke-width="0.6"/>
<text transform="translate(660.7 383.2)" font-size="11.6" text-anchor="start" fill="#111" >8</text>
<text transform="translate(660.7 415.1)" font-size="11.6" text-anchor="start" fill="#111" >6</text>
<text transform="translate(660.7 446.9)" font-size="11.6" text-anchor="start" fill="#111" >4</text>
<text transform="translate(660.7 478.8)" font-size="11.6" text-anchor="start" fill="#111" >2</text>
<path d="M655.3 378.5h1.6M655.3 410.4h1.6M655.3 442.2h1.6M655.3 474.1h1.6" stroke="#262626" stroke-width="0.6" fill="none"/>
<text transform="translate(680.5 419.9) rotate(-90) scale(1.14 1)" font-size="13.6" text-anchor="middle" fill="#111" ><tspan font-style="italic">u</tspan><tspan font-size="9.6" dy="3.2"><tspan font-style="italic">s</tspan>=−3</tspan><tspan dy="-3.2"> (ms</tspan><tspan font-size="9.6" dy="-5.2">−1</tspan><tspan dy="5.2">)</tspan></text>
<text transform="translate(41.4 25.6)" font-size="12.6" text-anchor="start" fill="#111" >(a)</text>
<rect x="40.7" y="130.8" width="15.9" height="15.7" fill="#fff"/>
<text transform="translate(41.4 142.4)" font-size="12.6" text-anchor="start" fill="#111" >(b)</text>
<rect x="40.7" y="247.6" width="15.2" height="15.7" fill="#fff"/>
<text transform="translate(41.4 259.3)" font-size="12.6" text-anchor="start" fill="#111" >(c)</text>
<rect x="40.7" y="364.4" width="15.9" height="15.7" fill="#fff"/>
<text transform="translate(41.4 376.1)" font-size="12.6" text-anchor="start" fill="#111" >(d)</text>
<rect x="389.9" y="13.9" width="15.4" height="15.7" fill="#fff"/>
<text transform="translate(390.6 25.6)" font-size="12.6" text-anchor="start" fill="#111" >(e)</text>
<rect x="389.9" y="130.8" width="14.0" height="15.7" fill="#fff"/>
<text transform="translate(390.6 142.4)" font-size="12.6" text-anchor="start" fill="#111" >(f)</text>
<rect x="389.9" y="247.6" width="16.6" height="15.7" fill="#fff"/>
<text transform="translate(390.6 259.3)" font-size="12.6" text-anchor="start" fill="#111" >(g)</text>
<rect x="389.9" y="364.4" width="15.9" height="15.7" fill="#fff"/>
<text transform="translate(390.6 376.1)" font-size="12.6" text-anchor="start" fill="#111" >(h)</text>
<text transform="translate(91.5 492) scale(0.91 1)" font-size="14.3" text-anchor="middle" fill="#111" >3</text>
<text transform="translate(142.6 492) scale(0.91 1)" font-size="14.3" text-anchor="middle" fill="#111" >6</text>
<text transform="translate(193.8 492) scale(0.91 1)" font-size="14.3" text-anchor="middle" fill="#111" >9</text>
<text transform="translate(244.9 492) scale(0.91 1)" font-size="14.3" text-anchor="middle" fill="#111" >12</text>
<text transform="translate(168.2 506)" font-size="14.5" text-anchor="middle" fill="#111" textLength="40" lengthAdjust="spacingAndGlyphs"><tspan font-style="italic">t</tspan> (day)</text>
<text transform="translate(440.7 492) scale(0.91 1)" font-size="14.3" text-anchor="middle" fill="#111" >3</text>
<text transform="translate(491.8 492) scale(0.91 1)" font-size="14.3" text-anchor="middle" fill="#111" >6</text>
<text transform="translate(542.8 492) scale(0.91 1)" font-size="14.3" text-anchor="middle" fill="#111" >9</text>
<text transform="translate(593.9 492) scale(0.91 1)" font-size="14.3" text-anchor="middle" fill="#111" >12</text>
<text transform="translate(517.3 506)" font-size="14.5" text-anchor="middle" fill="#111" textLength="40" lengthAdjust="spacingAndGlyphs"><tspan font-style="italic">t</tspan> (day)</text>
</svg></body></html>
